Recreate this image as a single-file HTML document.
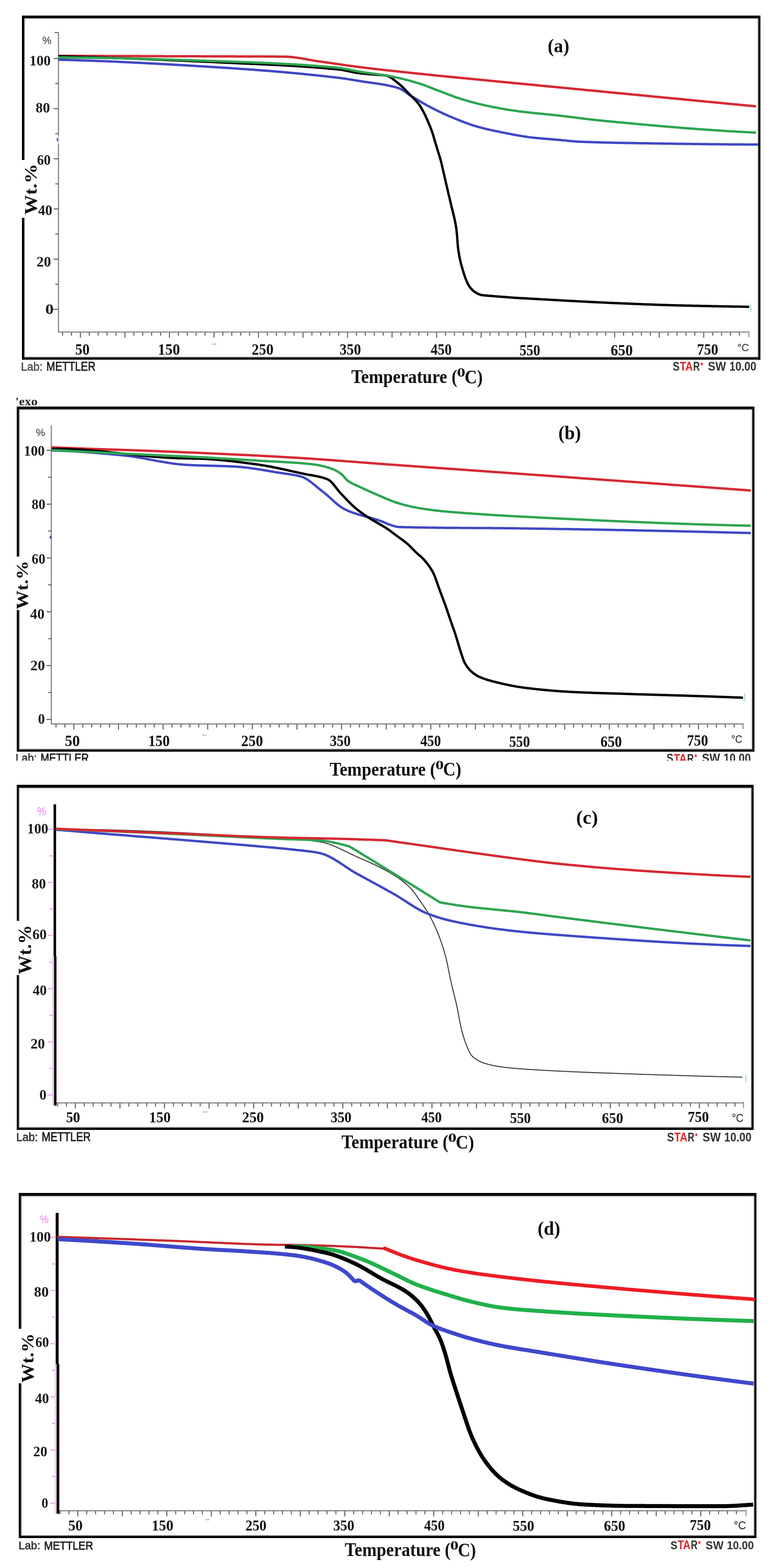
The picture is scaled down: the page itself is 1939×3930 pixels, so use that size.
<!DOCTYPE html><html><head><meta charset="utf-8"><title>TGA curves</title><style>html,body{margin:0;padding:0;background:#fff;}svg{display:block;}</style></head><body><svg width="1939" height="3930" viewBox="0 0 1939 3930"><rect width="1939" height="3930" fill="#fff"/>
<rect x="55" y="45.5" width="1850.00" height="2.00" fill="#9a9a9a"/>
<rect x="55" y="894.0" width="1850.00" height="2.00" fill="#9a9a9a"/>
<rect x="1898" y="39" width="2.00" height="862.50" fill="#9a9a9a"/>
<rect x="55" y="39" width="1850.00" height="6.50" fill="#000"/>
<rect x="55" y="896.0" width="1850.00" height="5.50" fill="#000"/>
<rect x="60.5" y="47.5" width="2.00" height="353.50" fill="#9a9a9a"/>
<rect x="55" y="39" width="5.50" height="362.00" fill="#000"/>
<rect x="60.5" y="546" width="2.00" height="348.00" fill="#9a9a9a"/>
<rect x="55" y="546" width="5.50" height="355.50" fill="#000"/>
<rect x="1900.0" y="39" width="5.00" height="862.50" fill="#000"/>
<line x1="146.5" y1="81.0" x2="146.5" y2="833.5" stroke="#8a8a8a" stroke-width="3"/>
<line x1="134.5" y1="146.4" x2="146.5" y2="146.4" stroke="#5a5a5a" stroke-width="2.5"/>
<line x1="138.5" y1="209.3" x2="146.5" y2="209.3" stroke="#5a5a5a" stroke-width="2.5"/>
<line x1="134.5" y1="272.2" x2="146.5" y2="272.2" stroke="#5a5a5a" stroke-width="2.5"/>
<line x1="138.5" y1="335.1" x2="146.5" y2="335.1" stroke="#5a5a5a" stroke-width="2.5"/>
<line x1="134.5" y1="398.0" x2="146.5" y2="398.0" stroke="#5a5a5a" stroke-width="2.5"/>
<line x1="138.5" y1="460.9" x2="146.5" y2="460.9" stroke="#5a5a5a" stroke-width="2.5"/>
<line x1="134.5" y1="523.7" x2="146.5" y2="523.7" stroke="#5a5a5a" stroke-width="2.5"/>
<line x1="138.5" y1="586.6" x2="146.5" y2="586.6" stroke="#5a5a5a" stroke-width="2.5"/>
<line x1="134.5" y1="649.5" x2="146.5" y2="649.5" stroke="#5a5a5a" stroke-width="2.5"/>
<line x1="138.5" y1="712.4" x2="146.5" y2="712.4" stroke="#5a5a5a" stroke-width="2.5"/>
<line x1="134.5" y1="775.3" x2="146.5" y2="775.3" stroke="#5a5a5a" stroke-width="2.5"/>
<line x1="137.0" y1="81.5" x2="146.0" y2="81.5" stroke="#5a5a5a" stroke-width="2.5"/>
<rect x="144.5" y="340" width="4.00" height="21.00" fill="#fff"/>
<line x1="146.5" y1="340.0" x2="146.5" y2="361.0" stroke="#c8c8c8" stroke-width="3"/>
<rect x="142" y="346" width="3.50" height="8.00" fill="#5a60c8"/>
<line x1="145.0" y1="832.3" x2="1876.0" y2="832.3" stroke="#8a8a8a" stroke-width="3"/>
<line x1="156.8" y1="833.3" x2="156.8" y2="841.3" stroke="#5a5a5a" stroke-width="2.5"/>
<line x1="179.1" y1="833.3" x2="179.1" y2="841.3" stroke="#5a5a5a" stroke-width="2.5"/>
<line x1="201.4" y1="833.3" x2="201.4" y2="846.3" stroke="#5a5a5a" stroke-width="2.5"/>
<line x1="223.7" y1="833.3" x2="223.7" y2="841.3" stroke="#5a5a5a" stroke-width="2.5"/>
<line x1="246.0" y1="833.3" x2="246.0" y2="841.3" stroke="#5a5a5a" stroke-width="2.5"/>
<line x1="268.3" y1="833.3" x2="268.3" y2="841.3" stroke="#5a5a5a" stroke-width="2.5"/>
<line x1="290.6" y1="833.3" x2="290.6" y2="841.3" stroke="#5a5a5a" stroke-width="2.5"/>
<line x1="312.9" y1="833.3" x2="312.9" y2="846.3" stroke="#5a5a5a" stroke-width="2.5"/>
<line x1="335.3" y1="833.3" x2="335.3" y2="841.3" stroke="#5a5a5a" stroke-width="2.5"/>
<line x1="357.6" y1="833.3" x2="357.6" y2="841.3" stroke="#5a5a5a" stroke-width="2.5"/>
<line x1="379.9" y1="833.3" x2="379.9" y2="841.3" stroke="#5a5a5a" stroke-width="2.5"/>
<line x1="402.2" y1="833.3" x2="402.2" y2="841.3" stroke="#5a5a5a" stroke-width="2.5"/>
<line x1="424.5" y1="833.3" x2="424.5" y2="846.3" stroke="#5a5a5a" stroke-width="2.5"/>
<line x1="446.8" y1="833.3" x2="446.8" y2="841.3" stroke="#5a5a5a" stroke-width="2.5"/>
<line x1="469.1" y1="833.3" x2="469.1" y2="841.3" stroke="#5a5a5a" stroke-width="2.5"/>
<line x1="491.4" y1="833.3" x2="491.4" y2="841.3" stroke="#5a5a5a" stroke-width="2.5"/>
<line x1="513.7" y1="833.3" x2="513.7" y2="841.3" stroke="#5a5a5a" stroke-width="2.5"/>
<line x1="536.0" y1="833.3" x2="536.0" y2="846.3" stroke="#5a5a5a" stroke-width="2.5"/>
<line x1="558.3" y1="833.3" x2="558.3" y2="841.3" stroke="#5a5a5a" stroke-width="2.5"/>
<line x1="580.7" y1="833.3" x2="580.7" y2="841.3" stroke="#5a5a5a" stroke-width="2.5"/>
<line x1="603.0" y1="833.3" x2="603.0" y2="841.3" stroke="#5a5a5a" stroke-width="2.5"/>
<line x1="625.3" y1="833.3" x2="625.3" y2="841.3" stroke="#5a5a5a" stroke-width="2.5"/>
<line x1="647.6" y1="833.3" x2="647.6" y2="846.3" stroke="#5a5a5a" stroke-width="2.5"/>
<line x1="669.9" y1="833.3" x2="669.9" y2="841.3" stroke="#5a5a5a" stroke-width="2.5"/>
<line x1="692.2" y1="833.3" x2="692.2" y2="841.3" stroke="#5a5a5a" stroke-width="2.5"/>
<line x1="714.5" y1="833.3" x2="714.5" y2="841.3" stroke="#5a5a5a" stroke-width="2.5"/>
<line x1="736.8" y1="833.3" x2="736.8" y2="841.3" stroke="#5a5a5a" stroke-width="2.5"/>
<line x1="759.1" y1="833.3" x2="759.1" y2="846.3" stroke="#5a5a5a" stroke-width="2.5"/>
<line x1="781.4" y1="833.3" x2="781.4" y2="841.3" stroke="#5a5a5a" stroke-width="2.5"/>
<line x1="803.7" y1="833.3" x2="803.7" y2="841.3" stroke="#5a5a5a" stroke-width="2.5"/>
<line x1="826.1" y1="833.3" x2="826.1" y2="841.3" stroke="#5a5a5a" stroke-width="2.5"/>
<line x1="848.4" y1="833.3" x2="848.4" y2="841.3" stroke="#5a5a5a" stroke-width="2.5"/>
<line x1="870.7" y1="833.3" x2="870.7" y2="846.3" stroke="#5a5a5a" stroke-width="2.5"/>
<line x1="893.0" y1="833.3" x2="893.0" y2="841.3" stroke="#5a5a5a" stroke-width="2.5"/>
<line x1="915.3" y1="833.3" x2="915.3" y2="841.3" stroke="#5a5a5a" stroke-width="2.5"/>
<line x1="937.6" y1="833.3" x2="937.6" y2="841.3" stroke="#5a5a5a" stroke-width="2.5"/>
<line x1="959.9" y1="833.3" x2="959.9" y2="841.3" stroke="#5a5a5a" stroke-width="2.5"/>
<line x1="982.2" y1="833.3" x2="982.2" y2="846.3" stroke="#5a5a5a" stroke-width="2.5"/>
<line x1="1004.5" y1="833.3" x2="1004.5" y2="841.3" stroke="#5a5a5a" stroke-width="2.5"/>
<line x1="1026.8" y1="833.3" x2="1026.8" y2="841.3" stroke="#5a5a5a" stroke-width="2.5"/>
<line x1="1049.1" y1="833.3" x2="1049.1" y2="841.3" stroke="#5a5a5a" stroke-width="2.5"/>
<line x1="1071.5" y1="833.3" x2="1071.5" y2="841.3" stroke="#5a5a5a" stroke-width="2.5"/>
<line x1="1093.8" y1="833.3" x2="1093.8" y2="846.3" stroke="#5a5a5a" stroke-width="2.5"/>
<line x1="1116.1" y1="833.3" x2="1116.1" y2="841.3" stroke="#5a5a5a" stroke-width="2.5"/>
<line x1="1138.4" y1="833.3" x2="1138.4" y2="841.3" stroke="#5a5a5a" stroke-width="2.5"/>
<line x1="1160.7" y1="833.3" x2="1160.7" y2="841.3" stroke="#5a5a5a" stroke-width="2.5"/>
<line x1="1183.0" y1="833.3" x2="1183.0" y2="841.3" stroke="#5a5a5a" stroke-width="2.5"/>
<line x1="1205.3" y1="833.3" x2="1205.3" y2="846.3" stroke="#5a5a5a" stroke-width="2.5"/>
<line x1="1227.6" y1="833.3" x2="1227.6" y2="841.3" stroke="#5a5a5a" stroke-width="2.5"/>
<line x1="1249.9" y1="833.3" x2="1249.9" y2="841.3" stroke="#5a5a5a" stroke-width="2.5"/>
<line x1="1272.2" y1="833.3" x2="1272.2" y2="841.3" stroke="#5a5a5a" stroke-width="2.5"/>
<line x1="1294.5" y1="833.3" x2="1294.5" y2="841.3" stroke="#5a5a5a" stroke-width="2.5"/>
<line x1="1316.9" y1="833.3" x2="1316.9" y2="846.3" stroke="#5a5a5a" stroke-width="2.5"/>
<line x1="1339.2" y1="833.3" x2="1339.2" y2="841.3" stroke="#5a5a5a" stroke-width="2.5"/>
<line x1="1361.5" y1="833.3" x2="1361.5" y2="841.3" stroke="#5a5a5a" stroke-width="2.5"/>
<line x1="1383.8" y1="833.3" x2="1383.8" y2="841.3" stroke="#5a5a5a" stroke-width="2.5"/>
<line x1="1406.1" y1="833.3" x2="1406.1" y2="841.3" stroke="#5a5a5a" stroke-width="2.5"/>
<line x1="1428.4" y1="833.3" x2="1428.4" y2="846.3" stroke="#5a5a5a" stroke-width="2.5"/>
<line x1="1450.7" y1="833.3" x2="1450.7" y2="841.3" stroke="#5a5a5a" stroke-width="2.5"/>
<line x1="1473.0" y1="833.3" x2="1473.0" y2="841.3" stroke="#5a5a5a" stroke-width="2.5"/>
<line x1="1495.3" y1="833.3" x2="1495.3" y2="841.3" stroke="#5a5a5a" stroke-width="2.5"/>
<line x1="1517.6" y1="833.3" x2="1517.6" y2="841.3" stroke="#5a5a5a" stroke-width="2.5"/>
<line x1="1539.9" y1="833.3" x2="1539.9" y2="846.3" stroke="#5a5a5a" stroke-width="2.5"/>
<line x1="1562.2" y1="833.3" x2="1562.2" y2="841.3" stroke="#5a5a5a" stroke-width="2.5"/>
<line x1="1584.6" y1="833.3" x2="1584.6" y2="841.3" stroke="#5a5a5a" stroke-width="2.5"/>
<line x1="1606.9" y1="833.3" x2="1606.9" y2="841.3" stroke="#5a5a5a" stroke-width="2.5"/>
<line x1="1629.2" y1="833.3" x2="1629.2" y2="841.3" stroke="#5a5a5a" stroke-width="2.5"/>
<line x1="1651.5" y1="833.3" x2="1651.5" y2="846.3" stroke="#5a5a5a" stroke-width="2.5"/>
<line x1="1673.8" y1="833.3" x2="1673.8" y2="841.3" stroke="#5a5a5a" stroke-width="2.5"/>
<line x1="1696.1" y1="833.3" x2="1696.1" y2="841.3" stroke="#5a5a5a" stroke-width="2.5"/>
<line x1="1718.4" y1="833.3" x2="1718.4" y2="841.3" stroke="#5a5a5a" stroke-width="2.5"/>
<line x1="1740.7" y1="833.3" x2="1740.7" y2="841.3" stroke="#5a5a5a" stroke-width="2.5"/>
<line x1="1763.0" y1="833.3" x2="1763.0" y2="846.3" stroke="#5a5a5a" stroke-width="2.5"/>
<line x1="1785.3" y1="833.3" x2="1785.3" y2="841.3" stroke="#5a5a5a" stroke-width="2.5"/>
<line x1="1807.6" y1="833.3" x2="1807.6" y2="841.3" stroke="#5a5a5a" stroke-width="2.5"/>
<line x1="1830.0" y1="833.3" x2="1830.0" y2="841.3" stroke="#5a5a5a" stroke-width="2.5"/>
<line x1="1852.3" y1="833.3" x2="1852.3" y2="841.3" stroke="#5a5a5a" stroke-width="2.5"/>
<line x1="1876.0" y1="830.3" x2="1876.0" y2="845.3" stroke="#8a8a8a" stroke-width="2.5"/>
<text transform="translate(73.87,164.15) scale(0.9950,1)" font-family="'Liberation Serif',serif" font-weight="bold" font-size="35.57" fill="#1a1a1a" >100</text>
<text transform="translate(89.30,281.65) scale(1.0142,1)" font-family="'Liberation Serif',serif" font-weight="bold" font-size="35.57" fill="#1a1a1a" >80</text>
<text transform="translate(92.63,412.65) scale(0.9638,1)" font-family="'Liberation Serif',serif" font-weight="bold" font-size="35.57" fill="#1a1a1a" >60</text>
<text transform="translate(95.52,538.65) scale(0.9963,1)" font-family="'Liberation Serif',serif" font-weight="bold" font-size="35.57" fill="#1a1a1a" >40</text>
<text transform="translate(91.48,668.35) scale(1.0209,1)" font-family="'Liberation Serif',serif" font-weight="bold" font-size="35.57" fill="#1a1a1a" >20</text>
<text transform="translate(113.39,787.35) scale(1.1875,1)" font-family="'Liberation Serif',serif" font-weight="bold" font-size="35.57" fill="#1a1a1a" >0</text>
<text transform="translate(188.57,888.62) scale(0.9115,1)" font-family="'Liberation Serif',serif" font-weight="bold" font-size="39.27" fill="#111" >50</text>
<text transform="translate(395.55,888.62) scale(0.9380,1)" font-family="'Liberation Serif',serif" font-weight="bold" font-size="39.27" fill="#111" >150</text>
<text transform="translate(630.47,888.62) scale(0.9290,1)" font-family="'Liberation Serif',serif" font-weight="bold" font-size="39.27" fill="#111" >250</text>
<text transform="translate(850.65,888.62) scale(0.9118,1)" font-family="'Liberation Serif',serif" font-weight="bold" font-size="39.27" fill="#111" >350</text>
<text transform="translate(1079.02,888.62) scale(0.8879,1)" font-family="'Liberation Serif',serif" font-weight="bold" font-size="39.27" fill="#111" >450</text>
<text transform="translate(1301.62,890.62) scale(0.8775,1)" font-family="'Liberation Serif',serif" font-weight="bold" font-size="39.27" fill="#111" >550</text>
<text transform="translate(1529.73,890.62) scale(0.9453,1)" font-family="'Liberation Serif',serif" font-weight="bold" font-size="39.27" fill="#111" >650</text>
<text transform="translate(1745.97,888.62) scale(0.9063,1)" font-family="'Liberation Serif',serif" font-weight="bold" font-size="39.27" fill="#111" >750</text>
<text transform="translate(1847.49,879.75) scale(0.9983,1)" font-family="'Liberation Sans',Arial,sans-serif" font-weight="normal" font-size="25.42" fill="#444" stroke="#444" stroke-width="0.5">°C</text>
<rect x="530" y="861.5" width="12.00" height="2.00" fill="#b0b0b0"/>
<text transform="translate(106.08,109.85) scale(0.9981,1)" font-family="'Liberation Sans',Arial,sans-serif" font-weight="normal" font-size="25.73" fill="#555" stroke="#555" stroke-width="0.5">%</text>
<text transform="translate(1371.95,131.28) scale(0.9443,1)" font-family="'Liberation Serif',serif" font-weight="bold" font-size="49.41" fill="#111" >(a)</text>
<text transform="translate(92.33,538.00) rotate(-90) scale(1.1129,1)" font-family="'Liberation Serif',serif" font-weight="bold" font-size="44.40" fill="#111">Wt.%</text>
<text transform="translate(879.92,960.21) scale(0.8782,1)" font-family="'Liberation Serif',serif" font-weight="bold" font-size="49.30" fill="#111" >Temperature (</text>
<text transform="translate(1144.69,943.99) scale(1.3134,1)" font-family="'Liberation Serif',serif" font-weight="bold" font-size="32.16" fill="#111" >0</text>
<text transform="translate(1163.89,960.51) scale(0.9031,1)" font-family="'Liberation Serif',serif" font-weight="bold" font-size="47.86" fill="#111" >C)</text>
<text transform="translate(52.41,928.52) scale(0.9691,1)" font-family="'Liberation Sans',Arial,sans-serif" font-weight="normal" font-size="28.87" fill="#555" stroke="#555" stroke-width="0.9">Lab:</text>
<text transform="translate(116.34,928.80) scale(0.8545,1)" font-family="'Liberation Sans',Arial,sans-serif" font-weight="normal" font-size="30.81" fill="#222" stroke="#222" stroke-width="1.1">METTLER</text>
<text transform="translate(1685.25,929.10) scale(0.8535,1)" font-family="'Liberation Sans',Arial,sans-serif" font-weight="bold" font-size="30.51" fill="#333" >S</text>
<text transform="translate(1703.21,929.40) scale(0.8237,1)" font-family="'Liberation Sans',Arial,sans-serif" font-weight="bold" font-size="31.40" fill="#e0262c" >TA</text>
<text transform="translate(1736.45,929.40) scale(0.7376,1)" font-family="'Liberation Sans',Arial,sans-serif" font-weight="bold" font-size="31.40" fill="#333" >R</text>
<text transform="translate(1754.35,922.96) scale(0.8244,1)" font-family="'Liberation Sans',Arial,sans-serif" font-weight="bold" font-size="22.04" fill="#e0262c" >*</text>
<text transform="translate(1773.49,929.10) scale(0.9163,1)" font-family="'Liberation Sans',Arial,sans-serif" font-weight="bold" font-size="30.51" fill="#333" >SW</text>
<text transform="translate(1827.20,929.10) scale(0.8870,1)" font-family="'Liberation Sans',Arial,sans-serif" font-weight="bold" font-size="30.51" fill="#333" >10.00</text>
<line x1="1880.6" y1="761.0" x2="1880.6" y2="781.0" stroke="#7fd0d8" stroke-width="2"/>
<path d="M146.0,140.0 L149.0,140.0 L152.0,140.0 L155.0,140.0 L158.0,140.0 L161.0,140.0 L164.0,140.1 L167.0,140.1 L170.0,140.1 L173.0,140.1 L176.0,140.1 L179.0,140.1 L182.0,140.1 L185.0,140.1 L188.0,140.1 L191.0,140.1 L194.0,140.1 L197.0,140.2 L200.0,140.2 L203.0,140.2 L206.0,140.2 L209.0,140.2 L212.0,140.2 L215.0,140.2 L218.0,140.2 L221.0,140.2 L224.0,140.2 L227.0,140.3 L230.0,140.3 L233.0,140.3 L236.0,140.3 L239.0,140.3 L242.0,140.3 L245.0,140.3 L248.0,140.3 L251.0,140.3 L254.0,140.3 L257.0,140.3 L260.0,140.4 L263.0,140.4 L266.0,140.4 L269.0,140.4 L272.0,140.4 L275.0,140.4 L278.0,140.4 L281.0,140.4 L284.0,140.4 L287.0,140.4 L290.0,140.5 L293.0,140.5 L296.0,140.5 L299.0,140.5 L302.0,140.5 L305.0,140.5 L308.0,140.5 L311.0,140.5 L314.0,140.5 L317.0,140.5 L320.0,140.6 L323.0,140.6 L326.0,140.6 L329.0,140.6 L332.0,140.6 L335.0,140.6 L338.0,140.6 L341.0,140.6 L344.0,140.6 L347.0,140.6 L350.0,140.7 L353.0,140.7 L356.0,140.7 L359.0,140.7 L362.0,140.7 L365.0,140.7 L368.0,140.7 L371.0,140.7 L374.0,140.7 L377.0,140.7 L380.0,140.8 L383.0,140.8 L386.0,140.8 L389.0,140.8 L392.0,140.8 L395.0,140.8 L398.0,140.8 L401.0,140.8 L404.0,140.8 L407.0,140.8 L410.0,140.9 L413.0,140.9 L416.0,140.9 L419.0,140.9 L422.0,140.9 L425.0,140.9 L428.0,140.9 L431.0,140.9 L434.0,140.9 L437.0,141.0 L440.0,141.0 L443.0,141.0 L446.0,141.0 L449.0,141.0 L452.0,141.0 L455.0,141.0 L458.0,141.0 L461.0,141.0 L464.0,141.0 L467.0,141.1 L470.0,141.1 L473.0,141.1 L476.0,141.1 L479.0,141.1 L482.0,141.1 L485.0,141.1 L488.0,141.1 L491.0,141.1 L494.0,141.1 L497.0,141.1 L500.0,141.1 L503.0,141.1 L506.0,141.2 L509.0,141.2 L512.0,141.2 L515.0,141.2 L518.0,141.2 L521.0,141.2 L524.0,141.2 L527.0,141.2 L530.0,141.2 L533.0,141.2 L536.0,141.2 L539.0,141.2 L542.0,141.2 L545.0,141.2 L548.0,141.2 L551.0,141.3 L554.0,141.3 L557.0,141.3 L560.0,141.3 L563.0,141.3 L566.0,141.3 L569.0,141.3 L572.0,141.3 L575.0,141.3 L578.0,141.3 L581.0,141.3 L584.0,141.3 L587.0,141.3 L590.0,141.4 L593.0,141.4 L596.0,141.4 L599.0,141.4 L602.0,141.4 L605.0,141.4 L608.0,141.4 L611.0,141.4 L614.0,141.4 L617.0,141.4 L620.0,141.4 L623.0,141.5 L626.0,141.5 L629.0,141.5 L632.0,141.5 L635.0,141.5 L638.0,141.5 L641.0,141.5 L644.0,141.5 L647.0,141.6 L650.0,141.6 L653.0,141.6 L656.0,141.6 L659.0,141.6 L662.0,141.6 L665.0,141.7 L668.0,141.7 L671.0,141.7 L674.0,141.7 L677.0,141.7 L680.0,141.7 L683.0,141.8 L686.0,141.8 L689.0,141.8 L692.0,141.8 L695.0,141.9 L698.0,141.9 L701.0,141.9 L704.0,141.9 L707.0,141.9 L710.0,142.0 L713.0,142.0 L716.0,142.1 L719.0,142.2 L722.0,142.3 L725.0,142.5 L728.0,142.7 L731.0,143.0 L734.0,143.3 L737.0,143.7 L740.0,144.1 L743.0,144.5 L746.0,144.9 L749.0,145.4 L752.0,145.8 L755.0,146.3 L758.0,146.8 L761.0,147.4 L764.0,147.9 L767.0,148.4 L770.0,149.0 L773.0,149.5 L776.0,150.1 L779.0,150.6 L782.0,151.1 L785.0,151.6 L788.0,152.2 L791.0,152.6 L794.0,153.1 L797.0,153.6 L800.0,154.0 L803.0,154.4 L806.0,154.8 L809.0,155.3 L812.0,155.7 L815.0,156.1 L818.0,156.5 L821.0,157.0 L824.0,157.4 L827.0,157.8 L830.0,158.3 L833.0,158.7 L836.0,159.1 L839.0,159.6 L842.0,160.0 L845.0,160.5 L848.0,160.9 L851.0,161.3 L854.0,161.7 L857.0,162.2 L860.0,162.6 L863.0,163.0 L866.0,163.5 L869.0,163.9 L872.0,164.3 L875.0,164.7 L878.0,165.1 L881.0,165.5 L884.0,165.9 L887.0,166.3 L890.0,166.7 L893.0,167.1 L896.0,167.5 L899.0,167.9 L902.0,168.2 L905.0,168.6 L908.0,169.0 L911.0,169.4 L914.0,169.7 L917.0,170.1 L920.0,170.5 L923.0,170.8 L926.0,171.2 L929.0,171.5 L932.0,171.9 L935.0,172.2 L938.0,172.6 L941.0,172.9 L944.0,173.3 L947.0,173.6 L950.0,174.0 L953.0,174.3 L956.0,174.6 L959.0,175.0 L962.0,175.3 L965.0,175.7 L968.0,176.0 L971.0,176.3 L974.0,176.7 L977.0,177.0 L980.0,177.3 L983.0,177.6 L986.0,178.0 L989.0,178.3 L992.0,178.6 L995.0,178.9 L998.0,179.3 L1001.0,179.6 L1004.0,179.9 L1007.0,180.2 L1010.0,180.6 L1013.0,180.9 L1016.0,181.2 L1019.0,181.5 L1022.0,181.8 L1025.0,182.1 L1028.0,182.5 L1031.0,182.8 L1034.0,183.1 L1037.0,183.4 L1040.0,183.7 L1043.0,184.0 L1046.0,184.3 L1049.0,184.7 L1052.0,185.0 L1055.0,185.3 L1058.0,185.6 L1061.0,185.9 L1064.0,186.2 L1067.0,186.5 L1070.0,186.9 L1073.0,187.2 L1076.0,187.5 L1079.0,187.8 L1082.0,188.1 L1085.0,188.4 L1088.0,188.7 L1091.0,189.0 L1094.0,189.3 L1097.0,189.6 L1100.0,189.9 L1103.0,190.2 L1106.0,190.5 L1109.0,190.8 L1112.0,191.1 L1115.0,191.4 L1118.0,191.7 L1121.0,192.0 L1124.0,192.3 L1127.0,192.6 L1130.0,192.9 L1133.0,193.1 L1136.0,193.4 L1139.0,193.7 L1142.0,194.0 L1145.0,194.3 L1148.0,194.6 L1151.0,194.9 L1154.0,195.2 L1157.0,195.5 L1160.0,195.8 L1163.0,196.1 L1166.0,196.3 L1169.0,196.6 L1172.0,196.9 L1175.0,197.2 L1178.0,197.5 L1181.0,197.8 L1184.0,198.1 L1187.0,198.4 L1190.0,198.7 L1193.0,199.0 L1196.0,199.3 L1199.0,199.5 L1202.0,199.8 L1205.0,200.1 L1208.0,200.4 L1211.0,200.7 L1214.0,201.0 L1217.0,201.3 L1220.0,201.6 L1223.0,201.9 L1226.0,202.2 L1229.0,202.5 L1232.0,202.8 L1235.0,203.1 L1238.0,203.3 L1241.0,203.6 L1244.0,203.9 L1247.0,204.2 L1250.0,204.5 L1253.0,204.8 L1256.0,205.1 L1259.0,205.4 L1262.0,205.7 L1265.0,206.0 L1268.0,206.3 L1271.0,206.5 L1274.0,206.8 L1277.0,207.1 L1280.0,207.4 L1283.0,207.7 L1286.0,208.0 L1289.0,208.3 L1292.0,208.6 L1295.0,208.9 L1298.0,209.2 L1301.0,209.4 L1304.0,209.7 L1307.0,210.0 L1310.0,210.3 L1313.0,210.6 L1316.0,210.9 L1319.0,211.2 L1322.0,211.5 L1325.0,211.8 L1328.0,212.1 L1331.0,212.3 L1334.0,212.6 L1337.0,212.9 L1340.0,213.2 L1343.0,213.5 L1346.0,213.8 L1349.0,214.1 L1352.0,214.4 L1355.0,214.7 L1358.0,214.9 L1361.0,215.2 L1364.0,215.5 L1367.0,215.8 L1370.0,216.1 L1373.0,216.4 L1376.0,216.7 L1379.0,217.0 L1382.0,217.3 L1385.0,217.6 L1388.0,217.8 L1391.0,218.1 L1394.0,218.4 L1397.0,218.7 L1400.0,219.0 L1403.0,219.3 L1406.0,219.6 L1409.0,219.9 L1412.0,220.2 L1415.0,220.4 L1418.0,220.7 L1421.0,221.0 L1424.0,221.3 L1427.0,221.6 L1430.0,221.9 L1433.0,222.2 L1436.0,222.5 L1439.0,222.8 L1442.0,223.1 L1445.0,223.3 L1448.0,223.6 L1451.0,223.9 L1454.0,224.2 L1457.0,224.5 L1460.0,224.8 L1463.0,225.1 L1466.0,225.4 L1469.0,225.7 L1472.0,226.0 L1475.0,226.2 L1478.0,226.5 L1481.0,226.8 L1484.0,227.1 L1487.0,227.4 L1490.0,227.7 L1493.0,228.0 L1496.0,228.3 L1499.0,228.6 L1502.0,228.8 L1505.0,229.1 L1508.0,229.4 L1511.0,229.7 L1514.0,230.0 L1517.0,230.3 L1520.0,230.6 L1523.0,230.9 L1526.0,231.2 L1529.0,231.5 L1532.0,231.7 L1535.0,232.0 L1538.0,232.3 L1541.0,232.6 L1544.0,232.9 L1547.0,233.2 L1550.0,233.5 L1553.0,233.8 L1556.0,234.1 L1559.0,234.3 L1562.0,234.6 L1565.0,234.9 L1568.0,235.2 L1571.0,235.5 L1574.0,235.8 L1577.0,236.1 L1580.0,236.4 L1583.0,236.7 L1586.0,237.0 L1589.0,237.2 L1592.0,237.5 L1595.0,237.8 L1598.0,238.1 L1601.0,238.4 L1604.0,238.7 L1607.0,239.0 L1610.0,239.3 L1613.0,239.6 L1616.0,239.8 L1619.0,240.1 L1622.0,240.4 L1625.0,240.7 L1628.0,241.0 L1631.0,241.3 L1634.0,241.6 L1637.0,241.9 L1640.0,242.2 L1643.0,242.4 L1646.0,242.7 L1649.0,243.0 L1652.0,243.3 L1655.0,243.6 L1658.0,243.9 L1661.0,244.2 L1664.0,244.5 L1667.0,244.8 L1670.0,245.0 L1673.0,245.3 L1676.0,245.6 L1679.0,245.9 L1682.0,246.2 L1685.0,246.5 L1688.0,246.8 L1691.0,247.1 L1694.0,247.4 L1697.0,247.6 L1700.0,247.9 L1703.0,248.2 L1706.0,248.5 L1709.0,248.8 L1712.0,249.1 L1715.0,249.4 L1718.0,249.7 L1721.0,250.0 L1724.0,250.2 L1727.0,250.5 L1730.0,250.8 L1733.0,251.1 L1736.0,251.4 L1739.0,251.7 L1742.0,252.0 L1745.0,252.3 L1748.0,252.6 L1751.0,252.8 L1754.0,253.1 L1757.0,253.4 L1760.0,253.7 L1763.0,254.0 L1766.0,254.3 L1769.0,254.6 L1772.0,254.9 L1775.0,255.2 L1778.0,255.4 L1781.0,255.7 L1784.0,256.0 L1787.0,256.3 L1790.0,256.6 L1793.0,256.9 L1796.0,257.2 L1799.0,257.5 L1802.0,257.8 L1805.0,258.0 L1808.0,258.3 L1811.0,258.6 L1814.0,258.9 L1817.0,259.2 L1820.0,259.5 L1823.0,259.8 L1826.0,260.1 L1829.0,260.4 L1832.0,260.6 L1835.0,260.9 L1838.0,261.2 L1841.0,261.5 L1844.0,261.8 L1847.0,262.1 L1850.0,262.4 L1853.0,262.7 L1856.0,262.9 L1859.0,263.2 L1862.0,263.5 L1865.0,263.8 L1868.0,264.1 L1871.0,264.4 L1874.0,264.7 L1877.0,265.0 L1880.0,265.3 L1883.0,265.5 L1886.0,265.8 L1889.0,266.1 L1892.0,266.4 L1894.0,266.6" fill="none" stroke="#d52a33" stroke-width="6" stroke-linejoin="round" stroke-linecap="butt"/>
<path d="M146.0,149.6 L149.0,149.7 L152.0,149.8 L155.0,149.8 L158.0,149.9 L161.0,150.0 L164.0,150.1 L167.0,150.2 L170.0,150.2 L173.0,150.3 L176.0,150.4 L179.0,150.5 L182.0,150.6 L185.0,150.7 L188.0,150.8 L191.0,150.9 L194.0,151.0 L197.0,151.1 L200.0,151.2 L203.0,151.3 L206.0,151.4 L209.0,151.5 L212.0,151.6 L215.0,151.7 L218.0,151.8 L221.0,151.9 L224.0,152.0 L227.0,152.1 L230.0,152.2 L233.0,152.3 L236.0,152.4 L239.0,152.6 L242.0,152.7 L245.0,152.8 L248.0,152.9 L251.0,153.0 L254.0,153.1 L257.0,153.3 L260.0,153.4 L263.0,153.5 L266.0,153.6 L269.0,153.7 L272.0,153.9 L275.0,154.0 L278.0,154.1 L281.0,154.3 L284.0,154.4 L287.0,154.5 L290.0,154.6 L293.0,154.8 L296.0,154.9 L299.0,155.0 L302.0,155.2 L305.0,155.3 L308.0,155.5 L311.0,155.6 L314.0,155.7 L317.0,155.9 L320.0,156.0 L323.0,156.2 L326.0,156.3 L329.0,156.4 L332.0,156.6 L335.0,156.7 L338.0,156.9 L341.0,157.0 L344.0,157.2 L347.0,157.3 L350.0,157.5 L353.0,157.6 L356.0,157.8 L359.0,157.9 L362.0,158.1 L365.0,158.2 L368.0,158.4 L371.0,158.6 L374.0,158.7 L377.0,158.9 L380.0,159.0 L383.0,159.2 L386.0,159.4 L389.0,159.5 L392.0,159.7 L395.0,159.8 L398.0,160.0 L401.0,160.2 L404.0,160.3 L407.0,160.5 L410.0,160.7 L413.0,160.8 L416.0,161.0 L419.0,161.2 L422.0,161.3 L425.0,161.5 L428.0,161.7 L431.0,161.8 L434.0,162.0 L437.0,162.2 L440.0,162.4 L443.0,162.5 L446.0,162.7 L449.0,162.9 L452.0,163.1 L455.0,163.2 L458.0,163.4 L461.0,163.6 L464.0,163.8 L467.0,163.9 L470.0,164.1 L473.0,164.3 L476.0,164.5 L479.0,164.7 L482.0,164.8 L485.0,165.0 L488.0,165.2 L491.0,165.4 L494.0,165.6 L497.0,165.7 L500.0,165.9 L503.0,166.1 L506.0,166.3 L509.0,166.5 L512.0,166.7 L515.0,166.8 L518.0,167.0 L521.0,167.2 L524.0,167.4 L527.0,167.6 L530.0,167.8 L533.0,168.0 L536.0,168.2 L539.0,168.3 L542.0,168.5 L545.0,168.7 L548.0,168.9 L551.0,169.1 L554.0,169.3 L557.0,169.5 L560.0,169.7 L563.0,169.9 L566.0,170.1 L569.0,170.3 L572.0,170.5 L575.0,170.6 L578.0,170.8 L581.0,171.0 L584.0,171.2 L587.0,171.4 L590.0,171.6 L593.0,171.8 L596.0,172.0 L599.0,172.2 L602.0,172.5 L605.0,172.7 L608.0,172.9 L611.0,173.1 L614.0,173.3 L617.0,173.5 L620.0,173.7 L623.0,173.9 L626.0,174.2 L629.0,174.4 L632.0,174.6 L635.0,174.8 L638.0,175.0 L641.0,175.3 L644.0,175.5 L647.0,175.7 L650.0,175.9 L653.0,176.2 L656.0,176.4 L659.0,176.6 L662.0,176.9 L665.0,177.1 L668.0,177.3 L671.0,177.6 L674.0,177.8 L677.0,178.1 L680.0,178.3 L683.0,178.5 L686.0,178.8 L689.0,179.0 L692.0,179.3 L695.0,179.5 L698.0,179.8 L701.0,180.1 L704.0,180.3 L707.0,180.6 L710.0,180.8 L713.0,181.1 L716.0,181.4 L719.0,181.6 L722.0,181.9 L725.0,182.2 L728.0,182.4 L731.0,182.7 L734.0,183.0 L737.0,183.3 L740.0,183.5 L743.0,183.8 L746.0,184.1 L749.0,184.4 L752.0,184.7 L755.0,185.0 L758.0,185.3 L761.0,185.6 L764.0,185.9 L767.0,186.1 L770.0,186.4 L773.0,186.7 L776.0,187.1 L779.0,187.4 L782.0,187.7 L785.0,188.0 L788.0,188.3 L791.0,188.6 L794.0,188.9 L797.0,189.2 L800.0,189.6 L803.0,189.9 L806.0,190.2 L809.0,190.5 L812.0,190.9 L815.0,191.2 L818.0,191.5 L821.0,191.9 L824.0,192.2 L827.0,192.5 L830.0,192.9 L833.0,193.2 L836.0,193.6 L839.0,193.9 L842.0,194.3 L845.0,194.6 L848.0,195.0 L851.0,195.4 L854.0,195.8 L857.0,196.2 L860.0,196.6 L863.0,197.0 L866.0,197.5 L869.0,197.9 L872.0,198.4 L875.0,198.9 L878.0,199.3 L881.0,199.8 L884.0,200.3 L887.0,200.8 L890.0,201.3 L893.0,201.8 L896.0,202.3 L899.0,202.8 L902.0,203.3 L905.0,203.8 L908.0,204.3 L911.0,204.7 L914.0,205.2 L917.0,205.6 L920.0,206.0 L923.0,206.4 L926.0,206.8 L929.0,207.3 L932.0,207.7 L935.0,208.1 L938.0,208.5 L941.0,208.9 L944.0,209.4 L947.0,209.8 L950.0,210.3 L953.0,210.8 L956.0,211.3 L959.0,211.8 L962.0,212.3 L965.0,212.8 L968.0,213.4 L971.0,214.0 L974.0,214.6 L977.0,215.3 L980.0,216.0 L983.0,216.7 L986.0,217.4 L989.0,218.2 L992.0,219.0 L995.0,219.9 L998.0,220.8 L1001.0,221.9 L1003.8,223.2 L1006.5,224.7 L1009.2,226.3 L1012.0,228.1 L1014.5,229.8 L1017.0,231.6 L1019.5,233.4 L1022.0,235.2 L1024.5,236.9 L1027.0,238.6 L1029.8,240.3 L1032.5,242.0 L1035.2,243.7 L1038.0,245.3 L1040.8,247.0 L1043.5,248.7 L1046.2,250.3 L1049.0,252.0 L1051.8,253.7 L1054.5,255.3 L1057.2,256.9 L1060.0,258.6 L1062.8,260.1 L1065.5,261.7 L1068.2,263.3 L1071.0,264.8 L1073.8,266.3 L1076.5,267.7 L1079.2,269.2 L1082.0,270.6 L1084.8,272.0 L1087.5,273.4 L1090.2,274.8 L1093.0,276.1 L1095.8,277.5 L1098.5,278.8 L1101.2,280.1 L1104.0,281.4 L1106.8,282.7 L1109.5,284.0 L1112.2,285.3 L1115.0,286.5 L1117.8,287.8 L1120.5,289.0 L1123.2,290.2 L1126.2,291.5 L1129.2,292.8 L1132.2,294.0 L1135.2,295.3 L1138.2,296.5 L1141.2,297.8 L1144.2,299.0 L1147.2,300.2 L1150.2,301.4 L1153.2,302.6 L1156.2,303.8 L1159.2,304.9 L1162.2,306.1 L1165.2,307.2 L1168.2,308.3 L1171.2,309.4 L1174.2,310.5 L1177.2,311.6 L1180.2,312.6 L1183.2,313.6 L1186.2,314.6 L1189.2,315.5 L1192.2,316.4 L1195.2,317.3 L1198.2,318.1 L1201.2,318.9 L1204.2,319.7 L1207.2,320.5 L1210.2,321.3 L1213.2,322.0 L1216.2,322.8 L1219.2,323.5 L1222.2,324.2 L1225.2,324.9 L1228.2,325.6 L1231.2,326.2 L1234.2,326.9 L1237.2,327.5 L1240.2,328.2 L1243.2,328.8 L1246.2,329.4 L1249.2,330.0 L1252.2,330.6 L1255.2,331.3 L1258.2,331.9 L1261.2,332.5 L1264.2,333.1 L1267.2,333.7 L1270.2,334.2 L1273.2,334.8 L1276.2,335.4 L1279.2,336.0 L1282.2,336.6 L1285.2,337.2 L1288.2,337.7 L1291.2,338.3 L1294.2,338.8 L1297.2,339.4 L1300.2,339.9 L1303.2,340.4 L1306.2,340.9 L1309.2,341.4 L1312.2,341.9 L1315.2,342.3 L1318.2,342.8 L1321.2,343.2 L1324.2,343.6 L1327.2,344.0 L1330.2,344.4 L1333.2,344.7 L1336.2,345.1 L1339.2,345.4 L1342.2,345.7 L1345.2,346.0 L1348.2,346.3 L1351.2,346.6 L1354.2,346.8 L1357.2,347.1 L1360.2,347.4 L1363.2,347.6 L1366.2,347.9 L1369.2,348.1 L1372.2,348.3 L1375.2,348.6 L1378.2,348.8 L1381.2,349.0 L1384.2,349.3 L1387.2,349.5 L1390.2,349.8 L1393.2,350.0 L1396.2,350.3 L1399.2,350.5 L1402.2,350.8 L1405.2,351.1 L1408.2,351.4 L1411.2,351.7 L1414.2,352.0 L1417.2,352.3 L1420.2,352.6 L1423.2,353.0 L1426.2,353.3 L1429.2,353.6 L1432.2,353.8 L1435.2,354.1 L1438.2,354.3 L1441.2,354.6 L1444.2,354.8 L1447.2,354.9 L1450.2,355.1 L1453.2,355.2 L1456.2,355.3 L1459.2,355.4 L1462.2,355.5 L1465.2,355.7 L1468.2,355.8 L1471.2,355.9 L1474.2,356.0 L1477.2,356.1 L1480.2,356.2 L1483.2,356.3 L1486.2,356.4 L1489.2,356.5 L1492.2,356.6 L1495.2,356.7 L1498.2,356.7 L1501.2,356.8 L1504.2,356.9 L1507.2,357.0 L1510.2,357.1 L1513.2,357.2 L1516.2,357.2 L1519.2,357.3 L1522.2,357.4 L1525.2,357.5 L1528.2,357.5 L1531.2,357.6 L1534.2,357.7 L1537.2,357.7 L1540.2,357.8 L1543.2,357.9 L1546.2,357.9 L1549.2,358.0 L1552.2,358.0 L1555.2,358.1 L1558.2,358.2 L1561.2,358.2 L1564.2,358.3 L1567.2,358.3 L1570.2,358.4 L1573.2,358.4 L1576.2,358.5 L1579.2,358.5 L1582.2,358.6 L1585.2,358.6 L1588.2,358.7 L1591.2,358.7 L1594.2,358.8 L1597.2,358.8 L1600.2,358.9 L1603.2,358.9 L1606.2,359.0 L1609.2,359.0 L1612.2,359.1 L1615.2,359.1 L1618.2,359.1 L1621.2,359.2 L1624.2,359.2 L1627.2,359.3 L1630.2,359.3 L1633.2,359.4 L1636.2,359.4 L1639.2,359.5 L1642.2,359.5 L1645.2,359.6 L1648.2,359.6 L1651.2,359.7 L1654.2,359.7 L1657.2,359.7 L1660.2,359.8 L1663.2,359.8 L1666.2,359.9 L1669.2,359.9 L1672.2,360.0 L1675.2,360.0 L1678.2,360.1 L1681.2,360.1 L1684.2,360.2 L1687.2,360.2 L1690.2,360.2 L1693.2,360.3 L1696.2,360.3 L1699.2,360.4 L1702.2,360.4 L1705.2,360.5 L1708.2,360.5 L1711.2,360.5 L1714.2,360.6 L1717.2,360.6 L1720.2,360.7 L1723.2,360.7 L1726.2,360.7 L1729.2,360.8 L1732.2,360.8 L1735.2,360.9 L1738.2,360.9 L1741.2,360.9 L1744.2,361.0 L1747.2,361.0 L1750.2,361.1 L1753.2,361.1 L1756.2,361.1 L1759.2,361.2 L1762.2,361.2 L1765.2,361.2 L1768.2,361.3 L1771.2,361.3 L1774.2,361.3 L1777.2,361.4 L1780.2,361.4 L1783.2,361.4 L1786.2,361.5 L1789.2,361.5 L1792.2,361.5 L1795.2,361.6 L1798.2,361.6 L1801.2,361.6 L1804.2,361.7 L1807.2,361.7 L1810.2,361.7 L1813.2,361.7 L1816.2,361.8 L1819.2,361.8 L1822.2,361.8 L1825.2,361.9 L1828.2,361.9 L1831.2,361.9 L1834.2,361.9 L1837.2,361.9 L1840.2,362.0 L1843.2,362.0 L1846.2,362.0 L1849.2,362.0 L1852.2,362.1 L1855.2,362.1 L1858.2,362.1 L1861.2,362.1 L1864.2,362.1 L1867.2,362.2 L1870.2,362.2 L1873.2,362.2 L1876.2,362.2 L1879.2,362.2 L1882.2,362.2 L1885.2,362.2 L1888.2,362.3 L1891.2,362.3 L1894.2,362.3 L1897.2,362.3 L1900.0,362.3" fill="none" stroke="#4148c5" stroke-width="6" stroke-linejoin="round" stroke-linecap="butt"/>
<path d="M146.0,141.0 L149.0,141.1 L152.0,141.2 L155.0,141.2 L158.0,141.3 L161.0,141.4 L164.0,141.5 L167.0,141.5 L170.0,141.6 L173.0,141.7 L176.0,141.8 L179.0,141.9 L182.0,142.0 L185.0,142.0 L188.0,142.1 L191.0,142.2 L194.0,142.3 L197.0,142.4 L200.0,142.5 L203.0,142.6 L206.0,142.6 L209.0,142.7 L212.0,142.8 L215.0,142.9 L218.0,143.0 L221.0,143.1 L224.0,143.2 L227.0,143.3 L230.0,143.4 L233.0,143.5 L236.0,143.6 L239.0,143.7 L242.0,143.8 L245.0,143.9 L248.0,144.0 L251.0,144.1 L254.0,144.2 L257.0,144.3 L260.0,144.4 L262.9,144.5 L265.9,144.6 L268.9,144.7 L271.9,144.8 L274.9,144.9 L277.9,145.0 L280.9,145.1 L283.9,145.2 L286.9,145.3 L289.9,145.4 L292.9,145.5 L295.9,145.6 L298.9,145.7 L301.9,145.8 L304.9,145.9 L307.9,146.0 L310.9,146.1 L313.9,146.3 L316.9,146.4 L319.9,146.5 L322.9,146.6 L325.9,146.7 L328.9,146.8 L331.9,146.9 L334.9,147.0 L337.9,147.2 L340.9,147.3 L343.9,147.4 L346.9,147.5 L349.9,147.6 L352.9,147.7 L355.9,147.9 L358.9,148.0 L361.9,148.1 L364.9,148.2 L367.9,148.3 L370.9,148.4 L373.9,148.6 L376.9,148.7 L379.9,148.8 L382.9,148.9 L385.9,149.0 L388.9,149.2 L391.9,149.3 L394.9,149.4 L397.9,149.5 L400.8,149.7 L403.8,149.8 L406.8,149.9 L409.8,150.0 L412.8,150.2 L415.8,150.3 L418.8,150.4 L421.8,150.5 L424.8,150.7 L427.8,150.8 L430.8,150.9 L433.8,151.1 L436.8,151.2 L439.8,151.3 L442.8,151.4 L445.8,151.6 L448.8,151.7 L451.8,151.8 L454.8,152.0 L457.8,152.1 L460.8,152.2 L463.8,152.4 L466.8,152.5 L469.8,152.6 L472.8,152.8 L475.8,152.9 L478.8,153.0 L481.8,153.2 L484.8,153.3 L487.8,153.4 L490.8,153.6 L493.8,153.7 L496.8,153.8 L499.8,154.0 L502.8,154.1 L505.7,154.2 L508.7,154.4 L511.7,154.5 L514.7,154.7 L517.7,154.8 L520.7,154.9 L523.7,155.1 L526.7,155.2 L529.7,155.3 L532.7,155.5 L535.7,155.6 L538.7,155.8 L541.7,155.9 L544.7,156.0 L547.7,156.2 L550.7,156.3 L553.7,156.5 L556.7,156.6 L559.7,156.7 L562.7,156.9 L565.7,157.0 L568.7,157.2 L571.7,157.3 L574.7,157.5 L577.7,157.6 L580.7,157.7 L583.7,157.9 L586.7,158.0 L589.7,158.1 L592.7,158.3 L595.7,158.4 L598.7,158.5 L601.6,158.7 L604.6,158.8 L607.6,158.9 L610.6,159.1 L613.6,159.2 L616.6,159.3 L619.6,159.5 L622.6,159.6 L625.6,159.7 L628.6,159.9 L631.6,160.0 L634.6,160.1 L637.6,160.3 L640.6,160.4 L643.6,160.5 L646.6,160.7 L649.6,160.8 L652.6,160.9 L655.6,161.1 L658.6,161.2 L661.6,161.4 L664.6,161.5 L667.6,161.6 L670.6,161.8 L673.6,161.9 L676.6,162.1 L679.6,162.2 L682.6,162.4 L685.6,162.5 L688.6,162.7 L691.6,162.8 L694.5,163.0 L697.5,163.1 L700.5,163.3 L703.5,163.4 L706.5,163.6 L709.5,163.7 L712.5,163.9 L715.5,164.1 L718.5,164.2 L721.5,164.4 L724.5,164.6 L727.5,164.7 L730.5,164.9 L733.5,165.1 L736.5,165.3 L739.5,165.4 L742.5,165.6 L745.5,165.8 L748.5,166.0 L751.5,166.2 L754.5,166.4 L757.4,166.6 L760.4,166.8 L763.4,167.0 L766.4,167.2 L769.4,167.4 L772.4,167.6 L775.4,167.8 L778.4,168.0 L781.4,168.2 L784.4,168.4 L787.4,168.7 L790.4,168.9 L793.4,169.1 L796.3,169.4 L799.3,169.6 L802.3,169.8 L805.3,170.1 L808.3,170.3 L811.3,170.6 L814.3,170.8 L817.3,171.1 L820.3,171.4 L823.2,171.6 L826.2,171.9 L829.2,172.2 L832.2,172.5 L835.2,172.7 L838.2,173.0 L841.2,173.3 L844.2,173.6 L847.1,173.9 L850.1,174.3 L853.1,174.6 L856.1,175.1 L859.0,175.6 L862.0,176.1 L864.9,176.7 L867.9,177.3 L870.8,177.9 L873.7,178.5 L876.7,179.2 L879.6,179.8 L882.5,180.4 L885.5,181.0 L888.4,181.6 L891.4,182.1 L894.3,182.6 L897.3,183.0 L900.3,183.4 L903.2,183.8 L906.2,184.1 L909.2,184.4 L912.2,184.7 L915.2,184.9 L918.2,185.2 L921.2,185.5 L924.2,185.7 L927.1,185.9 L930.1,186.2 L933.1,186.4 L936.1,186.7 L939.1,186.9 L942.1,187.2 L945.1,187.4 L948.1,187.6 L951.1,187.8 L954.1,188.0 L957.1,188.2 L960.0,188.5 L963.0,188.8 L966.0,189.2 L968.9,189.8 L971.8,190.7 L974.5,191.9 L977.2,193.3 L979.7,194.9 L982.2,196.6 L984.6,198.3 L987.0,200.2 L989.3,202.0 L991.7,203.9 L994.0,205.8 L996.3,207.7 L998.7,209.6 L1001.0,211.5 L1003.3,213.4 L1005.5,215.4 L1007.7,217.5 L1009.8,219.6 L1012.0,221.7 L1014.1,223.8 L1016.2,226.0 L1018.2,228.2 L1020.3,230.3 L1022.4,232.5 L1024.4,234.7 L1026.5,236.9 L1028.6,239.0 L1030.7,241.2 L1032.8,243.3 L1034.9,245.4 L1037.1,247.5 L1039.2,249.6 L1041.3,251.8 L1043.3,254.0 L1045.3,256.2 L1047.2,258.5 L1049.0,260.9 L1050.8,263.3 L1052.5,265.8 L1054.1,268.4 L1055.6,270.9 L1057.1,273.5 L1058.6,276.1 L1060.0,278.8 L1061.4,281.4 L1062.8,284.1 L1064.2,286.8 L1065.5,289.5 L1066.7,292.2 L1067.9,294.9 L1069.1,297.7 L1070.3,300.4 L1071.5,303.2 L1072.7,306.0 L1073.8,308.7 L1075.0,311.5 L1076.2,314.2 L1077.3,317.0 L1078.5,319.8 L1079.6,322.6 L1080.6,325.4 L1081.7,328.2 L1082.7,331.0 L1083.6,333.9 L1084.5,336.7 L1085.4,339.6 L1086.2,342.5 L1087.1,345.4 L1087.9,348.3 L1088.7,351.1 L1089.6,354.0 L1090.4,356.9 L1091.3,359.8 L1092.2,362.6 L1093.0,365.5 L1093.9,368.4 L1094.8,371.3 L1095.6,374.1 L1096.5,377.0 L1097.4,379.9 L1098.3,382.7 L1099.2,385.6 L1100.1,388.4 L1101.0,391.3 L1101.9,394.2 L1102.8,397.0 L1103.6,399.9 L1104.3,402.8 L1105.1,405.7 L1105.8,408.6 L1106.5,411.6 L1107.2,414.5 L1107.8,417.4 L1108.5,420.3 L1109.1,423.3 L1109.8,426.2 L1110.5,429.1 L1111.1,432.0 L1111.8,435.0 L1112.5,437.9 L1113.2,440.8 L1113.8,443.7 L1114.5,446.7 L1115.2,449.6 L1115.9,452.5 L1116.5,455.4 L1117.2,458.4 L1117.9,461.3 L1118.6,464.2 L1119.2,467.1 L1119.9,470.0 L1120.6,473.0 L1121.3,475.9 L1122.0,478.8 L1122.6,481.7 L1123.3,484.7 L1124.0,487.6 L1124.7,490.5 L1125.4,493.4 L1126.1,496.3 L1126.8,499.3 L1127.4,502.2 L1128.1,505.1 L1128.8,508.0 L1129.5,510.9 L1130.2,513.8 L1130.9,516.8 L1131.6,519.7 L1132.4,522.6 L1133.1,525.5 L1133.8,528.4 L1134.5,531.3 L1135.2,534.3 L1135.9,537.2 L1136.6,540.1 L1137.3,543.0 L1138.0,545.9 L1138.7,548.8 L1139.3,551.8 L1139.9,554.7 L1140.5,557.7 L1141.1,560.6 L1141.6,563.6 L1142.1,566.5 L1142.6,569.5 L1143.0,572.4 L1143.4,575.4 L1143.8,578.4 L1144.1,581.4 L1144.4,584.4 L1144.7,587.3 L1145.0,590.3 L1145.2,593.3 L1145.4,596.3 L1145.6,599.3 L1145.9,602.3 L1146.1,605.3 L1146.3,608.3 L1146.5,611.3 L1146.8,614.3 L1147.1,617.2 L1147.4,620.2 L1147.7,623.2 L1148.1,626.2 L1148.5,629.2 L1149.0,632.1 L1149.5,635.1 L1150.0,638.0 L1150.5,641.0 L1151.1,643.9 L1151.7,646.9 L1152.3,649.8 L1153.0,652.7 L1153.6,655.7 L1154.3,658.6 L1155.0,661.5 L1155.8,664.4 L1156.6,667.3 L1157.4,670.2 L1158.3,673.1 L1159.1,675.9 L1160.0,678.8 L1160.9,681.7 L1161.8,684.5 L1162.7,687.4 L1163.6,690.2 L1164.5,693.1 L1165.6,695.9 L1166.6,698.7 L1167.8,701.5 L1168.9,704.3 L1170.1,707.0 L1171.4,709.7 L1172.7,712.4 L1174.1,715.1 L1175.7,717.6 L1177.4,720.1 L1179.3,722.4 L1181.3,724.7 L1183.4,726.8 L1185.6,728.8 L1187.9,730.7 L1190.4,732.3 L1193.0,733.9 L1195.6,735.4 L1198.3,736.7 L1201.0,737.9 L1203.9,738.8 L1206.8,739.5 L1209.8,740.0 L1212.7,740.3 L1215.7,740.6 L1218.7,740.9 L1221.7,741.1 L1224.7,741.4 L1227.7,741.6 L1230.7,741.8 L1233.7,742.1 L1236.7,742.3 L1239.6,742.6 L1242.6,742.8 L1245.6,743.0 L1248.6,743.2 L1251.6,743.5 L1254.6,743.7 L1257.6,743.9 L1260.6,744.1 L1263.6,744.4 L1266.6,744.6 L1269.6,744.8 L1272.5,745.1 L1275.5,745.3 L1278.5,745.5 L1281.5,745.8 L1284.5,746.0 L1287.5,746.2 L1290.5,746.4 L1293.5,746.6 L1296.5,746.8 L1299.5,747.0 L1302.5,747.2 L1305.5,747.3 L1308.5,747.5 L1311.5,747.6 L1314.5,747.8 L1317.5,748.0 L1320.4,748.1 L1323.4,748.3 L1326.4,748.5 L1329.4,748.6 L1332.4,748.8 L1335.4,748.9 L1338.4,749.1 L1341.4,749.3 L1344.4,749.4 L1347.4,749.6 L1350.4,749.8 L1353.4,749.9 L1356.4,750.1 L1359.4,750.3 L1362.4,750.4 L1365.4,750.6 L1368.4,750.8 L1371.4,750.9 L1374.4,751.1 L1377.4,751.3 L1380.4,751.4 L1383.4,751.6 L1386.3,751.8 L1389.3,751.9 L1392.3,752.1 L1395.3,752.3 L1398.3,752.4 L1401.3,752.6 L1404.3,752.8 L1407.3,752.9 L1410.3,753.1 L1413.3,753.2 L1416.3,753.4 L1419.3,753.6 L1422.3,753.7 L1425.3,753.9 L1428.3,754.1 L1431.3,754.2 L1434.3,754.4 L1437.3,754.5 L1440.3,754.7 L1443.3,754.9 L1446.3,755.0 L1449.3,755.2 L1452.3,755.3 L1455.2,755.5 L1458.2,755.7 L1461.2,755.8 L1464.2,756.0 L1467.2,756.1 L1470.2,756.3 L1473.2,756.4 L1476.2,756.6 L1479.2,756.7 L1482.2,756.9 L1485.2,757.0 L1488.2,757.2 L1491.2,757.3 L1494.2,757.5 L1497.2,757.6 L1500.2,757.8 L1503.2,757.9 L1506.2,758.1 L1509.2,758.2 L1512.2,758.3 L1515.2,758.5 L1518.2,758.6 L1521.2,758.8 L1524.2,758.9 L1527.2,759.0 L1530.2,759.2 L1533.2,759.3 L1536.2,759.4 L1539.1,759.6 L1542.1,759.7 L1545.1,759.8 L1548.1,760.0 L1551.1,760.1 L1554.1,760.2 L1557.1,760.3 L1560.1,760.5 L1563.1,760.6 L1566.1,760.7 L1569.1,760.8 L1572.1,761.0 L1575.1,761.1 L1578.1,761.2 L1581.1,761.3 L1584.1,761.5 L1587.1,761.6 L1590.1,761.7 L1593.1,761.8 L1596.1,762.0 L1599.1,762.1 L1602.1,762.2 L1605.1,762.3 L1608.1,762.4 L1611.1,762.6 L1614.1,762.7 L1617.1,762.8 L1620.1,762.9 L1623.1,763.0 L1626.1,763.1 L1629.1,763.2 L1632.1,763.3 L1635.1,763.5 L1638.1,763.6 L1641.1,763.7 L1644.1,763.8 L1647.1,763.9 L1650.1,764.0 L1653.1,764.1 L1656.1,764.2 L1659.1,764.3 L1662.1,764.4 L1665.1,764.5 L1668.1,764.6 L1671.0,764.6 L1674.0,764.7 L1677.0,764.8 L1680.0,764.9 L1683.0,765.0 L1686.0,765.1 L1689.0,765.2 L1692.0,765.2 L1695.0,765.3 L1698.0,765.4 L1701.0,765.5 L1704.0,765.6 L1707.0,765.6 L1710.0,765.7 L1713.0,765.8 L1716.0,765.9 L1719.0,765.9 L1722.0,766.0 L1725.0,766.1 L1728.0,766.1 L1731.0,766.2 L1734.0,766.3 L1737.0,766.4 L1740.0,766.4 L1743.0,766.5 L1746.0,766.6 L1749.0,766.6 L1752.0,766.7 L1755.0,766.7 L1758.0,766.8 L1761.0,766.9 L1764.0,766.9 L1767.0,767.0 L1770.0,767.1 L1773.0,767.1 L1776.0,767.2 L1779.0,767.2 L1782.0,767.3 L1785.0,767.4 L1788.0,767.4 L1791.0,767.5 L1794.0,767.5 L1797.0,767.6 L1800.0,767.7 L1803.0,767.7 L1806.0,767.8 L1809.0,767.8 L1812.0,767.9 L1815.0,767.9 L1818.0,768.0 L1821.0,768.1 L1824.0,768.1 L1827.0,768.2 L1830.0,768.2 L1833.0,768.3 L1836.0,768.3 L1839.0,768.4 L1842.0,768.4 L1845.0,768.5 L1848.0,768.5 L1851.0,768.6 L1854.0,768.6 L1857.0,768.7 L1860.0,768.7 L1863.0,768.8 L1866.0,768.8 L1869.0,768.9 L1872.0,768.9 L1875.0,769.0 L1877.0,769.0" fill="none" stroke="#000" stroke-width="6" stroke-linejoin="round" stroke-linecap="butt"/>
<path d="M146.0,144.0 L149.0,144.0 L152.0,144.0 L155.0,144.0 L158.0,144.1 L161.0,144.1 L164.0,144.1 L167.0,144.1 L170.0,144.1 L173.0,144.2 L176.0,144.2 L179.0,144.2 L182.0,144.2 L185.0,144.3 L188.0,144.3 L191.0,144.3 L194.0,144.4 L197.0,144.4 L200.0,144.4 L203.0,144.5 L206.0,144.5 L209.0,144.5 L212.0,144.6 L215.0,144.6 L218.0,144.6 L221.0,144.7 L224.0,144.7 L227.0,144.8 L230.0,144.8 L233.0,144.9 L236.0,144.9 L239.0,145.0 L242.0,145.0 L245.0,145.0 L248.0,145.1 L251.0,145.1 L254.0,145.2 L257.0,145.3 L260.0,145.3 L263.0,145.4 L266.0,145.4 L269.0,145.5 L272.0,145.5 L275.0,145.6 L278.0,145.6 L281.0,145.7 L284.0,145.8 L287.0,145.8 L290.0,145.9 L293.0,145.9 L296.0,146.0 L299.0,146.1 L302.0,146.1 L305.0,146.2 L308.0,146.3 L311.0,146.3 L314.0,146.4 L317.0,146.5 L320.0,146.5 L323.0,146.6 L326.0,146.7 L329.0,146.8 L332.0,146.8 L335.0,146.9 L338.0,147.0 L341.0,147.1 L344.0,147.1 L347.0,147.2 L350.0,147.3 L353.0,147.4 L356.0,147.4 L359.0,147.5 L362.0,147.6 L365.0,147.7 L368.0,147.8 L371.0,147.8 L374.0,147.9 L377.0,148.0 L380.0,148.1 L383.0,148.2 L386.0,148.3 L389.0,148.3 L392.0,148.4 L395.0,148.5 L398.0,148.6 L401.0,148.7 L404.0,148.8 L407.0,148.9 L410.0,148.9 L413.0,149.0 L416.0,149.1 L419.0,149.2 L422.0,149.3 L425.0,149.4 L428.0,149.5 L431.0,149.6 L434.0,149.7 L437.0,149.8 L440.0,149.9 L443.0,149.9 L446.0,150.0 L449.0,150.1 L452.0,150.2 L455.0,150.3 L458.0,150.4 L461.0,150.5 L464.0,150.6 L467.0,150.7 L470.0,150.8 L473.0,150.9 L476.0,151.0 L479.0,151.1 L482.0,151.2 L485.0,151.3 L488.0,151.4 L491.0,151.5 L494.0,151.6 L497.0,151.7 L500.0,151.8 L503.0,151.9 L506.0,152.0 L509.0,152.1 L512.0,152.2 L515.0,152.3 L518.0,152.4 L521.0,152.5 L524.0,152.6 L527.0,152.7 L530.0,152.8 L533.0,152.9 L536.0,153.0 L539.0,153.1 L542.0,153.2 L545.0,153.3 L548.0,153.4 L551.0,153.5 L554.0,153.6 L557.0,153.7 L560.0,153.8 L563.0,153.9 L566.0,154.0 L569.0,154.1 L572.0,154.2 L575.0,154.3 L578.0,154.5 L581.0,154.6 L584.0,154.7 L587.0,154.8 L590.0,154.9 L593.0,155.0 L596.0,155.1 L599.0,155.2 L602.0,155.3 L605.0,155.4 L608.0,155.5 L611.0,155.6 L614.0,155.7 L617.0,155.8 L620.0,156.0 L623.0,156.1 L626.0,156.2 L629.0,156.3 L632.0,156.4 L635.0,156.5 L638.0,156.7 L641.0,156.8 L644.0,156.9 L647.0,157.0 L650.0,157.1 L653.0,157.3 L656.0,157.4 L659.0,157.5 L662.0,157.6 L665.0,157.8 L668.0,157.9 L671.0,158.0 L674.0,158.2 L677.0,158.3 L680.0,158.4 L683.0,158.6 L686.0,158.7 L689.0,158.9 L692.0,159.0 L695.0,159.2 L698.0,159.3 L701.0,159.5 L704.0,159.6 L707.0,159.8 L710.0,159.9 L713.0,160.1 L716.0,160.2 L719.0,160.4 L722.0,160.6 L725.0,160.7 L728.0,160.9 L731.0,161.1 L734.0,161.3 L737.0,161.4 L740.0,161.6 L743.0,161.8 L746.0,162.0 L749.0,162.2 L752.0,162.3 L755.0,162.5 L758.0,162.7 L761.0,162.9 L764.0,163.1 L767.0,163.3 L770.0,163.5 L773.0,163.7 L776.0,164.0 L779.0,164.2 L782.0,164.4 L785.0,164.6 L788.0,164.8 L791.0,165.1 L794.0,165.3 L797.0,165.5 L800.0,165.8 L803.0,166.0 L806.0,166.2 L809.0,166.5 L812.0,166.7 L815.0,167.0 L818.0,167.2 L821.0,167.5 L824.0,167.8 L827.0,168.0 L830.0,168.3 L833.0,168.6 L836.0,168.9 L839.0,169.1 L842.0,169.4 L845.0,169.7 L848.0,170.0 L851.0,170.3 L854.0,170.7 L857.0,171.1 L860.0,171.6 L863.0,172.2 L866.0,172.7 L869.0,173.3 L872.0,173.9 L875.0,174.5 L878.0,175.2 L881.0,175.8 L884.0,176.4 L887.0,177.0 L890.0,177.7 L893.0,178.2 L896.0,178.8 L899.0,179.3 L902.0,179.8 L905.0,180.3 L908.0,180.8 L911.0,181.2 L914.0,181.7 L917.0,182.1 L920.0,182.5 L923.0,182.9 L926.0,183.3 L929.0,183.8 L932.0,184.2 L935.0,184.6 L938.0,185.0 L941.0,185.4 L944.0,185.8 L947.0,186.2 L950.0,186.6 L953.0,187.1 L956.0,187.5 L959.0,187.9 L962.0,188.4 L965.0,188.9 L968.0,189.4 L971.0,189.9 L974.0,190.4 L977.0,190.9 L980.0,191.5 L983.0,192.1 L986.0,192.7 L989.0,193.3 L992.0,193.9 L995.0,194.6 L998.0,195.2 L1001.0,195.9 L1004.0,196.6 L1007.0,197.3 L1010.0,198.1 L1013.0,198.8 L1016.0,199.6 L1019.0,200.4 L1022.0,201.1 L1025.0,201.9 L1028.0,202.8 L1031.0,203.6 L1034.0,204.4 L1037.0,205.3 L1040.0,206.2 L1043.0,207.1 L1046.0,207.9 L1049.0,208.8 L1052.0,209.8 L1055.0,210.8 L1058.0,211.8 L1061.0,212.8 L1064.0,213.9 L1067.0,215.1 L1070.0,216.2 L1073.0,217.4 L1076.0,218.5 L1079.0,219.7 L1082.0,220.9 L1085.0,222.1 L1088.0,223.3 L1091.0,224.4 L1094.0,225.6 L1097.0,226.7 L1100.0,227.8 L1103.0,228.9 L1106.0,230.1 L1109.0,231.2 L1112.0,232.4 L1115.0,233.5 L1118.0,234.7 L1121.0,235.9 L1124.0,237.0 L1127.0,238.1 L1130.0,239.3 L1133.0,240.4 L1136.0,241.5 L1139.0,242.6 L1142.0,243.7 L1145.0,244.7 L1148.0,245.7 L1151.0,246.7 L1154.0,247.7 L1157.0,248.6 L1160.0,249.5 L1163.0,250.4 L1166.0,251.3 L1169.0,252.2 L1172.0,253.1 L1175.0,253.9 L1178.0,254.8 L1181.0,255.6 L1184.0,256.4 L1187.0,257.2 L1190.0,258.0 L1193.0,258.8 L1196.0,259.6 L1199.0,260.3 L1202.0,261.0 L1205.0,261.7 L1208.0,262.4 L1211.0,263.1 L1214.0,263.8 L1217.0,264.4 L1220.0,265.1 L1223.0,265.7 L1226.0,266.3 L1229.0,266.9 L1232.0,267.6 L1235.0,268.2 L1238.0,268.7 L1241.0,269.3 L1244.0,269.9 L1247.0,270.5 L1250.0,271.0 L1253.0,271.6 L1256.0,272.1 L1259.0,272.7 L1262.0,273.2 L1265.0,273.7 L1268.0,274.2 L1271.0,274.7 L1274.0,275.2 L1277.0,275.6 L1280.0,276.1 L1283.0,276.6 L1286.0,277.0 L1289.0,277.4 L1292.0,277.9 L1295.0,278.3 L1298.0,278.7 L1301.0,279.1 L1304.0,279.4 L1307.0,279.8 L1310.0,280.2 L1313.0,280.5 L1316.0,280.9 L1319.0,281.2 L1322.0,281.6 L1325.0,281.9 L1328.0,282.2 L1331.0,282.6 L1334.0,282.9 L1337.0,283.2 L1340.0,283.5 L1343.0,283.8 L1346.0,284.1 L1349.0,284.4 L1352.0,284.7 L1355.0,285.0 L1358.0,285.3 L1361.0,285.6 L1364.0,285.9 L1367.0,286.2 L1370.0,286.5 L1373.0,286.8 L1376.0,287.1 L1379.0,287.4 L1382.0,287.8 L1385.0,288.1 L1388.0,288.4 L1391.0,288.7 L1394.0,289.0 L1397.0,289.4 L1400.0,289.7 L1403.0,290.0 L1406.0,290.4 L1409.0,290.7 L1412.0,291.1 L1415.0,291.5 L1418.0,291.8 L1421.0,292.2 L1424.0,292.5 L1427.0,292.9 L1430.0,293.3 L1433.0,293.6 L1436.0,294.0 L1439.0,294.4 L1442.0,294.8 L1445.0,295.1 L1448.0,295.5 L1451.0,295.9 L1454.0,296.3 L1457.0,296.6 L1460.0,297.0 L1463.0,297.4 L1466.0,297.7 L1469.0,298.1 L1472.0,298.4 L1475.0,298.8 L1478.0,299.2 L1481.0,299.5 L1484.0,299.8 L1487.0,300.2 L1490.0,300.5 L1493.0,300.8 L1496.0,301.2 L1499.0,301.5 L1502.0,301.8 L1505.0,302.1 L1508.0,302.4 L1511.0,302.7 L1514.0,303.0 L1517.0,303.3 L1520.0,303.6 L1523.0,303.9 L1526.0,304.1 L1529.0,304.4 L1532.0,304.7 L1535.0,305.0 L1538.0,305.3 L1541.0,305.6 L1544.0,305.9 L1547.0,306.2 L1550.0,306.4 L1553.0,306.7 L1556.0,307.0 L1559.0,307.3 L1562.0,307.6 L1565.0,307.9 L1568.0,308.1 L1571.0,308.4 L1574.0,308.7 L1577.0,309.0 L1580.0,309.3 L1583.0,309.5 L1586.0,309.8 L1589.0,310.1 L1592.0,310.4 L1595.0,310.7 L1598.0,310.9 L1601.0,311.2 L1604.0,311.5 L1607.0,311.8 L1610.0,312.0 L1613.0,312.3 L1616.0,312.6 L1619.0,312.8 L1622.0,313.1 L1625.0,313.4 L1628.0,313.6 L1631.0,313.9 L1634.0,314.2 L1637.0,314.4 L1640.0,314.7 L1643.0,315.0 L1646.0,315.2 L1649.0,315.5 L1652.0,315.7 L1655.0,316.0 L1658.0,316.3 L1661.0,316.5 L1664.0,316.8 L1667.0,317.0 L1670.0,317.3 L1673.0,317.5 L1676.0,317.8 L1679.0,318.0 L1682.0,318.3 L1685.0,318.5 L1688.0,318.8 L1691.0,319.0 L1694.0,319.3 L1697.0,319.5 L1700.0,319.8 L1703.0,320.0 L1706.0,320.2 L1709.0,320.5 L1712.0,320.7 L1715.0,321.0 L1718.0,321.2 L1721.0,321.4 L1724.0,321.7 L1727.0,321.9 L1730.0,322.1 L1733.0,322.4 L1736.0,322.6 L1739.0,322.8 L1742.0,323.0 L1745.0,323.3 L1748.0,323.5 L1751.0,323.7 L1754.0,323.9 L1757.0,324.1 L1760.0,324.4 L1763.0,324.6 L1766.0,324.8 L1769.0,325.0 L1772.0,325.2 L1775.0,325.4 L1778.0,325.6 L1781.0,325.8 L1784.0,326.0 L1787.0,326.2 L1790.0,326.4 L1793.0,326.6 L1796.0,326.8 L1799.0,327.0 L1802.0,327.2 L1805.0,327.4 L1808.0,327.6 L1811.0,327.8 L1814.0,328.0 L1817.0,328.2 L1820.0,328.4 L1823.0,328.6 L1826.0,328.7 L1829.0,328.9 L1832.0,329.1 L1835.0,329.3 L1838.0,329.5 L1841.0,329.6 L1844.0,329.8 L1847.0,330.0 L1850.0,330.1 L1853.0,330.3 L1856.0,330.5 L1859.0,330.6 L1862.0,330.8 L1865.0,331.0 L1868.0,331.1 L1871.0,331.3 L1874.0,331.4 L1877.0,331.6 L1880.0,331.7 L1883.0,331.9 L1886.0,332.0 L1889.0,332.2 L1892.0,332.3 L1894.0,332.4" fill="none" stroke="#2fa552" stroke-width="6" stroke-linejoin="round" stroke-linecap="butt"/>
<rect x="42" y="1025.5" width="1848.00" height="2.00" fill="#9a9a9a"/>
<rect x="42" y="1876.5" width="1848.00" height="2.00" fill="#9a9a9a"/>
<rect x="1883" y="1019" width="2.00" height="865.00" fill="#9a9a9a"/>
<rect x="42" y="1019" width="1848.00" height="6.50" fill="#000"/>
<rect x="42" y="1878.5" width="1848.00" height="5.50" fill="#000"/>
<rect x="47.5" y="1027.5" width="2.00" height="367.50" fill="#9a9a9a"/>
<rect x="42" y="1019" width="5.50" height="376.00" fill="#000"/>
<rect x="47.5" y="1529" width="2.00" height="347.50" fill="#9a9a9a"/>
<rect x="42" y="1529" width="5.50" height="355.00" fill="#000"/>
<rect x="1885.0" y="1019" width="5.00" height="865.00" fill="#000"/>
<line x1="128.6" y1="1066.0" x2="128.6" y2="1815.0" stroke="#8a8a8a" stroke-width="3"/>
<line x1="116.6" y1="1128.7" x2="128.6" y2="1128.7" stroke="#5a5a5a" stroke-width="2.5"/>
<line x1="120.6" y1="1196.1" x2="128.6" y2="1196.1" stroke="#5a5a5a" stroke-width="2.5"/>
<line x1="116.6" y1="1263.6" x2="128.6" y2="1263.6" stroke="#5a5a5a" stroke-width="2.5"/>
<line x1="120.6" y1="1331.0" x2="128.6" y2="1331.0" stroke="#5a5a5a" stroke-width="2.5"/>
<line x1="116.6" y1="1398.5" x2="128.6" y2="1398.5" stroke="#5a5a5a" stroke-width="2.5"/>
<line x1="120.6" y1="1465.9" x2="128.6" y2="1465.9" stroke="#5a5a5a" stroke-width="2.5"/>
<line x1="116.6" y1="1533.3" x2="128.6" y2="1533.3" stroke="#5a5a5a" stroke-width="2.5"/>
<line x1="120.6" y1="1600.8" x2="128.6" y2="1600.8" stroke="#5a5a5a" stroke-width="2.5"/>
<line x1="116.6" y1="1668.2" x2="128.6" y2="1668.2" stroke="#5a5a5a" stroke-width="2.5"/>
<line x1="120.6" y1="1735.7" x2="128.6" y2="1735.7" stroke="#5a5a5a" stroke-width="2.5"/>
<line x1="116.6" y1="1803.1" x2="128.6" y2="1803.1" stroke="#5a5a5a" stroke-width="2.5"/>
<line x1="127.5" y1="1814.5" x2="1861.7" y2="1814.5" stroke="#8a8a8a" stroke-width="3"/>
<line x1="140.3" y1="1815.5" x2="140.3" y2="1823.5" stroke="#5a5a5a" stroke-width="2.5"/>
<line x1="162.6" y1="1815.5" x2="162.6" y2="1823.5" stroke="#5a5a5a" stroke-width="2.5"/>
<line x1="185.0" y1="1815.5" x2="185.0" y2="1828.5" stroke="#5a5a5a" stroke-width="2.5"/>
<line x1="207.4" y1="1815.5" x2="207.4" y2="1823.5" stroke="#5a5a5a" stroke-width="2.5"/>
<line x1="229.7" y1="1815.5" x2="229.7" y2="1823.5" stroke="#5a5a5a" stroke-width="2.5"/>
<line x1="252.1" y1="1815.5" x2="252.1" y2="1823.5" stroke="#5a5a5a" stroke-width="2.5"/>
<line x1="274.4" y1="1815.5" x2="274.4" y2="1823.5" stroke="#5a5a5a" stroke-width="2.5"/>
<line x1="296.8" y1="1815.5" x2="296.8" y2="1828.5" stroke="#5a5a5a" stroke-width="2.5"/>
<line x1="319.1" y1="1815.5" x2="319.1" y2="1823.5" stroke="#5a5a5a" stroke-width="2.5"/>
<line x1="341.5" y1="1815.5" x2="341.5" y2="1823.5" stroke="#5a5a5a" stroke-width="2.5"/>
<line x1="363.8" y1="1815.5" x2="363.8" y2="1823.5" stroke="#5a5a5a" stroke-width="2.5"/>
<line x1="386.2" y1="1815.5" x2="386.2" y2="1823.5" stroke="#5a5a5a" stroke-width="2.5"/>
<line x1="408.6" y1="1815.5" x2="408.6" y2="1828.5" stroke="#5a5a5a" stroke-width="2.5"/>
<line x1="430.9" y1="1815.5" x2="430.9" y2="1823.5" stroke="#5a5a5a" stroke-width="2.5"/>
<line x1="453.3" y1="1815.5" x2="453.3" y2="1823.5" stroke="#5a5a5a" stroke-width="2.5"/>
<line x1="475.6" y1="1815.5" x2="475.6" y2="1823.5" stroke="#5a5a5a" stroke-width="2.5"/>
<line x1="498.0" y1="1815.5" x2="498.0" y2="1823.5" stroke="#5a5a5a" stroke-width="2.5"/>
<line x1="520.3" y1="1815.5" x2="520.3" y2="1828.5" stroke="#5a5a5a" stroke-width="2.5"/>
<line x1="542.7" y1="1815.5" x2="542.7" y2="1823.5" stroke="#5a5a5a" stroke-width="2.5"/>
<line x1="565.1" y1="1815.5" x2="565.1" y2="1823.5" stroke="#5a5a5a" stroke-width="2.5"/>
<line x1="587.4" y1="1815.5" x2="587.4" y2="1823.5" stroke="#5a5a5a" stroke-width="2.5"/>
<line x1="609.8" y1="1815.5" x2="609.8" y2="1823.5" stroke="#5a5a5a" stroke-width="2.5"/>
<line x1="632.1" y1="1815.5" x2="632.1" y2="1828.5" stroke="#5a5a5a" stroke-width="2.5"/>
<line x1="654.5" y1="1815.5" x2="654.5" y2="1823.5" stroke="#5a5a5a" stroke-width="2.5"/>
<line x1="676.8" y1="1815.5" x2="676.8" y2="1823.5" stroke="#5a5a5a" stroke-width="2.5"/>
<line x1="699.2" y1="1815.5" x2="699.2" y2="1823.5" stroke="#5a5a5a" stroke-width="2.5"/>
<line x1="721.5" y1="1815.5" x2="721.5" y2="1823.5" stroke="#5a5a5a" stroke-width="2.5"/>
<line x1="743.9" y1="1815.5" x2="743.9" y2="1828.5" stroke="#5a5a5a" stroke-width="2.5"/>
<line x1="766.3" y1="1815.5" x2="766.3" y2="1823.5" stroke="#5a5a5a" stroke-width="2.5"/>
<line x1="788.6" y1="1815.5" x2="788.6" y2="1823.5" stroke="#5a5a5a" stroke-width="2.5"/>
<line x1="811.0" y1="1815.5" x2="811.0" y2="1823.5" stroke="#5a5a5a" stroke-width="2.5"/>
<line x1="833.3" y1="1815.5" x2="833.3" y2="1823.5" stroke="#5a5a5a" stroke-width="2.5"/>
<line x1="855.7" y1="1815.5" x2="855.7" y2="1828.5" stroke="#5a5a5a" stroke-width="2.5"/>
<line x1="878.0" y1="1815.5" x2="878.0" y2="1823.5" stroke="#5a5a5a" stroke-width="2.5"/>
<line x1="900.4" y1="1815.5" x2="900.4" y2="1823.5" stroke="#5a5a5a" stroke-width="2.5"/>
<line x1="922.7" y1="1815.5" x2="922.7" y2="1823.5" stroke="#5a5a5a" stroke-width="2.5"/>
<line x1="945.1" y1="1815.5" x2="945.1" y2="1823.5" stroke="#5a5a5a" stroke-width="2.5"/>
<line x1="967.5" y1="1815.5" x2="967.5" y2="1828.5" stroke="#5a5a5a" stroke-width="2.5"/>
<line x1="989.8" y1="1815.5" x2="989.8" y2="1823.5" stroke="#5a5a5a" stroke-width="2.5"/>
<line x1="1012.2" y1="1815.5" x2="1012.2" y2="1823.5" stroke="#5a5a5a" stroke-width="2.5"/>
<line x1="1034.5" y1="1815.5" x2="1034.5" y2="1823.5" stroke="#5a5a5a" stroke-width="2.5"/>
<line x1="1056.9" y1="1815.5" x2="1056.9" y2="1823.5" stroke="#5a5a5a" stroke-width="2.5"/>
<line x1="1079.2" y1="1815.5" x2="1079.2" y2="1828.5" stroke="#5a5a5a" stroke-width="2.5"/>
<line x1="1101.6" y1="1815.5" x2="1101.6" y2="1823.5" stroke="#5a5a5a" stroke-width="2.5"/>
<line x1="1124.0" y1="1815.5" x2="1124.0" y2="1823.5" stroke="#5a5a5a" stroke-width="2.5"/>
<line x1="1146.3" y1="1815.5" x2="1146.3" y2="1823.5" stroke="#5a5a5a" stroke-width="2.5"/>
<line x1="1168.7" y1="1815.5" x2="1168.7" y2="1823.5" stroke="#5a5a5a" stroke-width="2.5"/>
<line x1="1191.0" y1="1815.5" x2="1191.0" y2="1828.5" stroke="#5a5a5a" stroke-width="2.5"/>
<line x1="1213.4" y1="1815.5" x2="1213.4" y2="1823.5" stroke="#5a5a5a" stroke-width="2.5"/>
<line x1="1235.7" y1="1815.5" x2="1235.7" y2="1823.5" stroke="#5a5a5a" stroke-width="2.5"/>
<line x1="1258.1" y1="1815.5" x2="1258.1" y2="1823.5" stroke="#5a5a5a" stroke-width="2.5"/>
<line x1="1280.4" y1="1815.5" x2="1280.4" y2="1823.5" stroke="#5a5a5a" stroke-width="2.5"/>
<line x1="1302.8" y1="1815.5" x2="1302.8" y2="1828.5" stroke="#5a5a5a" stroke-width="2.5"/>
<line x1="1325.2" y1="1815.5" x2="1325.2" y2="1823.5" stroke="#5a5a5a" stroke-width="2.5"/>
<line x1="1347.5" y1="1815.5" x2="1347.5" y2="1823.5" stroke="#5a5a5a" stroke-width="2.5"/>
<line x1="1369.9" y1="1815.5" x2="1369.9" y2="1823.5" stroke="#5a5a5a" stroke-width="2.5"/>
<line x1="1392.2" y1="1815.5" x2="1392.2" y2="1823.5" stroke="#5a5a5a" stroke-width="2.5"/>
<line x1="1414.6" y1="1815.5" x2="1414.6" y2="1828.5" stroke="#5a5a5a" stroke-width="2.5"/>
<line x1="1436.9" y1="1815.5" x2="1436.9" y2="1823.5" stroke="#5a5a5a" stroke-width="2.5"/>
<line x1="1459.3" y1="1815.5" x2="1459.3" y2="1823.5" stroke="#5a5a5a" stroke-width="2.5"/>
<line x1="1481.6" y1="1815.5" x2="1481.6" y2="1823.5" stroke="#5a5a5a" stroke-width="2.5"/>
<line x1="1504.0" y1="1815.5" x2="1504.0" y2="1823.5" stroke="#5a5a5a" stroke-width="2.5"/>
<line x1="1526.4" y1="1815.5" x2="1526.4" y2="1828.5" stroke="#5a5a5a" stroke-width="2.5"/>
<line x1="1548.7" y1="1815.5" x2="1548.7" y2="1823.5" stroke="#5a5a5a" stroke-width="2.5"/>
<line x1="1571.1" y1="1815.5" x2="1571.1" y2="1823.5" stroke="#5a5a5a" stroke-width="2.5"/>
<line x1="1593.4" y1="1815.5" x2="1593.4" y2="1823.5" stroke="#5a5a5a" stroke-width="2.5"/>
<line x1="1615.8" y1="1815.5" x2="1615.8" y2="1823.5" stroke="#5a5a5a" stroke-width="2.5"/>
<line x1="1638.1" y1="1815.5" x2="1638.1" y2="1828.5" stroke="#5a5a5a" stroke-width="2.5"/>
<line x1="1660.5" y1="1815.5" x2="1660.5" y2="1823.5" stroke="#5a5a5a" stroke-width="2.5"/>
<line x1="1682.9" y1="1815.5" x2="1682.9" y2="1823.5" stroke="#5a5a5a" stroke-width="2.5"/>
<line x1="1705.2" y1="1815.5" x2="1705.2" y2="1823.5" stroke="#5a5a5a" stroke-width="2.5"/>
<line x1="1727.6" y1="1815.5" x2="1727.6" y2="1823.5" stroke="#5a5a5a" stroke-width="2.5"/>
<line x1="1749.9" y1="1815.5" x2="1749.9" y2="1828.5" stroke="#5a5a5a" stroke-width="2.5"/>
<line x1="1772.3" y1="1815.5" x2="1772.3" y2="1823.5" stroke="#5a5a5a" stroke-width="2.5"/>
<line x1="1794.6" y1="1815.5" x2="1794.6" y2="1823.5" stroke="#5a5a5a" stroke-width="2.5"/>
<line x1="1817.0" y1="1815.5" x2="1817.0" y2="1823.5" stroke="#5a5a5a" stroke-width="2.5"/>
<line x1="1839.3" y1="1815.5" x2="1839.3" y2="1823.5" stroke="#5a5a5a" stroke-width="2.5"/>
<line x1="1861.7" y1="1812.5" x2="1861.7" y2="1827.5" stroke="#8a8a8a" stroke-width="2.5"/>
<text transform="translate(59.81,1141.65) scale(0.9787,1)" font-family="'Liberation Serif',serif" font-weight="bold" font-size="35.57" fill="#1a1a1a" >100</text>
<text transform="translate(79.36,1275.65) scale(0.9627,1)" font-family="'Liberation Serif',serif" font-weight="bold" font-size="35.57" fill="#1a1a1a" >80</text>
<text transform="translate(79.33,1412.65) scale(0.9638,1)" font-family="'Liberation Serif',serif" font-weight="bold" font-size="35.57" fill="#1a1a1a" >60</text>
<text transform="translate(75.61,1550.65) scale(1.0111,1)" font-family="'Liberation Serif',serif" font-weight="bold" font-size="35.57" fill="#1a1a1a" >40</text>
<text transform="translate(76.28,1679.65) scale(1.0178,1)" font-family="'Liberation Serif',serif" font-weight="bold" font-size="35.57" fill="#1a1a1a" >20</text>
<text transform="translate(95.30,1814.25) scale(0.9619,1)" font-family="'Liberation Serif',serif" font-weight="bold" font-size="35.57" fill="#1a1a1a" >0</text>
<text transform="translate(162.49,1870.12) scale(0.9549,1)" font-family="'Liberation Serif',serif" font-weight="bold" font-size="39.42" fill="#111" >50</text>
<text transform="translate(371.43,1870.12) scale(0.9106,1)" font-family="'Liberation Serif',serif" font-weight="bold" font-size="39.42" fill="#111" >150</text>
<text transform="translate(604.37,1870.12) scale(0.9219,1)" font-family="'Liberation Serif',serif" font-weight="bold" font-size="39.42" fill="#111" >250</text>
<text transform="translate(826.19,1870.12) scale(0.8816,1)" font-family="'Liberation Serif',serif" font-weight="bold" font-size="39.42" fill="#111" >350</text>
<text transform="translate(1053.23,1870.12) scale(0.8688,1)" font-family="'Liberation Serif',serif" font-weight="bold" font-size="39.42" fill="#111" >450</text>
<text transform="translate(1275.40,1872.12) scale(0.8849,1)" font-family="'Liberation Serif',serif" font-weight="bold" font-size="39.42" fill="#111" >550</text>
<text transform="translate(1504.28,1872.12) scale(0.9062,1)" font-family="'Liberation Serif',serif" font-weight="bold" font-size="39.42" fill="#111" >650</text>
<text transform="translate(1720.88,1868.62) scale(0.8957,1)" font-family="'Liberation Serif',serif" font-weight="bold" font-size="39.42" fill="#111" >750</text>
<text transform="translate(1832.04,1861.74) scale(0.9130,1)" font-family="'Liberation Sans',Arial,sans-serif" font-weight="normal" font-size="26.84" fill="#444" stroke="#444" stroke-width="0.5">°C</text>
<rect x="506" y="1841.5" width="12.00" height="2.00" fill="#b0b0b0"/>
<text transform="translate(90.08,1092.85) scale(0.9981,1)" font-family="'Liberation Sans',Arial,sans-serif" font-weight="normal" font-size="25.73" fill="#555" stroke="#555" stroke-width="0.5">%</text>
<text transform="translate(38.55,1015.72) scale(1.1271,1)" font-family="'Liberation Serif',serif" font-weight="bold" font-size="28.59" fill="#222" >'exo</text>
<text transform="translate(1398.76,1101.47) scale(0.9575,1)" font-family="'Liberation Serif',serif" font-weight="bold" font-size="48.53" fill="#111" >(b)</text>
<text transform="translate(70.35,1527.27) rotate(-90) scale(1.0936,1)" font-family="'Liberation Serif',serif" font-weight="bold" font-size="43.22" fill="#111">Wt.%</text>
<text transform="translate(826.02,1943.81) scale(0.8782,1)" font-family="'Liberation Serif',serif" font-weight="bold" font-size="49.30" fill="#111" >Temperature (</text>
<text transform="translate(1090.79,1927.59) scale(1.3134,1)" font-family="'Liberation Serif',serif" font-weight="bold" font-size="32.16" fill="#111" >0</text>
<text transform="translate(1109.99,1944.11) scale(0.9031,1)" font-family="'Liberation Serif',serif" font-weight="bold" font-size="47.86" fill="#111" >C)</text>
<clipPath id="cb"><rect x="0" y="1884" width="1939" height="22.5"/></clipPath>
<g clip-path="url(#cb)">
<text transform="translate(39.05,1910.21) scale(0.9384,1)" font-family="'Liberation Sans',Arial,sans-serif" font-weight="normal" font-size="29.28" fill="#333" stroke="#333" stroke-width="0.9">Lab:</text>
<text transform="translate(101.83,1910.50) scale(0.8274,1)" font-family="'Liberation Sans',Arial,sans-serif" font-weight="normal" font-size="31.25" fill="#222" stroke="#222" stroke-width="1.1">METTLER</text>
<text transform="translate(1669.54,1911.20) scale(0.8601,1)" font-family="'Liberation Sans',Arial,sans-serif" font-weight="bold" font-size="30.51" fill="#333" >S</text>
<text transform="translate(1687.64,1911.50) scale(0.8300,1)" font-family="'Liberation Sans',Arial,sans-serif" font-weight="bold" font-size="31.40" fill="#e0262c" >TA</text>
<text transform="translate(1721.14,1911.50) scale(0.7433,1)" font-family="'Liberation Sans',Arial,sans-serif" font-weight="bold" font-size="31.40" fill="#333" >R</text>
<text transform="translate(1739.17,1905.06) scale(0.8308,1)" font-family="'Liberation Sans',Arial,sans-serif" font-weight="bold" font-size="22.04" fill="#e0262c" >*</text>
<text transform="translate(1758.47,1911.20) scale(0.9234,1)" font-family="'Liberation Sans',Arial,sans-serif" font-weight="bold" font-size="30.51" fill="#333" >SW</text>
<text transform="translate(1812.58,1911.20) scale(0.8938,1)" font-family="'Liberation Sans',Arial,sans-serif" font-weight="bold" font-size="30.51" fill="#333" >10.00</text>
</g>
<line x1="1865.6" y1="1738.0" x2="1865.6" y2="1758.0" stroke="#7fd0d8" stroke-width="2"/>
<rect x="124.5" y="1343" width="4.50" height="7.00" fill="#4a52c8"/>
<path d="M129.0,1121.0 L132.0,1121.1 L135.0,1121.3 L138.0,1121.4 L141.0,1121.6 L144.0,1121.7 L147.0,1121.9 L150.0,1122.0 L153.0,1122.1 L156.0,1122.3 L159.0,1122.4 L162.0,1122.5 L165.0,1122.6 L168.0,1122.7 L171.0,1122.9 L174.0,1123.0 L177.0,1123.1 L180.0,1123.2 L183.0,1123.3 L186.0,1123.5 L189.0,1123.6 L192.0,1123.7 L195.0,1123.8 L198.0,1123.9 L201.0,1124.0 L204.0,1124.1 L207.0,1124.2 L210.0,1124.3 L213.0,1124.4 L216.0,1124.6 L219.0,1124.7 L222.0,1124.8 L225.0,1124.9 L228.0,1125.0 L231.0,1125.1 L234.0,1125.2 L237.0,1125.3 L240.0,1125.4 L243.0,1125.5 L246.0,1125.6 L249.0,1125.7 L252.0,1125.8 L255.0,1125.9 L258.0,1126.0 L261.0,1126.1 L264.0,1126.2 L267.0,1126.3 L270.0,1126.4 L273.0,1126.5 L276.0,1126.6 L279.0,1126.7 L282.0,1126.8 L285.0,1126.9 L288.0,1127.0 L291.0,1127.1 L294.0,1127.2 L297.0,1127.3 L300.0,1127.4 L303.0,1127.5 L306.0,1127.6 L309.0,1127.7 L312.0,1127.8 L315.0,1127.9 L318.0,1128.0 L321.0,1128.1 L324.0,1128.2 L327.0,1128.3 L330.0,1128.4 L333.0,1128.5 L336.0,1128.6 L339.0,1128.7 L342.0,1128.8 L345.0,1128.9 L348.0,1129.0 L351.0,1129.1 L354.0,1129.3 L357.0,1129.4 L360.0,1129.5 L363.0,1129.6 L366.0,1129.7 L369.0,1129.8 L372.0,1129.9 L375.0,1130.0 L378.0,1130.1 L381.0,1130.3 L384.0,1130.4 L387.0,1130.5 L390.0,1130.6 L393.0,1130.7 L396.0,1130.8 L399.0,1131.0 L402.0,1131.1 L405.0,1131.2 L408.0,1131.3 L411.0,1131.4 L414.0,1131.6 L417.0,1131.7 L420.0,1131.8 L423.0,1131.9 L426.0,1132.1 L429.0,1132.2 L432.0,1132.3 L435.0,1132.4 L438.0,1132.6 L441.0,1132.7 L444.0,1132.8 L447.0,1132.9 L450.0,1133.1 L453.0,1133.2 L456.0,1133.3 L459.0,1133.4 L462.0,1133.6 L465.0,1133.7 L468.0,1133.8 L471.0,1133.9 L474.0,1134.1 L477.0,1134.2 L480.0,1134.3 L483.0,1134.4 L486.0,1134.6 L489.0,1134.7 L492.0,1134.8 L495.0,1135.0 L498.0,1135.1 L501.0,1135.2 L504.0,1135.3 L507.0,1135.5 L510.0,1135.6 L513.0,1135.7 L516.0,1135.9 L519.0,1136.0 L522.0,1136.1 L525.0,1136.3 L528.0,1136.4 L531.0,1136.5 L534.0,1136.7 L537.0,1136.8 L540.0,1136.9 L543.0,1137.1 L546.0,1137.2 L549.0,1137.3 L552.0,1137.5 L555.0,1137.6 L558.0,1137.8 L561.0,1137.9 L564.0,1138.0 L567.0,1138.2 L570.0,1138.3 L573.0,1138.4 L576.0,1138.6 L579.0,1138.7 L582.0,1138.9 L585.0,1139.0 L588.0,1139.2 L591.0,1139.3 L594.0,1139.4 L597.0,1139.6 L600.0,1139.7 L603.0,1139.9 L606.0,1140.0 L609.0,1140.2 L612.0,1140.3 L615.0,1140.5 L618.0,1140.6 L621.0,1140.8 L624.0,1140.9 L627.0,1141.1 L630.0,1141.2 L633.0,1141.4 L636.0,1141.5 L639.0,1141.7 L642.0,1141.8 L645.0,1142.0 L648.0,1142.1 L651.0,1142.3 L654.0,1142.4 L657.0,1142.6 L660.0,1142.7 L663.0,1142.9 L666.0,1143.0 L669.0,1143.2 L672.0,1143.4 L675.0,1143.5 L678.0,1143.7 L681.0,1143.8 L684.0,1144.0 L687.0,1144.2 L690.0,1144.3 L693.0,1144.5 L696.0,1144.7 L699.0,1144.8 L702.0,1145.0 L705.0,1145.2 L708.0,1145.3 L711.0,1145.5 L714.0,1145.7 L717.0,1145.8 L720.0,1146.0 L723.0,1146.2 L726.0,1146.3 L729.0,1146.5 L732.0,1146.7 L735.0,1146.9 L738.0,1147.1 L741.0,1147.2 L744.0,1147.4 L747.0,1147.6 L750.0,1147.8 L753.0,1148.0 L756.0,1148.2 L759.0,1148.4 L762.0,1148.6 L765.0,1148.8 L768.0,1149.0 L771.0,1149.1 L774.0,1149.3 L777.0,1149.5 L780.0,1149.7 L783.0,1150.0 L786.0,1150.2 L789.0,1150.4 L792.0,1150.6 L795.0,1150.8 L798.0,1151.0 L801.0,1151.2 L804.0,1151.4 L807.0,1151.6 L810.0,1151.8 L813.0,1152.0 L816.0,1152.3 L819.0,1152.5 L822.0,1152.7 L825.0,1152.9 L828.0,1153.1 L831.0,1153.3 L834.0,1153.6 L837.0,1153.8 L840.0,1154.0 L843.0,1154.2 L846.0,1154.5 L849.0,1154.7 L852.0,1154.9 L855.0,1155.1 L858.0,1155.3 L861.0,1155.6 L864.0,1155.8 L867.0,1156.0 L870.0,1156.3 L873.0,1156.5 L876.0,1156.7 L879.0,1156.9 L882.0,1157.2 L885.0,1157.4 L888.0,1157.6 L891.0,1157.8 L894.0,1158.1 L897.0,1158.3 L900.0,1158.5 L903.0,1158.8 L906.0,1159.0 L909.0,1159.2 L912.0,1159.4 L915.0,1159.7 L918.0,1159.9 L921.0,1160.1 L924.0,1160.4 L927.0,1160.6 L930.0,1160.8 L933.0,1161.0 L936.0,1161.3 L939.0,1161.5 L942.0,1161.7 L945.0,1162.0 L948.0,1162.2 L951.0,1162.4 L954.0,1162.6 L957.0,1162.9 L960.0,1163.1 L963.0,1163.3 L966.0,1163.5 L969.0,1163.7 L972.0,1164.0 L975.0,1164.2 L978.0,1164.4 L981.0,1164.6 L984.0,1164.8 L987.0,1165.1 L990.0,1165.3 L993.0,1165.5 L996.0,1165.7 L999.0,1165.9 L1002.0,1166.1 L1005.0,1166.4 L1008.0,1166.6 L1011.0,1166.8 L1014.0,1167.0 L1017.0,1167.2 L1020.0,1167.4 L1023.0,1167.6 L1026.0,1167.8 L1029.0,1168.1 L1032.0,1168.3 L1035.0,1168.5 L1038.0,1168.7 L1041.0,1168.9 L1044.0,1169.1 L1047.0,1169.3 L1050.0,1169.6 L1053.0,1169.8 L1056.0,1170.0 L1059.0,1170.2 L1062.0,1170.4 L1065.0,1170.6 L1068.0,1170.8 L1071.0,1171.0 L1074.0,1171.3 L1077.0,1171.5 L1080.0,1171.7 L1083.0,1171.9 L1086.0,1172.1 L1089.0,1172.3 L1092.0,1172.5 L1095.0,1172.7 L1098.0,1173.0 L1101.0,1173.2 L1104.0,1173.4 L1107.0,1173.6 L1110.0,1173.8 L1113.0,1174.0 L1116.0,1174.2 L1119.0,1174.4 L1122.0,1174.7 L1125.0,1174.9 L1128.0,1175.1 L1131.0,1175.3 L1134.0,1175.5 L1137.0,1175.7 L1140.0,1175.9 L1143.0,1176.1 L1146.0,1176.4 L1149.0,1176.6 L1152.0,1176.8 L1155.0,1177.0 L1158.0,1177.2 L1161.0,1177.4 L1164.0,1177.6 L1167.0,1177.8 L1170.0,1178.0 L1173.0,1178.3 L1176.0,1178.5 L1179.0,1178.7 L1182.0,1178.9 L1185.0,1179.1 L1188.0,1179.3 L1191.0,1179.5 L1194.0,1179.8 L1197.0,1180.0 L1200.0,1180.2 L1203.0,1180.4 L1206.0,1180.6 L1209.0,1180.8 L1212.0,1181.0 L1215.0,1181.2 L1218.0,1181.5 L1221.0,1181.7 L1224.0,1181.9 L1227.0,1182.1 L1230.0,1182.3 L1233.0,1182.5 L1236.0,1182.7 L1239.0,1182.9 L1242.0,1183.2 L1245.0,1183.4 L1248.0,1183.6 L1251.0,1183.8 L1254.0,1184.0 L1257.0,1184.2 L1260.0,1184.4 L1263.0,1184.7 L1266.0,1184.9 L1269.0,1185.1 L1272.0,1185.3 L1275.0,1185.5 L1278.0,1185.7 L1281.0,1185.9 L1284.0,1186.2 L1287.0,1186.4 L1290.0,1186.6 L1293.0,1186.8 L1296.0,1187.0 L1299.0,1187.2 L1302.0,1187.4 L1305.0,1187.7 L1308.0,1187.9 L1311.0,1188.1 L1314.0,1188.3 L1317.0,1188.5 L1320.0,1188.7 L1323.0,1188.9 L1326.0,1189.2 L1329.0,1189.4 L1332.0,1189.6 L1335.0,1189.8 L1338.0,1190.0 L1341.0,1190.2 L1344.0,1190.5 L1347.0,1190.7 L1350.0,1190.9 L1353.0,1191.1 L1356.0,1191.3 L1359.0,1191.5 L1362.0,1191.7 L1365.0,1192.0 L1368.0,1192.2 L1371.0,1192.4 L1374.0,1192.6 L1377.0,1192.8 L1380.0,1193.0 L1383.0,1193.3 L1386.0,1193.5 L1389.0,1193.7 L1392.0,1193.9 L1395.0,1194.1 L1398.0,1194.3 L1401.0,1194.5 L1404.0,1194.8 L1407.0,1195.0 L1410.0,1195.2 L1413.0,1195.4 L1416.0,1195.6 L1419.0,1195.8 L1422.0,1196.1 L1425.0,1196.3 L1428.0,1196.5 L1431.0,1196.7 L1434.0,1196.9 L1437.0,1197.1 L1440.0,1197.4 L1443.0,1197.6 L1446.0,1197.8 L1449.0,1198.0 L1452.0,1198.2 L1455.0,1198.4 L1458.0,1198.7 L1461.0,1198.9 L1464.0,1199.1 L1467.0,1199.3 L1470.0,1199.5 L1473.0,1199.7 L1476.0,1199.9 L1479.0,1200.2 L1482.0,1200.4 L1485.0,1200.6 L1488.0,1200.8 L1491.0,1201.0 L1494.0,1201.2 L1497.0,1201.5 L1500.0,1201.7 L1503.0,1201.9 L1506.0,1202.1 L1509.0,1202.3 L1512.0,1202.5 L1515.0,1202.8 L1518.0,1203.0 L1521.0,1203.2 L1524.0,1203.4 L1527.0,1203.6 L1530.0,1203.8 L1533.0,1204.1 L1536.0,1204.3 L1539.0,1204.5 L1542.0,1204.7 L1545.0,1204.9 L1548.0,1205.1 L1551.0,1205.4 L1554.0,1205.6 L1557.0,1205.8 L1560.0,1206.0 L1563.0,1206.2 L1566.0,1206.4 L1569.0,1206.7 L1572.0,1206.9 L1575.0,1207.1 L1578.0,1207.3 L1581.0,1207.5 L1584.0,1207.8 L1587.0,1208.0 L1590.0,1208.2 L1593.0,1208.4 L1596.0,1208.6 L1599.0,1208.8 L1602.0,1209.1 L1605.0,1209.3 L1608.0,1209.5 L1611.0,1209.7 L1614.0,1209.9 L1617.0,1210.1 L1620.0,1210.4 L1623.0,1210.6 L1626.0,1210.8 L1629.0,1211.0 L1632.0,1211.2 L1635.0,1211.4 L1638.0,1211.7 L1641.0,1211.9 L1644.0,1212.1 L1647.0,1212.3 L1650.0,1212.5 L1653.0,1212.8 L1656.0,1213.0 L1659.0,1213.2 L1662.0,1213.4 L1665.0,1213.6 L1668.0,1213.8 L1671.0,1214.1 L1674.0,1214.3 L1677.0,1214.5 L1680.0,1214.7 L1683.0,1214.9 L1686.0,1215.2 L1689.0,1215.4 L1692.0,1215.6 L1695.0,1215.8 L1698.0,1216.0 L1701.0,1216.2 L1704.0,1216.5 L1707.0,1216.7 L1710.0,1216.9 L1713.0,1217.1 L1716.0,1217.3 L1719.0,1217.6 L1722.0,1217.8 L1725.0,1218.0 L1728.0,1218.2 L1731.0,1218.4 L1734.0,1218.6 L1737.0,1218.9 L1740.0,1219.1 L1743.0,1219.3 L1746.0,1219.5 L1749.0,1219.7 L1752.0,1220.0 L1755.0,1220.2 L1758.0,1220.4 L1761.0,1220.6 L1764.0,1220.8 L1767.0,1221.1 L1770.0,1221.3 L1773.0,1221.5 L1776.0,1221.7 L1779.0,1221.9 L1782.0,1222.1 L1785.0,1222.4 L1788.0,1222.6 L1791.0,1222.8 L1794.0,1223.0 L1797.0,1223.2 L1800.0,1223.5 L1803.0,1223.7 L1806.0,1223.9 L1809.0,1224.1 L1812.0,1224.3 L1815.0,1224.6 L1818.0,1224.8 L1821.0,1225.0 L1824.0,1225.2 L1827.0,1225.4 L1830.0,1225.7 L1833.0,1225.9 L1836.0,1226.1 L1839.0,1226.3 L1842.0,1226.5 L1845.0,1226.8 L1848.0,1227.0 L1851.0,1227.2 L1854.0,1227.4 L1857.0,1227.6 L1860.0,1227.9 L1863.0,1228.1 L1866.0,1228.3 L1869.0,1228.5 L1872.0,1228.7 L1875.0,1229.0 L1878.0,1229.2 L1881.0,1229.4" fill="none" stroke="#d52a33" stroke-width="6" stroke-linejoin="round" stroke-linecap="butt"/>
<path d="M129.0,1129.0 L132.0,1129.1 L135.0,1129.2 L138.0,1129.3 L141.0,1129.3 L144.0,1129.4 L147.0,1129.6 L150.0,1129.7 L153.0,1129.8 L156.0,1129.9 L159.0,1130.0 L162.0,1130.2 L165.0,1130.3 L168.0,1130.5 L171.0,1130.6 L174.0,1130.8 L177.0,1130.9 L180.0,1131.1 L183.0,1131.3 L186.0,1131.4 L189.0,1131.6 L192.0,1131.8 L195.0,1132.0 L198.0,1132.2 L201.0,1132.4 L204.0,1132.6 L207.0,1132.8 L210.0,1133.0 L213.0,1133.2 L216.0,1133.4 L219.0,1133.6 L222.0,1133.8 L225.0,1134.1 L228.0,1134.3 L231.0,1134.5 L234.0,1134.7 L237.0,1135.0 L240.0,1135.2 L243.0,1135.5 L246.0,1135.7 L249.0,1136.0 L252.0,1136.2 L255.0,1136.5 L258.0,1136.7 L261.0,1137.0 L264.0,1137.3 L267.0,1137.5 L270.0,1137.8 L273.0,1138.1 L276.0,1138.3 L279.0,1138.6 L282.0,1138.9 L285.0,1139.1 L288.0,1139.4 L291.0,1139.7 L294.0,1140.0 L297.0,1140.3 L300.0,1140.5 L303.0,1140.8 L306.0,1141.1 L309.0,1141.4 L312.0,1141.7 L315.0,1142.0 L318.0,1142.4 L321.0,1142.7 L324.0,1143.1 L327.0,1143.5 L330.0,1143.9 L333.0,1144.4 L336.0,1144.8 L339.0,1145.3 L342.0,1145.8 L345.0,1146.3 L348.0,1146.8 L351.0,1147.3 L354.0,1147.8 L357.0,1148.3 L360.0,1148.9 L363.0,1149.4 L366.0,1150.0 L369.0,1150.5 L372.0,1151.1 L375.0,1151.7 L378.0,1152.2 L381.0,1152.8 L384.0,1153.4 L387.0,1153.9 L390.0,1154.5 L393.0,1155.1 L396.0,1155.6 L399.0,1156.2 L402.0,1156.7 L405.0,1157.2 L408.0,1157.8 L411.0,1158.3 L414.0,1158.8 L417.0,1159.3 L420.0,1159.8 L423.0,1160.3 L426.0,1160.7 L429.0,1161.2 L432.0,1161.6 L435.0,1162.0 L438.0,1162.4 L441.0,1162.8 L444.0,1163.1 L447.0,1163.5 L450.0,1163.8 L453.0,1164.1 L456.0,1164.4 L459.0,1164.6 L462.0,1164.8 L465.0,1165.0 L468.0,1165.2 L471.0,1165.3 L474.0,1165.5 L477.0,1165.6 L480.0,1165.8 L483.0,1165.9 L486.0,1166.0 L489.0,1166.1 L492.0,1166.3 L495.0,1166.4 L498.0,1166.5 L501.0,1166.6 L504.0,1166.7 L507.0,1166.7 L510.0,1166.8 L513.0,1166.9 L516.0,1167.0 L519.0,1167.1 L522.0,1167.2 L525.0,1167.2 L528.0,1167.3 L531.0,1167.4 L534.0,1167.5 L537.0,1167.6 L540.0,1167.6 L543.0,1167.7 L546.0,1167.8 L549.0,1167.9 L552.0,1168.0 L555.0,1168.1 L558.0,1168.2 L561.0,1168.3 L564.0,1168.4 L567.0,1168.5 L570.0,1168.6 L573.0,1168.7 L576.0,1168.9 L579.0,1169.0 L582.0,1169.2 L585.0,1169.3 L588.0,1169.5 L591.0,1169.6 L594.0,1169.8 L597.0,1170.0 L600.0,1170.3 L603.0,1170.5 L606.0,1170.8 L609.0,1171.1 L612.0,1171.4 L615.0,1171.7 L618.0,1172.1 L621.0,1172.4 L624.0,1172.8 L627.0,1173.2 L630.0,1173.6 L633.0,1174.1 L636.0,1174.5 L639.0,1174.9 L642.0,1175.4 L645.0,1175.9 L648.0,1176.3 L651.0,1176.8 L654.0,1177.3 L657.0,1177.8 L660.0,1178.3 L663.0,1178.8 L666.0,1179.3 L669.0,1179.8 L672.0,1180.3 L675.0,1180.9 L678.0,1181.4 L681.0,1181.9 L684.0,1182.4 L687.0,1182.9 L690.0,1183.4 L693.0,1183.9 L696.0,1184.4 L699.0,1184.8 L702.0,1185.3 L705.0,1185.8 L708.0,1186.2 L711.0,1186.6 L714.0,1187.0 L717.0,1187.5 L720.0,1187.9 L723.0,1188.3 L726.0,1188.7 L729.0,1189.2 L732.0,1189.7 L735.0,1190.2 L738.0,1190.7 L741.0,1191.3 L744.0,1191.9 L747.0,1192.6 L750.0,1193.3 L753.0,1194.1 L756.0,1195.0 L759.0,1196.1 L761.8,1197.3 L764.5,1198.7 L767.2,1200.3 L770.0,1202.0 L772.8,1203.8 L775.2,1205.5 L777.8,1207.4 L780.2,1209.3 L782.8,1211.2 L785.2,1213.2 L787.8,1215.3 L790.2,1217.3 L792.8,1219.4 L795.2,1221.5 L797.8,1223.6 L800.2,1225.6 L802.8,1227.6 L805.2,1229.6 L807.8,1231.6 L810.2,1233.5 L812.8,1235.4 L815.2,1237.5 L817.8,1239.6 L820.2,1241.8 L822.5,1243.8 L824.8,1245.8 L827.0,1247.9 L829.2,1249.9 L831.5,1252.0 L833.8,1254.0 L836.0,1256.0 L838.2,1258.0 L840.8,1260.2 L843.2,1262.3 L845.8,1264.4 L848.2,1266.4 L850.8,1268.3 L853.2,1270.1 L855.8,1271.8 L858.5,1273.5 L861.2,1275.1 L864.0,1276.6 L866.8,1277.9 L869.5,1279.2 L872.5,1280.5 L875.5,1281.7 L878.5,1282.9 L881.5,1284.0 L884.5,1285.0 L887.5,1286.1 L890.5,1287.1 L893.5,1288.0 L896.5,1289.0 L899.5,1289.9 L902.5,1290.8 L905.5,1291.7 L908.5,1292.5 L911.5,1293.4 L914.5,1294.2 L917.5,1295.0 L920.5,1295.9 L923.5,1296.7 L926.5,1297.5 L929.5,1298.3 L932.5,1299.2 L935.5,1300.0 L938.5,1300.9 L941.5,1301.8 L944.5,1302.7 L947.5,1303.6 L950.5,1304.7 L953.5,1305.8 L956.5,1306.9 L959.5,1308.1 L962.5,1309.4 L965.5,1310.6 L968.5,1311.9 L971.5,1313.1 L974.5,1314.3 L977.5,1315.4 L980.5,1316.5 L983.5,1317.5 L986.5,1318.4 L989.5,1319.2 L992.5,1319.9 L995.5,1320.4 L998.5,1320.8 L1001.5,1321.0 L1004.5,1321.1 L1007.5,1321.1 L1010.5,1321.2 L1013.5,1321.3 L1016.5,1321.4 L1019.5,1321.4 L1022.5,1321.5 L1025.5,1321.6 L1028.5,1321.6 L1031.5,1321.7 L1034.5,1321.8 L1037.5,1321.8 L1040.5,1321.9 L1043.5,1321.9 L1046.5,1322.0 L1049.5,1322.0 L1052.5,1322.1 L1055.5,1322.1 L1058.5,1322.2 L1061.5,1322.2 L1064.5,1322.3 L1067.5,1322.3 L1070.5,1322.4 L1073.5,1322.4 L1076.5,1322.5 L1079.5,1322.5 L1082.5,1322.5 L1085.5,1322.6 L1088.5,1322.6 L1091.5,1322.6 L1094.5,1322.7 L1097.5,1322.7 L1100.5,1322.7 L1103.5,1322.8 L1106.5,1322.8 L1109.5,1322.8 L1112.5,1322.9 L1115.5,1322.9 L1118.5,1322.9 L1121.5,1322.9 L1124.5,1323.0 L1127.5,1323.0 L1130.5,1323.0 L1133.5,1323.0 L1136.5,1323.0 L1139.5,1323.1 L1142.5,1323.1 L1145.5,1323.1 L1148.5,1323.1 L1151.5,1323.1 L1154.5,1323.2 L1157.5,1323.2 L1160.5,1323.2 L1163.5,1323.2 L1166.5,1323.2 L1169.5,1323.3 L1172.5,1323.3 L1175.5,1323.3 L1178.5,1323.3 L1181.5,1323.3 L1184.5,1323.3 L1187.5,1323.4 L1190.5,1323.4 L1193.5,1323.4 L1196.5,1323.4 L1199.5,1323.4 L1202.5,1323.4 L1205.5,1323.5 L1208.5,1323.5 L1211.5,1323.5 L1214.5,1323.5 L1217.5,1323.5 L1220.5,1323.6 L1223.5,1323.6 L1226.5,1323.6 L1229.5,1323.6 L1232.5,1323.6 L1235.5,1323.7 L1238.5,1323.7 L1241.5,1323.7 L1244.5,1323.7 L1247.5,1323.7 L1250.5,1323.8 L1253.5,1323.8 L1256.5,1323.8 L1259.5,1323.8 L1262.5,1323.9 L1265.5,1323.9 L1268.5,1323.9 L1271.5,1324.0 L1274.5,1324.0 L1277.5,1324.0 L1280.5,1324.1 L1283.5,1324.1 L1286.5,1324.1 L1289.5,1324.2 L1292.5,1324.2 L1295.5,1324.2 L1298.5,1324.3 L1301.5,1324.3 L1304.5,1324.4 L1307.5,1324.4 L1310.5,1324.4 L1313.5,1324.5 L1316.5,1324.5 L1319.5,1324.6 L1322.5,1324.6 L1325.5,1324.7 L1328.5,1324.7 L1331.5,1324.7 L1334.5,1324.8 L1337.5,1324.8 L1340.5,1324.9 L1343.5,1324.9 L1346.5,1325.0 L1349.5,1325.0 L1352.5,1325.1 L1355.5,1325.1 L1358.5,1325.1 L1361.5,1325.2 L1364.5,1325.2 L1367.5,1325.3 L1370.5,1325.3 L1373.5,1325.4 L1376.5,1325.4 L1379.5,1325.5 L1382.5,1325.5 L1385.5,1325.6 L1388.5,1325.6 L1391.5,1325.7 L1394.5,1325.7 L1397.5,1325.8 L1400.5,1325.8 L1403.5,1325.9 L1406.5,1325.9 L1409.5,1326.0 L1412.5,1326.0 L1415.5,1326.1 L1418.5,1326.1 L1421.5,1326.1 L1424.5,1326.2 L1427.5,1326.2 L1430.5,1326.3 L1433.5,1326.3 L1436.5,1326.4 L1439.5,1326.5 L1442.5,1326.5 L1445.5,1326.6 L1448.5,1326.6 L1451.5,1326.7 L1454.5,1326.7 L1457.5,1326.8 L1460.5,1326.8 L1463.5,1326.9 L1466.5,1326.9 L1469.5,1327.0 L1472.5,1327.0 L1475.5,1327.1 L1478.5,1327.1 L1481.5,1327.2 L1484.5,1327.2 L1487.5,1327.3 L1490.5,1327.3 L1493.5,1327.4 L1496.5,1327.5 L1499.5,1327.5 L1502.5,1327.6 L1505.5,1327.6 L1508.5,1327.7 L1511.5,1327.7 L1514.5,1327.8 L1517.5,1327.8 L1520.5,1327.9 L1523.5,1328.0 L1526.5,1328.0 L1529.5,1328.1 L1532.5,1328.1 L1535.5,1328.2 L1538.5,1328.2 L1541.5,1328.3 L1544.5,1328.4 L1547.5,1328.4 L1550.5,1328.5 L1553.5,1328.5 L1556.5,1328.6 L1559.5,1328.6 L1562.5,1328.7 L1565.5,1328.8 L1568.5,1328.8 L1571.5,1328.9 L1574.5,1328.9 L1577.5,1329.0 L1580.5,1329.1 L1583.5,1329.1 L1586.5,1329.2 L1589.5,1329.2 L1592.5,1329.3 L1595.5,1329.4 L1598.5,1329.4 L1601.5,1329.5 L1604.5,1329.5 L1607.5,1329.6 L1610.5,1329.7 L1613.5,1329.7 L1616.5,1329.8 L1619.5,1329.9 L1622.5,1329.9 L1625.5,1330.0 L1628.5,1330.0 L1631.5,1330.1 L1634.5,1330.2 L1637.5,1330.2 L1640.5,1330.3 L1643.5,1330.4 L1646.5,1330.4 L1649.5,1330.5 L1652.5,1330.6 L1655.5,1330.6 L1658.5,1330.7 L1661.5,1330.7 L1664.5,1330.8 L1667.5,1330.9 L1670.5,1330.9 L1673.5,1331.0 L1676.5,1331.1 L1679.5,1331.1 L1682.5,1331.2 L1685.5,1331.3 L1688.5,1331.3 L1691.5,1331.4 L1694.5,1331.5 L1697.5,1331.5 L1700.5,1331.6 L1703.5,1331.7 L1706.5,1331.7 L1709.5,1331.8 L1712.5,1331.9 L1715.5,1331.9 L1718.5,1332.0 L1721.5,1332.1 L1724.5,1332.2 L1727.5,1332.2 L1730.5,1332.3 L1733.5,1332.4 L1736.5,1332.4 L1739.5,1332.5 L1742.5,1332.6 L1745.5,1332.6 L1748.5,1332.7 L1751.5,1332.8 L1754.5,1332.9 L1757.5,1332.9 L1760.5,1333.0 L1763.5,1333.1 L1766.5,1333.1 L1769.5,1333.2 L1772.5,1333.3 L1775.5,1333.4 L1778.5,1333.4 L1781.5,1333.5 L1784.5,1333.6 L1787.5,1333.6 L1790.5,1333.7 L1793.5,1333.8 L1796.5,1333.9 L1799.5,1333.9 L1802.5,1334.0 L1805.5,1334.1 L1808.5,1334.2 L1811.5,1334.2 L1814.5,1334.3 L1817.5,1334.4 L1820.5,1334.5 L1823.5,1334.5 L1826.5,1334.6 L1829.5,1334.7 L1832.5,1334.8 L1835.5,1334.8 L1838.5,1334.9 L1841.5,1335.0 L1844.5,1335.1 L1847.5,1335.1 L1850.5,1335.2 L1853.5,1335.3 L1856.5,1335.4 L1859.5,1335.4 L1862.5,1335.5 L1865.5,1335.6 L1868.5,1335.7 L1871.5,1335.8 L1874.5,1335.8 L1877.5,1335.9 L1880.5,1336.0 L1881.0,1336.0" fill="none" stroke="#4148c5" stroke-width="6" stroke-linejoin="round" stroke-linecap="butt"/>
<path d="M129.0,1126.0 L132.0,1125.7 L135.0,1125.3 L138.0,1125.1 L140.9,1125.0 L143.9,1125.0 L146.9,1125.0 L149.9,1125.1 L152.9,1125.1 L155.9,1125.2 L158.9,1125.2 L161.9,1125.3 L164.9,1125.4 L167.9,1125.5 L170.9,1125.6 L173.9,1125.7 L176.9,1125.8 L179.9,1125.9 L182.9,1126.1 L185.9,1126.2 L188.9,1126.4 L191.9,1126.5 L194.9,1126.7 L197.9,1126.9 L200.9,1127.1 L203.9,1127.3 L206.9,1127.5 L209.9,1127.7 L212.9,1127.9 L215.9,1128.1 L218.9,1128.3 L221.9,1128.6 L224.8,1128.8 L227.8,1129.1 L230.8,1129.3 L233.8,1129.6 L236.8,1129.8 L239.8,1130.1 L242.8,1130.4 L245.8,1130.6 L248.7,1130.9 L251.7,1131.2 L254.7,1131.5 L257.7,1131.8 L260.7,1132.0 L263.7,1132.3 L266.7,1132.6 L269.6,1132.9 L272.6,1133.2 L275.6,1133.6 L278.6,1133.9 L281.6,1134.2 L284.6,1134.5 L287.6,1134.8 L290.5,1135.1 L293.5,1135.4 L296.5,1135.7 L299.5,1136.1 L302.5,1136.4 L305.5,1136.7 L308.4,1137.0 L311.4,1137.3 L314.4,1137.7 L317.4,1138.0 L320.4,1138.3 L323.4,1138.6 L326.3,1138.9 L329.3,1139.2 L332.3,1139.5 L335.3,1139.9 L338.3,1140.2 L341.3,1140.5 L344.2,1140.8 L347.2,1141.1 L350.2,1141.4 L353.2,1141.7 L356.2,1142.0 L359.2,1142.3 L362.2,1142.5 L365.1,1142.8 L368.1,1143.1 L371.1,1143.4 L374.1,1143.7 L377.1,1143.9 L380.1,1144.2 L383.1,1144.4 L386.1,1144.7 L389.0,1144.9 L392.0,1145.2 L395.0,1145.4 L398.0,1145.7 L401.0,1145.9 L404.0,1146.1 L407.0,1146.3 L410.0,1146.5 L413.0,1146.7 L416.0,1146.9 L419.0,1147.1 L422.0,1147.3 L425.0,1147.4 L428.0,1147.6 L431.0,1147.7 L433.9,1147.9 L436.9,1148.0 L439.9,1148.1 L442.9,1148.3 L445.9,1148.4 L448.9,1148.5 L451.9,1148.6 L454.9,1148.6 L457.9,1148.7 L460.9,1148.8 L463.9,1148.8 L466.9,1148.9 L469.9,1148.9 L472.9,1149.0 L475.9,1149.1 L478.9,1149.1 L481.9,1149.2 L484.9,1149.2 L487.9,1149.3 L490.9,1149.3 L493.9,1149.4 L496.9,1149.5 L499.9,1149.6 L502.9,1149.7 L505.9,1149.8 L508.9,1149.9 L511.9,1150.1 L514.9,1150.2 L517.9,1150.4 L520.9,1150.6 L523.9,1150.8 L526.9,1151.0 L529.9,1151.2 L532.9,1151.4 L535.9,1151.6 L538.9,1151.8 L541.8,1152.1 L544.8,1152.3 L547.8,1152.6 L550.8,1152.9 L553.8,1153.1 L556.8,1153.4 L559.8,1153.7 L562.8,1154.0 L565.7,1154.3 L568.7,1154.6 L571.7,1155.0 L574.7,1155.3 L577.7,1155.6 L580.7,1155.9 L583.6,1156.3 L586.6,1156.6 L589.6,1157.0 L592.6,1157.3 L595.5,1157.7 L598.5,1158.1 L601.5,1158.4 L604.5,1158.8 L607.5,1159.2 L610.4,1159.6 L613.4,1160.0 L616.4,1160.4 L619.4,1160.7 L622.3,1161.1 L625.3,1161.5 L628.3,1161.9 L631.3,1162.3 L634.2,1162.7 L637.2,1163.1 L640.2,1163.5 L643.1,1163.9 L646.1,1164.3 L649.1,1164.8 L652.0,1165.2 L655.0,1165.7 L658.0,1166.1 L660.9,1166.6 L663.9,1167.1 L666.8,1167.7 L669.8,1168.2 L672.8,1168.7 L675.7,1169.3 L678.6,1169.8 L681.6,1170.4 L684.5,1171.0 L687.5,1171.6 L690.4,1172.2 L693.4,1172.8 L696.3,1173.4 L699.2,1174.0 L702.2,1174.6 L705.1,1175.2 L708.0,1175.9 L711.0,1176.5 L713.9,1177.2 L716.8,1177.8 L719.8,1178.4 L722.7,1179.1 L725.6,1179.7 L728.5,1180.4 L731.5,1181.1 L734.4,1181.7 L737.3,1182.4 L740.3,1183.0 L743.2,1183.7 L746.1,1184.3 L749.0,1185.0 L752.0,1185.6 L754.9,1186.3 L757.8,1186.9 L760.8,1187.5 L763.7,1188.1 L766.6,1188.7 L769.6,1189.2 L772.5,1189.8 L775.5,1190.3 L778.5,1190.8 L781.4,1191.3 L784.4,1191.8 L787.3,1192.4 L790.3,1192.9 L793.2,1193.5 L796.2,1194.1 L799.1,1194.8 L802.0,1195.5 L804.9,1196.2 L807.8,1197.0 L810.7,1197.9 L813.5,1198.8 L816.4,1199.7 L819.2,1200.8 L821.9,1202.0 L824.5,1203.5 L826.9,1205.3 L829.1,1207.3 L831.2,1209.4 L833.3,1211.6 L835.2,1213.9 L837.1,1216.2 L839.0,1218.6 L840.8,1220.9 L842.7,1223.3 L844.5,1225.7 L846.4,1228.0 L848.2,1230.4 L850.2,1232.7 L852.1,1234.9 L854.2,1237.2 L856.2,1239.3 L858.3,1241.5 L860.4,1243.7 L862.4,1245.8 L864.5,1248.0 L866.6,1250.2 L868.6,1252.4 L870.7,1254.5 L872.8,1256.7 L874.9,1258.8 L877.0,1261.0 L879.2,1263.1 L881.3,1265.2 L883.5,1267.2 L885.7,1269.3 L887.9,1271.3 L890.2,1273.2 L892.5,1275.2 L894.8,1277.0 L897.2,1278.9 L899.5,1280.7 L901.9,1282.5 L904.4,1284.3 L906.8,1286.0 L909.3,1287.8 L911.7,1289.5 L914.2,1291.2 L916.7,1292.8 L919.2,1294.5 L921.7,1296.1 L924.2,1297.8 L926.7,1299.4 L929.3,1301.0 L931.8,1302.6 L934.4,1304.1 L937.0,1305.7 L939.6,1307.2 L942.2,1308.7 L944.8,1310.2 L947.4,1311.6 L950.0,1313.1 L952.6,1314.6 L955.2,1316.1 L957.8,1317.6 L960.4,1319.2 L962.9,1320.7 L965.5,1322.3 L968.0,1323.9 L970.5,1325.6 L973.0,1327.2 L975.4,1329.0 L977.9,1330.7 L980.3,1332.6 L982.6,1334.4 L985.0,1336.2 L987.4,1338.0 L989.8,1339.9 L992.2,1341.7 L994.6,1343.4 L997.0,1345.2 L999.5,1346.9 L1001.9,1348.7 L1004.3,1350.4 L1006.8,1352.2 L1009.2,1354.0 L1011.6,1355.8 L1014.0,1357.6 L1016.3,1359.5 L1018.6,1361.4 L1020.9,1363.3 L1023.1,1365.3 L1025.3,1367.4 L1027.5,1369.5 L1029.6,1371.6 L1031.7,1373.7 L1033.8,1375.9 L1035.9,1378.0 L1038.0,1380.1 L1040.1,1382.3 L1042.3,1384.4 L1044.4,1386.4 L1046.7,1388.5 L1048.9,1390.4 L1051.2,1392.4 L1053.5,1394.3 L1055.7,1396.3 L1057.9,1398.4 L1060.0,1400.6 L1062.0,1402.8 L1064.0,1405.0 L1066.0,1407.3 L1067.9,1409.5 L1069.8,1411.9 L1071.6,1414.2 L1073.4,1416.7 L1075.2,1419.1 L1076.9,1421.6 L1078.5,1424.1 L1080.1,1426.6 L1081.7,1429.2 L1083.2,1431.8 L1084.6,1434.4 L1086.0,1437.1 L1087.2,1439.8 L1088.4,1442.6 L1089.5,1445.3 L1090.6,1448.1 L1091.6,1451.0 L1092.6,1453.8 L1093.6,1456.6 L1094.6,1459.5 L1095.6,1462.3 L1096.6,1465.1 L1097.6,1468.0 L1098.5,1470.8 L1099.5,1473.6 L1100.6,1476.4 L1101.6,1479.3 L1102.7,1482.1 L1103.7,1484.9 L1104.8,1487.7 L1105.8,1490.5 L1106.9,1493.3 L1107.9,1496.1 L1109.0,1498.9 L1110.0,1501.7 L1111.1,1504.5 L1112.1,1507.3 L1113.2,1510.2 L1114.2,1513.0 L1115.2,1515.8 L1116.2,1518.6 L1117.2,1521.5 L1118.2,1524.3 L1119.2,1527.1 L1120.2,1530.0 L1121.1,1532.8 L1122.1,1535.6 L1123.1,1538.5 L1124.0,1541.3 L1125.0,1544.2 L1126.0,1547.0 L1126.9,1549.8 L1127.9,1552.7 L1128.9,1555.5 L1129.9,1558.4 L1130.9,1561.2 L1131.9,1564.0 L1132.8,1566.8 L1133.8,1569.7 L1134.8,1572.5 L1135.8,1575.3 L1136.8,1578.2 L1137.8,1581.0 L1138.8,1583.8 L1139.7,1586.7 L1140.7,1589.5 L1141.6,1592.4 L1142.5,1595.2 L1143.4,1598.1 L1144.3,1601.0 L1145.1,1603.9 L1146.0,1606.7 L1146.8,1609.6 L1147.6,1612.5 L1148.5,1615.4 L1149.3,1618.3 L1150.2,1621.1 L1151.1,1624.0 L1152.0,1626.9 L1152.9,1629.7 L1153.8,1632.6 L1154.8,1635.4 L1155.7,1638.3 L1156.6,1641.1 L1157.6,1644.0 L1158.5,1646.8 L1159.5,1649.6 L1160.5,1652.5 L1161.6,1655.3 L1162.7,1658.0 L1164.0,1660.8 L1165.4,1663.4 L1166.9,1666.0 L1168.5,1668.5 L1170.2,1671.0 L1172.0,1673.4 L1173.9,1675.7 L1175.9,1678.0 L1177.9,1680.2 L1180.0,1682.3 L1182.3,1684.3 L1184.6,1686.2 L1186.9,1688.1 L1189.4,1689.8 L1191.9,1691.5 L1194.4,1693.1 L1197.0,1694.5 L1199.7,1695.9 L1202.4,1697.1 L1205.2,1698.3 L1208.0,1699.4 L1210.8,1700.5 L1213.6,1701.5 L1216.5,1702.4 L1219.3,1703.4 L1222.2,1704.3 L1225.1,1705.1 L1227.9,1705.9 L1230.8,1706.7 L1233.7,1707.5 L1236.6,1708.3 L1239.5,1709.0 L1242.4,1709.7 L1245.4,1710.5 L1248.3,1711.2 L1251.2,1711.9 L1254.1,1712.6 L1257.0,1713.3 L1259.9,1713.9 L1262.9,1714.6 L1265.8,1715.2 L1268.7,1715.9 L1271.7,1716.5 L1274.6,1717.1 L1277.5,1717.7 L1280.5,1718.3 L1283.4,1718.9 L1286.4,1719.4 L1289.3,1719.9 L1292.3,1720.5 L1295.3,1721.0 L1298.2,1721.5 L1301.2,1721.9 L1304.1,1722.4 L1307.1,1722.8 L1310.1,1723.2 L1313.1,1723.6 L1316.0,1724.0 L1319.0,1724.4 L1322.0,1724.7 L1325.0,1725.1 L1327.9,1725.4 L1330.9,1725.8 L1333.9,1726.1 L1336.9,1726.5 L1339.9,1726.8 L1342.8,1727.1 L1345.8,1727.5 L1348.8,1727.8 L1351.8,1728.1 L1354.8,1728.4 L1357.8,1728.7 L1360.8,1729.0 L1363.7,1729.3 L1366.7,1729.6 L1369.7,1729.8 L1372.7,1730.1 L1375.7,1730.4 L1378.7,1730.6 L1381.7,1730.9 L1384.7,1731.1 L1387.6,1731.4 L1390.6,1731.6 L1393.6,1731.8 L1396.6,1732.1 L1399.6,1732.3 L1402.6,1732.5 L1405.6,1732.7 L1408.6,1732.9 L1411.6,1733.1 L1414.6,1733.3 L1417.6,1733.4 L1420.6,1733.6 L1423.6,1733.8 L1426.6,1734.0 L1429.6,1734.1 L1432.5,1734.3 L1435.5,1734.4 L1438.5,1734.6 L1441.5,1734.7 L1444.5,1734.8 L1447.5,1735.0 L1450.5,1735.1 L1453.5,1735.3 L1456.5,1735.4 L1459.5,1735.5 L1462.5,1735.6 L1465.5,1735.8 L1468.5,1735.9 L1471.5,1736.0 L1474.5,1736.1 L1477.5,1736.2 L1480.5,1736.3 L1483.5,1736.4 L1486.5,1736.5 L1489.5,1736.7 L1492.5,1736.8 L1495.5,1736.9 L1498.5,1737.0 L1501.5,1737.1 L1504.5,1737.2 L1507.5,1737.3 L1510.5,1737.3 L1513.5,1737.4 L1516.5,1737.5 L1519.5,1737.6 L1522.5,1737.7 L1525.5,1737.8 L1528.5,1737.9 L1531.5,1738.0 L1534.5,1738.1 L1537.5,1738.2 L1540.5,1738.3 L1543.5,1738.4 L1546.5,1738.5 L1549.5,1738.5 L1552.5,1738.6 L1555.5,1738.7 L1558.5,1738.8 L1561.5,1738.9 L1564.5,1739.0 L1567.5,1739.1 L1570.5,1739.2 L1573.5,1739.3 L1576.5,1739.4 L1579.5,1739.5 L1582.5,1739.6 L1585.5,1739.7 L1588.4,1739.8 L1591.4,1739.9 L1594.4,1740.0 L1597.4,1740.1 L1600.4,1740.2 L1603.4,1740.2 L1606.4,1740.3 L1609.4,1740.4 L1612.4,1740.5 L1615.4,1740.6 L1618.4,1740.7 L1621.4,1740.8 L1624.4,1740.9 L1627.4,1741.0 L1630.4,1741.1 L1633.4,1741.1 L1636.4,1741.2 L1639.4,1741.3 L1642.4,1741.4 L1645.4,1741.5 L1648.4,1741.6 L1651.4,1741.7 L1654.4,1741.8 L1657.4,1741.8 L1660.4,1741.9 L1663.4,1742.0 L1666.4,1742.1 L1669.4,1742.2 L1672.4,1742.3 L1675.4,1742.4 L1678.4,1742.4 L1681.4,1742.5 L1684.4,1742.6 L1687.4,1742.7 L1690.4,1742.8 L1693.4,1742.9 L1696.4,1743.0 L1699.4,1743.1 L1702.4,1743.2 L1705.4,1743.3 L1708.4,1743.3 L1711.4,1743.4 L1714.4,1743.5 L1717.4,1743.6 L1720.4,1743.7 L1723.4,1743.8 L1726.4,1743.9 L1729.4,1744.0 L1732.4,1744.1 L1735.4,1744.2 L1738.4,1744.3 L1741.4,1744.4 L1744.4,1744.5 L1747.4,1744.6 L1750.4,1744.7 L1753.4,1744.8 L1756.4,1744.9 L1759.4,1745.0 L1762.4,1745.1 L1765.4,1745.2 L1768.4,1745.3 L1771.4,1745.4 L1774.4,1745.5 L1777.4,1745.6 L1780.4,1745.7 L1783.4,1745.8 L1786.4,1745.9 L1789.4,1746.0 L1792.4,1746.1 L1795.3,1746.2 L1798.3,1746.4 L1801.3,1746.5 L1804.3,1746.6 L1807.3,1746.7 L1810.3,1746.8 L1813.3,1746.9 L1816.3,1747.0 L1819.3,1747.1 L1822.3,1747.2 L1825.3,1747.3 L1828.3,1747.4 L1831.3,1747.6 L1834.3,1747.7 L1837.3,1747.8 L1840.3,1747.9 L1843.3,1748.0 L1846.3,1748.1 L1849.3,1748.2 L1852.3,1748.3 L1855.3,1748.4 L1858.3,1748.6 L1861.3,1748.7 L1861.3,1748.7" fill="none" stroke="#000" stroke-width="6" stroke-linejoin="round" stroke-linecap="butt"/>
<path d="M129.0,1128.0 L132.0,1128.2 L135.0,1128.3 L138.0,1128.5 L141.0,1128.6 L144.0,1128.8 L147.0,1128.9 L150.0,1129.1 L153.0,1129.2 L156.0,1129.4 L159.0,1129.5 L162.0,1129.7 L165.0,1129.8 L168.0,1130.0 L171.0,1130.1 L174.0,1130.3 L177.0,1130.4 L180.0,1130.6 L183.0,1130.8 L186.0,1130.9 L189.0,1131.1 L192.0,1131.2 L195.0,1131.4 L198.0,1131.5 L201.0,1131.7 L204.0,1131.8 L207.0,1132.0 L210.0,1132.1 L213.0,1132.3 L216.0,1132.4 L219.0,1132.5 L222.0,1132.7 L225.0,1132.8 L228.0,1133.0 L231.0,1133.1 L234.0,1133.3 L237.0,1133.4 L240.0,1133.6 L243.0,1133.7 L246.0,1133.9 L249.0,1134.0 L252.0,1134.2 L255.0,1134.3 L258.0,1134.5 L261.0,1134.6 L264.0,1134.8 L267.0,1134.9 L270.0,1135.1 L273.0,1135.2 L276.0,1135.3 L279.0,1135.5 L282.0,1135.6 L285.0,1135.8 L288.0,1135.9 L291.0,1136.1 L294.0,1136.2 L297.0,1136.4 L300.0,1136.5 L303.0,1136.7 L306.0,1136.8 L309.0,1136.9 L312.0,1137.1 L315.0,1137.2 L318.0,1137.4 L321.0,1137.5 L324.0,1137.7 L327.0,1137.8 L330.0,1138.0 L333.0,1138.1 L336.0,1138.2 L339.0,1138.4 L342.0,1138.5 L345.0,1138.7 L348.0,1138.8 L351.0,1139.0 L354.0,1139.1 L357.0,1139.2 L360.0,1139.4 L363.0,1139.5 L366.0,1139.7 L369.0,1139.8 L372.0,1139.9 L375.0,1140.1 L378.0,1140.2 L381.0,1140.4 L384.0,1140.5 L387.0,1140.6 L390.0,1140.8 L393.0,1140.9 L396.0,1141.1 L399.0,1141.2 L402.0,1141.4 L405.0,1141.5 L408.0,1141.6 L411.0,1141.8 L414.0,1141.9 L417.0,1142.0 L420.0,1142.2 L423.0,1142.3 L426.0,1142.4 L429.0,1142.6 L432.0,1142.7 L435.0,1142.8 L438.0,1143.0 L441.0,1143.1 L444.0,1143.2 L447.0,1143.4 L450.0,1143.5 L453.0,1143.6 L456.0,1143.7 L459.0,1143.9 L462.0,1144.0 L465.0,1144.1 L468.0,1144.3 L471.0,1144.4 L474.0,1144.5 L477.0,1144.7 L480.0,1144.8 L483.0,1145.0 L486.0,1145.1 L489.0,1145.3 L492.0,1145.4 L495.0,1145.5 L498.0,1145.7 L501.0,1145.9 L504.0,1146.0 L507.0,1146.2 L510.0,1146.3 L513.0,1146.5 L516.0,1146.6 L519.0,1146.8 L522.0,1147.0 L525.0,1147.1 L528.0,1147.3 L531.0,1147.5 L534.0,1147.6 L537.0,1147.8 L540.0,1148.0 L543.0,1148.2 L546.0,1148.3 L549.0,1148.5 L552.0,1148.7 L555.0,1148.9 L558.0,1149.1 L561.0,1149.2 L564.0,1149.4 L567.0,1149.6 L570.0,1149.8 L573.0,1150.0 L576.0,1150.2 L579.0,1150.3 L582.0,1150.5 L585.0,1150.7 L588.0,1150.9 L591.0,1151.1 L594.0,1151.3 L597.0,1151.5 L600.0,1151.7 L603.0,1151.9 L606.0,1152.0 L609.0,1152.2 L612.0,1152.4 L615.0,1152.6 L618.0,1152.8 L621.0,1153.0 L624.0,1153.2 L627.0,1153.4 L630.0,1153.6 L633.0,1153.8 L636.0,1153.9 L639.0,1154.1 L642.0,1154.3 L645.0,1154.5 L648.0,1154.7 L651.0,1154.9 L654.0,1155.0 L657.0,1155.2 L660.0,1155.4 L663.0,1155.5 L666.0,1155.7 L669.0,1155.9 L672.0,1156.0 L675.0,1156.2 L678.0,1156.3 L681.0,1156.5 L684.0,1156.6 L687.0,1156.8 L690.0,1156.9 L693.0,1157.1 L696.0,1157.2 L699.0,1157.4 L702.0,1157.5 L705.0,1157.7 L708.0,1157.9 L711.0,1158.0 L714.0,1158.2 L717.0,1158.4 L720.0,1158.5 L723.0,1158.7 L726.0,1158.9 L729.0,1159.1 L732.0,1159.3 L735.0,1159.5 L738.0,1159.7 L741.0,1159.9 L744.0,1160.1 L747.0,1160.3 L750.0,1160.6 L753.0,1160.8 L756.0,1161.0 L759.0,1161.3 L762.0,1161.6 L765.0,1161.8 L768.0,1162.1 L771.0,1162.4 L774.0,1162.7 L777.0,1163.0 L780.0,1163.3 L783.0,1163.7 L786.0,1164.0 L789.0,1164.4 L792.0,1164.9 L795.0,1165.4 L798.0,1165.9 L801.0,1166.5 L804.0,1167.2 L807.0,1167.8 L810.0,1168.6 L813.0,1169.3 L816.0,1170.1 L819.0,1171.0 L822.0,1171.9 L825.0,1172.8 L828.0,1173.8 L831.0,1174.8 L834.0,1175.9 L837.0,1177.2 L839.8,1178.5 L842.5,1180.0 L845.2,1181.6 L848.0,1183.3 L850.8,1185.1 L853.2,1186.8 L855.8,1188.7 L858.0,1190.8 L860.2,1193.1 L862.2,1195.4 L864.2,1197.7 L866.2,1199.9 L868.5,1202.3 L870.8,1204.4 L873.2,1206.4 L876.0,1208.1 L878.8,1209.8 L881.5,1211.3 L884.2,1212.6 L887.0,1214.0 L889.8,1215.2 L892.5,1216.4 L895.2,1217.6 L898.0,1218.9 L900.8,1220.1 L903.5,1221.4 L906.2,1222.7 L909.0,1224.0 L911.8,1225.3 L914.5,1226.6 L917.2,1227.8 L920.0,1229.1 L922.8,1230.3 L925.5,1231.6 L928.2,1232.8 L931.0,1234.0 L933.8,1235.2 L936.5,1236.4 L939.5,1237.7 L942.5,1239.0 L945.5,1240.3 L948.5,1241.6 L951.5,1242.9 L954.5,1244.2 L957.5,1245.5 L960.5,1246.8 L963.5,1248.1 L966.5,1249.4 L969.5,1250.6 L972.5,1251.9 L975.5,1253.1 L978.5,1254.4 L981.5,1255.5 L984.5,1256.7 L987.5,1257.8 L990.5,1258.8 L993.5,1259.8 L996.5,1260.7 L999.5,1261.7 L1002.5,1262.5 L1005.5,1263.4 L1008.5,1264.3 L1011.5,1265.1 L1014.5,1265.9 L1017.5,1266.7 L1020.5,1267.4 L1023.5,1268.2 L1026.5,1268.9 L1029.5,1269.6 L1032.5,1270.2 L1035.5,1270.8 L1038.5,1271.4 L1041.5,1272.0 L1044.5,1272.6 L1047.5,1273.1 L1050.5,1273.6 L1053.5,1274.1 L1056.5,1274.6 L1059.5,1275.1 L1062.5,1275.6 L1065.5,1276.0 L1068.5,1276.5 L1071.5,1276.9 L1074.5,1277.3 L1077.5,1277.7 L1080.5,1278.1 L1083.5,1278.5 L1086.5,1278.9 L1089.5,1279.2 L1092.5,1279.6 L1095.5,1279.9 L1098.5,1280.2 L1101.5,1280.6 L1104.5,1280.9 L1107.5,1281.2 L1110.5,1281.5 L1113.5,1281.8 L1116.5,1282.1 L1119.5,1282.3 L1122.5,1282.6 L1125.5,1282.9 L1128.5,1283.1 L1131.5,1283.4 L1134.5,1283.6 L1137.5,1283.9 L1140.5,1284.1 L1143.5,1284.4 L1146.5,1284.6 L1149.5,1284.8 L1152.5,1285.1 L1155.5,1285.3 L1158.5,1285.5 L1161.5,1285.7 L1164.5,1286.0 L1167.5,1286.2 L1170.5,1286.4 L1173.5,1286.6 L1176.5,1286.8 L1179.5,1287.0 L1182.5,1287.3 L1185.5,1287.5 L1188.5,1287.7 L1191.5,1287.9 L1194.5,1288.1 L1197.5,1288.3 L1200.5,1288.5 L1203.5,1288.7 L1206.5,1288.9 L1209.5,1289.1 L1212.5,1289.3 L1215.5,1289.5 L1218.5,1289.7 L1221.5,1289.9 L1224.5,1290.1 L1227.5,1290.3 L1230.5,1290.5 L1233.5,1290.7 L1236.5,1290.9 L1239.5,1291.1 L1242.5,1291.3 L1245.5,1291.4 L1248.5,1291.6 L1251.5,1291.8 L1254.5,1292.0 L1257.5,1292.2 L1260.5,1292.3 L1263.5,1292.5 L1266.5,1292.7 L1269.5,1292.9 L1272.5,1293.0 L1275.5,1293.2 L1278.5,1293.4 L1281.5,1293.5 L1284.5,1293.7 L1287.5,1293.8 L1290.5,1294.0 L1293.5,1294.2 L1296.5,1294.3 L1299.5,1294.5 L1302.5,1294.6 L1305.5,1294.8 L1308.5,1294.9 L1311.5,1295.1 L1314.5,1295.2 L1317.5,1295.4 L1320.5,1295.5 L1323.5,1295.7 L1326.5,1295.8 L1329.5,1296.0 L1332.5,1296.2 L1335.5,1296.3 L1338.5,1296.5 L1341.5,1296.6 L1344.5,1296.8 L1347.5,1296.9 L1350.5,1297.1 L1353.5,1297.2 L1356.5,1297.4 L1359.5,1297.5 L1362.5,1297.7 L1365.5,1297.8 L1368.5,1298.0 L1371.5,1298.1 L1374.5,1298.3 L1377.5,1298.4 L1380.5,1298.6 L1383.5,1298.7 L1386.5,1298.9 L1389.5,1299.0 L1392.5,1299.2 L1395.5,1299.3 L1398.5,1299.5 L1401.5,1299.6 L1404.5,1299.7 L1407.5,1299.9 L1410.5,1300.0 L1413.5,1300.2 L1416.5,1300.3 L1419.5,1300.5 L1422.5,1300.6 L1425.5,1300.8 L1428.5,1300.9 L1431.5,1301.1 L1434.5,1301.2 L1437.5,1301.3 L1440.5,1301.5 L1443.5,1301.6 L1446.5,1301.8 L1449.5,1301.9 L1452.5,1302.1 L1455.5,1302.2 L1458.5,1302.3 L1461.5,1302.5 L1464.5,1302.6 L1467.5,1302.8 L1470.5,1302.9 L1473.5,1303.1 L1476.5,1303.2 L1479.5,1303.3 L1482.5,1303.5 L1485.5,1303.6 L1488.5,1303.8 L1491.5,1303.9 L1494.5,1304.0 L1497.5,1304.2 L1500.5,1304.3 L1503.5,1304.4 L1506.5,1304.6 L1509.5,1304.7 L1512.5,1304.9 L1515.5,1305.0 L1518.5,1305.1 L1521.5,1305.3 L1524.5,1305.4 L1527.5,1305.5 L1530.5,1305.7 L1533.5,1305.8 L1536.5,1305.9 L1539.5,1306.1 L1542.5,1306.2 L1545.5,1306.3 L1548.5,1306.5 L1551.5,1306.6 L1554.5,1306.7 L1557.5,1306.9 L1560.5,1307.0 L1563.5,1307.1 L1566.5,1307.2 L1569.5,1307.4 L1572.5,1307.5 L1575.5,1307.6 L1578.5,1307.8 L1581.5,1307.9 L1584.5,1308.0 L1587.5,1308.1 L1590.5,1308.3 L1593.5,1308.4 L1596.5,1308.5 L1599.5,1308.6 L1602.5,1308.8 L1605.5,1308.9 L1608.5,1309.0 L1611.5,1309.1 L1614.5,1309.2 L1617.5,1309.4 L1620.5,1309.5 L1623.5,1309.6 L1626.5,1309.7 L1629.5,1309.8 L1632.5,1310.0 L1635.5,1310.1 L1638.5,1310.2 L1641.5,1310.3 L1644.5,1310.4 L1647.5,1310.5 L1650.5,1310.7 L1653.5,1310.8 L1656.5,1310.9 L1659.5,1311.0 L1662.5,1311.1 L1665.5,1311.2 L1668.5,1311.3 L1671.5,1311.5 L1674.5,1311.6 L1677.5,1311.7 L1680.5,1311.8 L1683.5,1311.9 L1686.5,1312.0 L1689.5,1312.1 L1692.5,1312.2 L1695.5,1312.3 L1698.5,1312.4 L1701.5,1312.5 L1704.5,1312.7 L1707.5,1312.8 L1710.5,1312.9 L1713.5,1313.0 L1716.5,1313.1 L1719.5,1313.2 L1722.5,1313.3 L1725.5,1313.4 L1728.5,1313.5 L1731.5,1313.6 L1734.5,1313.7 L1737.5,1313.8 L1740.5,1313.9 L1743.5,1314.0 L1746.5,1314.1 L1749.5,1314.2 L1752.5,1314.3 L1755.5,1314.4 L1758.5,1314.4 L1761.5,1314.5 L1764.5,1314.6 L1767.5,1314.7 L1770.5,1314.8 L1773.5,1314.9 L1776.5,1315.0 L1779.5,1315.1 L1782.5,1315.2 L1785.5,1315.3 L1788.5,1315.4 L1791.5,1315.4 L1794.5,1315.5 L1797.5,1315.6 L1800.5,1315.7 L1803.5,1315.8 L1806.5,1315.9 L1809.5,1315.9 L1812.5,1316.0 L1815.5,1316.1 L1818.5,1316.2 L1821.5,1316.3 L1824.5,1316.4 L1827.5,1316.4 L1830.5,1316.5 L1833.5,1316.6 L1836.5,1316.7 L1839.5,1316.7 L1842.5,1316.8 L1845.5,1316.9 L1848.5,1317.0 L1851.5,1317.0 L1854.5,1317.1 L1857.5,1317.2 L1860.5,1317.2 L1863.5,1317.3 L1866.5,1317.4 L1869.5,1317.4 L1872.5,1317.5 L1875.5,1317.6 L1878.5,1317.6 L1881.0,1317.7" fill="none" stroke="#2fa552" stroke-width="6" stroke-linejoin="round" stroke-linecap="butt"/>
<rect x="42" y="1974.0" width="1846.00" height="2.00" fill="#9a9a9a"/>
<rect x="42" y="2824.5" width="1846.00" height="2.00" fill="#9a9a9a"/>
<rect x="1881" y="1967" width="2.00" height="865.00" fill="#9a9a9a"/>
<rect x="42" y="1967" width="1846.00" height="7.00" fill="#000"/>
<rect x="42" y="2826.5" width="1846.00" height="5.50" fill="#000"/>
<rect x="47.0" y="1976.0" width="2.00" height="332.00" fill="#9a9a9a"/>
<rect x="42" y="1967" width="5.00" height="341.00" fill="#000"/>
<rect x="47.0" y="2444" width="2.00" height="380.50" fill="#9a9a9a"/>
<rect x="42" y="2444" width="5.00" height="388.00" fill="#000"/>
<rect x="1883.0" y="1967" width="5.00" height="865.00" fill="#000"/>
<line x1="133.5" y1="2016.0" x2="133.5" y2="2397.0" stroke="#e79ae6" stroke-width="1.5"/>
<line x1="132.5" y1="2397.0" x2="132.5" y2="2771.0" stroke="#e79ae6" stroke-width="1.8"/>
<line x1="119.8" y1="2078.5" x2="131.8" y2="2078.5" stroke="#e79ae6" stroke-width="2.5"/>
<line x1="123.8" y1="2145.1" x2="131.8" y2="2145.1" stroke="#e79ae6" stroke-width="2.5"/>
<line x1="119.8" y1="2211.7" x2="131.8" y2="2211.7" stroke="#e79ae6" stroke-width="2.5"/>
<line x1="123.8" y1="2278.3" x2="131.8" y2="2278.3" stroke="#e79ae6" stroke-width="2.5"/>
<line x1="119.8" y1="2344.9" x2="131.8" y2="2344.9" stroke="#e79ae6" stroke-width="2.5"/>
<line x1="123.8" y1="2411.5" x2="131.8" y2="2411.5" stroke="#e79ae6" stroke-width="2.5"/>
<line x1="119.8" y1="2478.1" x2="131.8" y2="2478.1" stroke="#e79ae6" stroke-width="2.5"/>
<line x1="123.8" y1="2544.7" x2="131.8" y2="2544.7" stroke="#e79ae6" stroke-width="2.5"/>
<line x1="119.8" y1="2611.3" x2="131.8" y2="2611.3" stroke="#e79ae6" stroke-width="2.5"/>
<line x1="123.8" y1="2677.9" x2="131.8" y2="2677.9" stroke="#e79ae6" stroke-width="2.5"/>
<line x1="119.8" y1="2744.5" x2="131.8" y2="2744.5" stroke="#e79ae6" stroke-width="2.5"/>
<line x1="135.0" y1="2764.2" x2="1862.7" y2="2764.2" stroke="#8a8a8a" stroke-width="3"/>
<line x1="144.1" y1="2765.2" x2="144.1" y2="2773.2" stroke="#5a5a5a" stroke-width="2.5"/>
<line x1="166.5" y1="2765.2" x2="166.5" y2="2773.2" stroke="#5a5a5a" stroke-width="2.5"/>
<line x1="188.8" y1="2765.2" x2="188.8" y2="2778.2" stroke="#5a5a5a" stroke-width="2.5"/>
<line x1="211.1" y1="2765.2" x2="211.1" y2="2773.2" stroke="#5a5a5a" stroke-width="2.5"/>
<line x1="233.5" y1="2765.2" x2="233.5" y2="2773.2" stroke="#5a5a5a" stroke-width="2.5"/>
<line x1="255.8" y1="2765.2" x2="255.8" y2="2773.2" stroke="#5a5a5a" stroke-width="2.5"/>
<line x1="278.1" y1="2765.2" x2="278.1" y2="2773.2" stroke="#5a5a5a" stroke-width="2.5"/>
<line x1="300.5" y1="2765.2" x2="300.5" y2="2778.2" stroke="#5a5a5a" stroke-width="2.5"/>
<line x1="322.8" y1="2765.2" x2="322.8" y2="2773.2" stroke="#5a5a5a" stroke-width="2.5"/>
<line x1="345.1" y1="2765.2" x2="345.1" y2="2773.2" stroke="#5a5a5a" stroke-width="2.5"/>
<line x1="367.5" y1="2765.2" x2="367.5" y2="2773.2" stroke="#5a5a5a" stroke-width="2.5"/>
<line x1="389.8" y1="2765.2" x2="389.8" y2="2773.2" stroke="#5a5a5a" stroke-width="2.5"/>
<line x1="412.1" y1="2765.2" x2="412.1" y2="2778.2" stroke="#5a5a5a" stroke-width="2.5"/>
<line x1="434.5" y1="2765.2" x2="434.5" y2="2773.2" stroke="#5a5a5a" stroke-width="2.5"/>
<line x1="456.8" y1="2765.2" x2="456.8" y2="2773.2" stroke="#5a5a5a" stroke-width="2.5"/>
<line x1="479.1" y1="2765.2" x2="479.1" y2="2773.2" stroke="#5a5a5a" stroke-width="2.5"/>
<line x1="501.5" y1="2765.2" x2="501.5" y2="2773.2" stroke="#5a5a5a" stroke-width="2.5"/>
<line x1="523.8" y1="2765.2" x2="523.8" y2="2778.2" stroke="#5a5a5a" stroke-width="2.5"/>
<line x1="546.1" y1="2765.2" x2="546.1" y2="2773.2" stroke="#5a5a5a" stroke-width="2.5"/>
<line x1="568.5" y1="2765.2" x2="568.5" y2="2773.2" stroke="#5a5a5a" stroke-width="2.5"/>
<line x1="590.8" y1="2765.2" x2="590.8" y2="2773.2" stroke="#5a5a5a" stroke-width="2.5"/>
<line x1="613.1" y1="2765.2" x2="613.1" y2="2773.2" stroke="#5a5a5a" stroke-width="2.5"/>
<line x1="635.5" y1="2765.2" x2="635.5" y2="2778.2" stroke="#5a5a5a" stroke-width="2.5"/>
<line x1="657.8" y1="2765.2" x2="657.8" y2="2773.2" stroke="#5a5a5a" stroke-width="2.5"/>
<line x1="680.1" y1="2765.2" x2="680.1" y2="2773.2" stroke="#5a5a5a" stroke-width="2.5"/>
<line x1="702.5" y1="2765.2" x2="702.5" y2="2773.2" stroke="#5a5a5a" stroke-width="2.5"/>
<line x1="724.8" y1="2765.2" x2="724.8" y2="2773.2" stroke="#5a5a5a" stroke-width="2.5"/>
<line x1="747.1" y1="2765.2" x2="747.1" y2="2778.2" stroke="#5a5a5a" stroke-width="2.5"/>
<line x1="769.5" y1="2765.2" x2="769.5" y2="2773.2" stroke="#5a5a5a" stroke-width="2.5"/>
<line x1="791.8" y1="2765.2" x2="791.8" y2="2773.2" stroke="#5a5a5a" stroke-width="2.5"/>
<line x1="814.1" y1="2765.2" x2="814.1" y2="2773.2" stroke="#5a5a5a" stroke-width="2.5"/>
<line x1="836.5" y1="2765.2" x2="836.5" y2="2773.2" stroke="#5a5a5a" stroke-width="2.5"/>
<line x1="858.8" y1="2765.2" x2="858.8" y2="2778.2" stroke="#5a5a5a" stroke-width="2.5"/>
<line x1="881.1" y1="2765.2" x2="881.1" y2="2773.2" stroke="#5a5a5a" stroke-width="2.5"/>
<line x1="903.5" y1="2765.2" x2="903.5" y2="2773.2" stroke="#5a5a5a" stroke-width="2.5"/>
<line x1="925.8" y1="2765.2" x2="925.8" y2="2773.2" stroke="#5a5a5a" stroke-width="2.5"/>
<line x1="948.1" y1="2765.2" x2="948.1" y2="2773.2" stroke="#5a5a5a" stroke-width="2.5"/>
<line x1="970.5" y1="2765.2" x2="970.5" y2="2778.2" stroke="#5a5a5a" stroke-width="2.5"/>
<line x1="992.8" y1="2765.2" x2="992.8" y2="2773.2" stroke="#5a5a5a" stroke-width="2.5"/>
<line x1="1015.1" y1="2765.2" x2="1015.1" y2="2773.2" stroke="#5a5a5a" stroke-width="2.5"/>
<line x1="1037.5" y1="2765.2" x2="1037.5" y2="2773.2" stroke="#5a5a5a" stroke-width="2.5"/>
<line x1="1059.8" y1="2765.2" x2="1059.8" y2="2773.2" stroke="#5a5a5a" stroke-width="2.5"/>
<line x1="1082.1" y1="2765.2" x2="1082.1" y2="2778.2" stroke="#5a5a5a" stroke-width="2.5"/>
<line x1="1104.5" y1="2765.2" x2="1104.5" y2="2773.2" stroke="#5a5a5a" stroke-width="2.5"/>
<line x1="1126.8" y1="2765.2" x2="1126.8" y2="2773.2" stroke="#5a5a5a" stroke-width="2.5"/>
<line x1="1149.1" y1="2765.2" x2="1149.1" y2="2773.2" stroke="#5a5a5a" stroke-width="2.5"/>
<line x1="1171.5" y1="2765.2" x2="1171.5" y2="2773.2" stroke="#5a5a5a" stroke-width="2.5"/>
<line x1="1193.8" y1="2765.2" x2="1193.8" y2="2778.2" stroke="#5a5a5a" stroke-width="2.5"/>
<line x1="1216.1" y1="2765.2" x2="1216.1" y2="2773.2" stroke="#5a5a5a" stroke-width="2.5"/>
<line x1="1238.5" y1="2765.2" x2="1238.5" y2="2773.2" stroke="#5a5a5a" stroke-width="2.5"/>
<line x1="1260.8" y1="2765.2" x2="1260.8" y2="2773.2" stroke="#5a5a5a" stroke-width="2.5"/>
<line x1="1283.1" y1="2765.2" x2="1283.1" y2="2773.2" stroke="#5a5a5a" stroke-width="2.5"/>
<line x1="1305.4" y1="2765.2" x2="1305.4" y2="2778.2" stroke="#5a5a5a" stroke-width="2.5"/>
<line x1="1327.8" y1="2765.2" x2="1327.8" y2="2773.2" stroke="#5a5a5a" stroke-width="2.5"/>
<line x1="1350.1" y1="2765.2" x2="1350.1" y2="2773.2" stroke="#5a5a5a" stroke-width="2.5"/>
<line x1="1372.4" y1="2765.2" x2="1372.4" y2="2773.2" stroke="#5a5a5a" stroke-width="2.5"/>
<line x1="1394.8" y1="2765.2" x2="1394.8" y2="2773.2" stroke="#5a5a5a" stroke-width="2.5"/>
<line x1="1417.1" y1="2765.2" x2="1417.1" y2="2778.2" stroke="#5a5a5a" stroke-width="2.5"/>
<line x1="1439.4" y1="2765.2" x2="1439.4" y2="2773.2" stroke="#5a5a5a" stroke-width="2.5"/>
<line x1="1461.8" y1="2765.2" x2="1461.8" y2="2773.2" stroke="#5a5a5a" stroke-width="2.5"/>
<line x1="1484.1" y1="2765.2" x2="1484.1" y2="2773.2" stroke="#5a5a5a" stroke-width="2.5"/>
<line x1="1506.4" y1="2765.2" x2="1506.4" y2="2773.2" stroke="#5a5a5a" stroke-width="2.5"/>
<line x1="1528.8" y1="2765.2" x2="1528.8" y2="2778.2" stroke="#5a5a5a" stroke-width="2.5"/>
<line x1="1551.1" y1="2765.2" x2="1551.1" y2="2773.2" stroke="#5a5a5a" stroke-width="2.5"/>
<line x1="1573.4" y1="2765.2" x2="1573.4" y2="2773.2" stroke="#5a5a5a" stroke-width="2.5"/>
<line x1="1595.8" y1="2765.2" x2="1595.8" y2="2773.2" stroke="#5a5a5a" stroke-width="2.5"/>
<line x1="1618.1" y1="2765.2" x2="1618.1" y2="2773.2" stroke="#5a5a5a" stroke-width="2.5"/>
<line x1="1640.4" y1="2765.2" x2="1640.4" y2="2778.2" stroke="#5a5a5a" stroke-width="2.5"/>
<line x1="1662.8" y1="2765.2" x2="1662.8" y2="2773.2" stroke="#5a5a5a" stroke-width="2.5"/>
<line x1="1685.1" y1="2765.2" x2="1685.1" y2="2773.2" stroke="#5a5a5a" stroke-width="2.5"/>
<line x1="1707.4" y1="2765.2" x2="1707.4" y2="2773.2" stroke="#5a5a5a" stroke-width="2.5"/>
<line x1="1729.8" y1="2765.2" x2="1729.8" y2="2773.2" stroke="#5a5a5a" stroke-width="2.5"/>
<line x1="1752.1" y1="2765.2" x2="1752.1" y2="2778.2" stroke="#5a5a5a" stroke-width="2.5"/>
<line x1="1774.4" y1="2765.2" x2="1774.4" y2="2773.2" stroke="#5a5a5a" stroke-width="2.5"/>
<line x1="1796.8" y1="2765.2" x2="1796.8" y2="2773.2" stroke="#5a5a5a" stroke-width="2.5"/>
<line x1="1819.1" y1="2765.2" x2="1819.1" y2="2773.2" stroke="#5a5a5a" stroke-width="2.5"/>
<line x1="1841.4" y1="2765.2" x2="1841.4" y2="2773.2" stroke="#5a5a5a" stroke-width="2.5"/>
<line x1="1862.7" y1="2762.2" x2="1862.7" y2="2777.2" stroke="#8a8a8a" stroke-width="2.5"/>
<rect x="134.5" y="2016" width="6.00" height="381.00" fill="#000"/>
<rect x="135.3" y="2397" width="6.20" height="374.00" fill="#000"/>
<text transform="translate(67.97,2088.65) scale(0.9930,1)" font-family="'Liberation Serif',serif" font-weight="bold" font-size="35.57" fill="#1a1a1a" >100</text>
<text transform="translate(79.52,2226.65) scale(1.0021,1)" font-family="'Liberation Serif',serif" font-weight="bold" font-size="35.57" fill="#1a1a1a" >80</text>
<text transform="translate(81.18,2353.65) scale(1.0062,1)" font-family="'Liberation Serif',serif" font-weight="bold" font-size="35.57" fill="#1a1a1a" >60</text>
<text transform="translate(81.92,2494.15) scale(0.9844,1)" font-family="'Liberation Serif',serif" font-weight="bold" font-size="35.57" fill="#1a1a1a" >40</text>
<text transform="translate(76.48,2627.65) scale(1.0147,1)" font-family="'Liberation Serif',serif" font-weight="bold" font-size="35.57" fill="#1a1a1a" >20</text>
<text transform="translate(98.66,2756.15) scale(0.9885,1)" font-family="'Liberation Serif',serif" font-weight="bold" font-size="35.57" fill="#1a1a1a" >0</text>
<text transform="translate(165.38,2813.32) scale(0.9073,1)" font-family="'Liberation Serif',serif" font-weight="bold" font-size="38.97" fill="#111" >50</text>
<text transform="translate(373.53,2813.32) scale(0.9210,1)" font-family="'Liberation Serif',serif" font-weight="bold" font-size="38.97" fill="#111" >150</text>
<text transform="translate(606.47,2813.32) scale(0.9342,1)" font-family="'Liberation Serif',serif" font-weight="bold" font-size="38.97" fill="#111" >250</text>
<text transform="translate(828.29,2813.32) scale(0.8935,1)" font-family="'Liberation Serif',serif" font-weight="bold" font-size="38.97" fill="#111" >350</text>
<text transform="translate(1055.43,2813.32) scale(0.8770,1)" font-family="'Liberation Serif',serif" font-weight="bold" font-size="38.97" fill="#111" >450</text>
<text transform="translate(1277.50,2814.82) scale(0.8950,1)" font-family="'Liberation Serif',serif" font-weight="bold" font-size="38.97" fill="#111" >550</text>
<text transform="translate(1507.78,2814.82) scale(0.9165,1)" font-family="'Liberation Serif',serif" font-weight="bold" font-size="38.97" fill="#111" >650</text>
<text transform="translate(1722.98,2811.82) scale(0.9059,1)" font-family="'Liberation Serif',serif" font-weight="bold" font-size="38.97" fill="#111" >750</text>
<text transform="translate(1833.46,2811.71) scale(0.8721,1)" font-family="'Liberation Sans',Arial,sans-serif" font-weight="normal" font-size="29.66" fill="#444" stroke="#444" stroke-width="0.5">°C</text>
<rect x="508" y="2786" width="12.00" height="2.00" fill="#b0b0b0"/>
<text transform="translate(93.08,2042.82) scale(0.8555,1)" font-family="'Liberation Sans',Arial,sans-serif" font-weight="normal" font-size="30.01" fill="#ee77ee" >%</text>
<text transform="translate(1443.33,2065.45) scale(1.0140,1)" font-family="'Liberation Serif',serif" font-weight="bold" font-size="48.64" fill="#111" >(c)</text>
<text transform="translate(78.20,2442.18) rotate(-90) scale(1.0388,1)" font-family="'Liberation Serif',serif" font-weight="bold" font-size="46.16" fill="#111">Wt.%</text>
<text transform="translate(855.52,2878.21) scale(0.8854,1)" font-family="'Liberation Serif',serif" font-weight="bold" font-size="49.30" fill="#111" >Temperature (</text>
<text transform="translate(1122.47,2861.99) scale(1.3242,1)" font-family="'Liberation Serif',serif" font-weight="bold" font-size="32.16" fill="#111" >0</text>
<text transform="translate(1141.83,2878.51) scale(0.9105,1)" font-family="'Liberation Serif',serif" font-weight="bold" font-size="47.86" fill="#111" >C)</text>
<text transform="translate(40.71,2859.72) scale(0.9675,1)" font-family="'Liberation Sans',Arial,sans-serif" font-weight="normal" font-size="28.87" fill="#333" stroke="#333" stroke-width="0.9">Lab:</text>
<text transform="translate(104.54,2860.00) scale(0.8531,1)" font-family="'Liberation Sans',Arial,sans-serif" font-weight="normal" font-size="30.81" fill="#222" stroke="#222" stroke-width="1.1">METTLER</text>
<text transform="translate(1671.04,2861.00) scale(0.8456,1)" font-family="'Liberation Sans',Arial,sans-serif" font-weight="bold" font-size="31.07" fill="#333" >S</text>
<text transform="translate(1689.17,2861.30) scale(0.8161,1)" font-family="'Liberation Sans',Arial,sans-serif" font-weight="bold" font-size="31.98" fill="#e0262c" >TA</text>
<text transform="translate(1722.71,2861.30) scale(0.7308,1)" font-family="'Liberation Sans',Arial,sans-serif" font-weight="bold" font-size="31.98" fill="#333" >R</text>
<text transform="translate(1740.77,2854.74) scale(0.8169,1)" font-family="'Liberation Sans',Arial,sans-serif" font-weight="bold" font-size="22.45" fill="#e0262c" >*</text>
<text transform="translate(1760.09,2861.00) scale(0.9079,1)" font-family="'Liberation Sans',Arial,sans-serif" font-weight="bold" font-size="31.07" fill="#333" >SW</text>
<text transform="translate(1814.29,2861.00) scale(0.8788,1)" font-family="'Liberation Sans',Arial,sans-serif" font-weight="bold" font-size="31.07" fill="#333" >10.00</text>
<line x1="1868.3" y1="2694.0" x2="1868.3" y2="2712.0" stroke="#7fd0d8" stroke-width="2"/>
<path d="M140.0,2078.0 L143.0,2078.0 L146.0,2078.0 L149.0,2078.0 L152.0,2078.0 L155.0,2078.1 L158.0,2078.1 L161.0,2078.1 L164.0,2078.1 L167.0,2078.1 L170.0,2078.2 L173.0,2078.2 L176.0,2078.2 L179.0,2078.2 L182.0,2078.3 L185.0,2078.3 L188.0,2078.3 L191.0,2078.4 L194.0,2078.4 L197.0,2078.4 L200.0,2078.5 L203.0,2078.5 L206.0,2078.6 L209.0,2078.6 L212.0,2078.7 L215.0,2078.7 L218.0,2078.8 L221.0,2078.8 L224.0,2078.9 L227.0,2078.9 L230.0,2079.0 L233.0,2079.0 L236.0,2079.1 L239.0,2079.2 L242.0,2079.2 L245.0,2079.3 L248.0,2079.4 L251.0,2079.4 L254.0,2079.5 L257.0,2079.6 L260.0,2079.6 L263.0,2079.7 L266.0,2079.8 L269.0,2079.9 L272.0,2079.9 L275.0,2080.0 L278.0,2080.1 L281.0,2080.2 L284.0,2080.3 L287.0,2080.4 L290.0,2080.4 L293.0,2080.5 L296.0,2080.6 L299.0,2080.7 L302.0,2080.8 L305.0,2080.9 L308.0,2081.0 L311.0,2081.1 L314.0,2081.2 L317.0,2081.3 L320.0,2081.4 L323.0,2081.5 L326.0,2081.6 L329.0,2081.7 L332.0,2081.8 L335.0,2081.9 L337.9,2082.0 L340.9,2082.1 L343.9,2082.2 L346.9,2082.3 L349.9,2082.5 L352.9,2082.6 L355.9,2082.7 L358.9,2082.8 L361.9,2082.9 L364.9,2083.0 L367.9,2083.1 L370.9,2083.3 L373.9,2083.4 L376.9,2083.5 L379.9,2083.6 L382.9,2083.8 L385.9,2083.9 L388.9,2084.0 L391.9,2084.1 L394.9,2084.3 L397.9,2084.4 L400.9,2084.5 L403.9,2084.7 L406.9,2084.8 L409.9,2084.9 L412.9,2085.1 L415.9,2085.2 L418.9,2085.3 L421.9,2085.5 L424.9,2085.6 L427.9,2085.8 L430.9,2085.9 L433.9,2086.0 L436.9,2086.2 L439.9,2086.3 L442.9,2086.5 L445.9,2086.6 L448.8,2086.8 L451.8,2086.9 L454.8,2087.0 L457.8,2087.2 L460.8,2087.3 L463.8,2087.5 L466.8,2087.6 L469.8,2087.8 L472.8,2087.9 L475.8,2088.1 L478.8,2088.3 L481.8,2088.4 L484.8,2088.6 L487.8,2088.7 L490.8,2088.9 L493.8,2089.0 L496.8,2089.2 L499.8,2089.3 L502.8,2089.5 L505.8,2089.7 L508.8,2089.8 L511.8,2090.0 L514.8,2090.2 L517.8,2090.3 L520.8,2090.5 L523.7,2090.6 L526.7,2090.8 L529.7,2091.0 L532.7,2091.1 L535.7,2091.3 L538.7,2091.5 L541.7,2091.6 L544.7,2091.8 L547.7,2092.0 L550.7,2092.1 L553.7,2092.3 L556.7,2092.5 L559.7,2092.7 L562.7,2092.8 L565.7,2093.0 L568.7,2093.2 L571.7,2093.3 L574.7,2093.5 L577.7,2093.7 L580.7,2093.9 L583.7,2094.0 L586.6,2094.2 L589.6,2094.4 L592.6,2094.6 L595.6,2094.7 L598.6,2094.9 L601.6,2095.1 L604.6,2095.3 L607.6,2095.4 L610.6,2095.6 L613.6,2095.8 L616.6,2096.0 L619.6,2096.1 L622.6,2096.3 L625.6,2096.5 L628.6,2096.7 L631.6,2096.9 L634.6,2097.0 L637.6,2097.2 L640.6,2097.4 L643.5,2097.6 L646.5,2097.8 L649.5,2097.9 L652.5,2098.1 L655.5,2098.3 L658.5,2098.5 L661.5,2098.7 L664.5,2098.8 L667.5,2099.0 L670.5,2099.2 L673.5,2099.4 L676.5,2099.6 L679.5,2099.8 L682.5,2099.9 L685.5,2100.1 L688.5,2100.3 L691.5,2100.5 L694.5,2100.7 L697.4,2100.8 L700.4,2101.0 L703.4,2101.2 L706.4,2101.4 L709.4,2101.6 L712.4,2101.8 L715.4,2101.9 L718.4,2102.1 L721.4,2102.3 L724.4,2102.5 L727.4,2102.7 L730.4,2102.9 L733.4,2103.1 L736.4,2103.3 L739.4,2103.5 L742.4,2103.7 L745.3,2104.0 L748.3,2104.2 L751.3,2104.4 L754.3,2104.7 L757.3,2104.9 L760.3,2105.2 L763.3,2105.5 L766.3,2105.7 L769.3,2106.0 L772.2,2106.3 L775.2,2106.6 L778.2,2107.0 L781.2,2107.3 L784.2,2107.6 L787.1,2108.0 L790.1,2108.4 L793.1,2108.8 L796.1,2109.2 L799.0,2109.6 L802.0,2110.0 L805.0,2110.6 L807.9,2111.2 L810.8,2111.8 L813.7,2112.6 L816.6,2113.4 L819.5,2114.2 L822.3,2115.1 L825.2,2116.1 L828.0,2117.1 L830.8,2118.2 L833.6,2119.3 L836.4,2120.4 L839.2,2121.5 L841.9,2122.7 L844.7,2123.9 L847.4,2125.2 L850.1,2126.4 L852.9,2127.7 L855.6,2129.0 L858.3,2130.2 L861.0,2131.5 L863.7,2132.9 L866.4,2134.2 L869.1,2135.5 L871.8,2136.8 L874.5,2138.1 L877.2,2139.4 L879.9,2140.7 L882.6,2142.0 L885.3,2143.3 L888.0,2144.6 L890.7,2145.8 L893.5,2147.1 L896.2,2148.3 L898.9,2149.5 L901.7,2150.7 L904.4,2151.9 L907.2,2153.2 L909.9,2154.4 L912.7,2155.6 L915.4,2156.8 L918.1,2158.0 L920.9,2159.3 L923.6,2160.5 L926.3,2161.7 L929.1,2163.0 L931.8,2164.2 L934.5,2165.5 L937.2,2166.8 L939.9,2168.0 L942.6,2169.3 L945.3,2170.7 L948.0,2172.0 L950.7,2173.3 L953.4,2174.7 L956.1,2176.0 L958.7,2177.4 L961.4,2178.8 L964.0,2180.2 L966.7,2181.6 L969.3,2183.1 L971.9,2184.6 L974.5,2186.0 L977.1,2187.5 L979.7,2189.1 L982.3,2190.6 L984.8,2192.2 L987.4,2193.8 L989.9,2195.4 L992.4,2197.0 L995.0,2198.6 L997.4,2200.3 L999.9,2202.0 L1002.4,2203.8 L1004.8,2205.5 L1007.2,2207.3 L1009.6,2209.1 L1011.9,2211.0 L1014.2,2212.9 L1016.5,2214.8 L1018.8,2216.8 L1021.0,2218.8 L1023.2,2220.8 L1025.4,2222.9 L1027.6,2225.0 L1029.7,2227.2 L1031.7,2229.3 L1033.6,2231.6 L1035.5,2234.0 L1037.3,2236.4 L1039.1,2238.8 L1040.8,2241.2 L1042.5,2243.7 L1044.2,2246.2 L1045.9,2248.7 L1047.6,2251.2 L1049.3,2253.6 L1051.0,2256.1 L1052.7,2258.5 L1054.4,2261.0 L1056.2,2263.4 L1057.9,2265.9 L1059.6,2268.3 L1061.3,2270.8 L1063.0,2273.3 L1064.7,2275.8 L1066.4,2278.3 L1068.0,2280.8 L1069.6,2283.3 L1071.1,2285.9 L1072.7,2288.5 L1074.2,2291.1 L1075.6,2293.7 L1077.1,2296.3 L1078.5,2299.0 L1079.9,2301.6 L1081.2,2304.3 L1082.6,2307.0 L1083.9,2309.7 L1085.2,2312.4 L1086.5,2315.1 L1087.8,2317.8 L1089.0,2320.5 L1090.3,2323.3 L1091.5,2326.0 L1092.7,2328.8 L1093.8,2331.5 L1095.0,2334.3 L1096.1,2337.1 L1097.3,2339.9 L1098.4,2342.6 L1099.5,2345.4 L1100.5,2348.2 L1101.6,2351.0 L1102.7,2353.9 L1103.7,2356.7 L1104.7,2359.5 L1105.7,2362.3 L1106.7,2365.2 L1107.6,2368.0 L1108.5,2370.9 L1109.5,2373.7 L1110.4,2376.6 L1111.2,2379.4 L1112.1,2382.3 L1113.0,2385.2 L1113.8,2388.1 L1114.6,2391.0 L1115.4,2393.9 L1116.2,2396.7 L1117.0,2399.7 L1117.7,2402.6 L1118.4,2405.5 L1119.0,2408.4 L1119.7,2411.3 L1120.3,2414.3 L1120.9,2417.2 L1121.5,2420.1 L1122.1,2423.1 L1122.7,2426.0 L1123.3,2429.0 L1123.9,2431.9 L1124.5,2434.8 L1125.1,2437.8 L1125.7,2440.7 L1126.3,2443.7 L1126.8,2446.6 L1127.4,2449.6 L1128.1,2452.5 L1128.7,2455.4 L1129.3,2458.4 L1130.0,2461.3 L1130.6,2464.2 L1131.3,2467.1 L1132.0,2470.1 L1132.7,2473.0 L1133.4,2475.9 L1134.1,2478.8 L1134.8,2481.7 L1135.5,2484.6 L1136.3,2487.5 L1137.0,2490.5 L1137.7,2493.4 L1138.5,2496.3 L1139.2,2499.2 L1139.9,2502.1 L1140.6,2505.0 L1141.3,2507.9 L1142.0,2510.8 L1142.7,2513.8 L1143.3,2516.7 L1144.0,2519.6 L1144.6,2522.6 L1145.3,2525.5 L1145.9,2528.4 L1146.4,2531.4 L1147.0,2534.3 L1147.6,2537.3 L1148.1,2540.2 L1148.7,2543.2 L1149.2,2546.1 L1149.8,2549.1 L1150.3,2552.0 L1150.9,2555.0 L1151.4,2557.9 L1152.0,2560.9 L1152.6,2563.8 L1153.2,2566.7 L1153.8,2569.7 L1154.4,2572.6 L1155.0,2575.5 L1155.7,2578.5 L1156.5,2581.4 L1157.2,2584.3 L1158.0,2587.2 L1158.8,2590.1 L1159.6,2593.0 L1160.4,2595.8 L1161.3,2598.7 L1162.2,2601.6 L1163.1,2604.4 L1164.0,2607.3 L1165.0,2610.1 L1166.0,2612.9 L1167.1,2615.8 L1168.1,2618.5 L1169.3,2621.3 L1170.4,2624.1 L1171.5,2626.9 L1172.7,2629.6 L1173.9,2632.4 L1175.2,2635.1 L1176.5,2637.8 L1177.9,2640.4 L1179.5,2643.0 L1181.3,2645.4 L1183.4,2647.5 L1185.6,2649.5 L1187.9,2651.5 L1190.3,2653.3 L1192.7,2655.0 L1195.3,2656.6 L1197.8,2658.1 L1200.5,2659.6 L1203.2,2660.9 L1205.9,2662.1 L1208.7,2663.2 L1211.5,2664.2 L1214.4,2665.1 L1217.3,2666.0 L1220.1,2666.8 L1223.0,2667.6 L1225.9,2668.4 L1228.9,2669.1 L1231.8,2669.7 L1234.7,2670.4 L1237.7,2671.0 L1240.6,2671.5 L1243.6,2672.0 L1246.5,2672.6 L1249.5,2673.0 L1252.4,2673.5 L1255.4,2673.9 L1258.4,2674.3 L1261.4,2674.7 L1264.3,2675.0 L1267.3,2675.4 L1270.3,2675.7 L1273.3,2676.0 L1276.3,2676.3 L1279.3,2676.7 L1282.2,2677.0 L1285.2,2677.2 L1288.2,2677.5 L1291.2,2677.8 L1294.2,2678.1 L1297.2,2678.3 L1300.2,2678.6 L1303.2,2678.8 L1306.1,2679.0 L1309.1,2679.3 L1312.1,2679.5 L1315.1,2679.7 L1318.1,2679.9 L1321.1,2680.1 L1324.1,2680.3 L1327.1,2680.5 L1330.1,2680.7 L1333.1,2680.9 L1336.1,2681.1 L1339.1,2681.3 L1342.1,2681.4 L1345.1,2681.6 L1348.1,2681.8 L1351.1,2682.0 L1354.0,2682.1 L1357.0,2682.3 L1360.0,2682.5 L1363.0,2682.6 L1366.0,2682.8 L1369.0,2683.0 L1372.0,2683.1 L1375.0,2683.3 L1378.0,2683.4 L1381.0,2683.6 L1384.0,2683.8 L1387.0,2683.9 L1390.0,2684.1 L1393.0,2684.2 L1396.0,2684.4 L1399.0,2684.5 L1402.0,2684.7 L1405.0,2684.8 L1408.0,2684.9 L1411.0,2685.1 L1414.0,2685.2 L1417.0,2685.4 L1420.0,2685.5 L1423.0,2685.6 L1426.0,2685.8 L1429.0,2685.9 L1431.9,2686.1 L1434.9,2686.2 L1437.9,2686.3 L1440.9,2686.4 L1443.9,2686.6 L1446.9,2686.7 L1449.9,2686.8 L1452.9,2687.0 L1455.9,2687.1 L1458.9,2687.2 L1461.9,2687.3 L1464.9,2687.4 L1467.9,2687.6 L1470.9,2687.7 L1473.9,2687.8 L1476.9,2687.9 L1479.9,2688.0 L1482.9,2688.2 L1485.9,2688.3 L1488.9,2688.4 L1491.9,2688.5 L1494.9,2688.6 L1497.9,2688.7 L1500.9,2688.8 L1503.9,2689.0 L1506.9,2689.1 L1509.9,2689.2 L1512.9,2689.3 L1515.9,2689.4 L1518.9,2689.5 L1521.9,2689.6 L1524.9,2689.7 L1527.9,2689.8 L1530.9,2689.9 L1533.9,2690.0 L1536.9,2690.1 L1539.9,2690.2 L1542.9,2690.3 L1545.9,2690.5 L1548.9,2690.6 L1551.9,2690.7 L1554.9,2690.8 L1557.9,2690.9 L1560.9,2691.0 L1563.9,2691.1 L1566.9,2691.2 L1569.8,2691.3 L1572.8,2691.4 L1575.8,2691.5 L1578.8,2691.6 L1581.8,2691.7 L1584.8,2691.8 L1587.8,2691.9 L1590.8,2692.0 L1593.8,2692.1 L1596.8,2692.2 L1599.8,2692.3 L1602.8,2692.4 L1605.8,2692.5 L1608.8,2692.6 L1611.8,2692.7 L1614.8,2692.8 L1617.8,2692.9 L1620.8,2693.0 L1623.8,2693.1 L1626.8,2693.2 L1629.8,2693.3 L1632.8,2693.4 L1635.8,2693.5 L1638.8,2693.6 L1641.8,2693.7 L1644.8,2693.8 L1647.8,2693.9 L1650.8,2694.0 L1653.8,2694.1 L1656.8,2694.2 L1659.8,2694.3 L1662.8,2694.4 L1665.8,2694.5 L1668.8,2694.6 L1671.8,2694.7 L1674.8,2694.8 L1677.8,2694.8 L1680.8,2694.9 L1683.8,2695.0 L1686.8,2695.1 L1689.8,2695.2 L1692.8,2695.3 L1695.8,2695.4 L1698.8,2695.5 L1701.8,2695.6 L1704.8,2695.7 L1707.8,2695.8 L1710.8,2695.9 L1713.8,2695.9 L1716.8,2696.0 L1719.8,2696.1 L1722.8,2696.2 L1725.8,2696.3 L1728.8,2696.4 L1731.8,2696.5 L1734.8,2696.6 L1737.8,2696.7 L1740.8,2696.7 L1743.8,2696.8 L1746.8,2696.9 L1749.8,2697.0 L1752.8,2697.1 L1755.8,2697.2 L1758.8,2697.2 L1761.8,2697.3 L1764.8,2697.4 L1767.8,2697.5 L1770.8,2697.6 L1773.7,2697.7 L1776.7,2697.7 L1779.7,2697.8 L1782.7,2697.9 L1785.7,2698.0 L1788.7,2698.1 L1791.7,2698.1 L1794.7,2698.2 L1797.7,2698.3 L1800.7,2698.4 L1803.7,2698.4 L1806.7,2698.5 L1809.7,2698.6 L1812.7,2698.7 L1815.7,2698.7 L1818.7,2698.8 L1821.7,2698.9 L1824.7,2699.0 L1827.7,2699.0 L1830.7,2699.1 L1833.7,2699.2 L1836.7,2699.3 L1839.7,2699.3 L1842.7,2699.4 L1845.7,2699.5 L1848.7,2699.5 L1851.7,2699.6 L1854.7,2699.7 L1857.7,2699.7 L1859.7,2699.8" fill="none" stroke="#3a3a3a" stroke-width="2.5" stroke-linejoin="round" stroke-linecap="butt"/>
<path d="M140.0,2079.6 L143.0,2079.8 L146.0,2080.1 L149.0,2080.3 L152.0,2080.6 L155.0,2080.8 L158.0,2081.1 L161.0,2081.3 L164.0,2081.6 L167.0,2081.8 L170.0,2082.1 L173.0,2082.3 L176.0,2082.6 L179.0,2082.8 L182.0,2083.1 L185.0,2083.3 L188.0,2083.6 L191.0,2083.8 L194.0,2084.1 L197.0,2084.3 L200.0,2084.6 L203.0,2084.8 L206.0,2085.0 L209.0,2085.3 L212.0,2085.5 L215.0,2085.8 L218.0,2086.0 L221.0,2086.3 L224.0,2086.5 L227.0,2086.8 L230.0,2087.0 L233.0,2087.3 L236.0,2087.5 L239.0,2087.7 L242.0,2088.0 L245.0,2088.2 L248.0,2088.5 L251.0,2088.7 L254.0,2089.0 L257.0,2089.2 L260.0,2089.5 L263.0,2089.7 L266.0,2089.9 L269.0,2090.2 L272.0,2090.4 L275.0,2090.7 L278.0,2090.9 L281.0,2091.2 L284.0,2091.4 L287.0,2091.6 L290.0,2091.9 L293.0,2092.1 L296.0,2092.4 L299.0,2092.6 L302.0,2092.8 L305.0,2093.1 L308.0,2093.3 L311.0,2093.6 L314.0,2093.8 L317.0,2094.0 L320.0,2094.3 L323.0,2094.5 L326.0,2094.8 L329.0,2095.0 L332.0,2095.2 L335.0,2095.5 L338.0,2095.7 L341.0,2095.9 L344.0,2096.2 L347.0,2096.4 L350.0,2096.7 L353.0,2096.9 L356.0,2097.1 L359.0,2097.4 L362.0,2097.6 L365.0,2097.9 L368.0,2098.1 L371.0,2098.3 L374.0,2098.6 L377.0,2098.8 L380.0,2099.0 L383.0,2099.3 L386.0,2099.5 L389.0,2099.8 L392.0,2100.0 L395.0,2100.2 L398.0,2100.5 L401.0,2100.7 L404.0,2100.9 L407.0,2101.2 L410.0,2101.4 L413.0,2101.7 L416.0,2101.9 L419.0,2102.1 L422.0,2102.4 L425.0,2102.6 L428.0,2102.9 L431.0,2103.1 L434.0,2103.4 L437.0,2103.6 L440.0,2103.8 L443.0,2104.1 L446.0,2104.3 L449.0,2104.6 L452.0,2104.8 L455.0,2105.1 L458.0,2105.3 L461.0,2105.5 L464.0,2105.8 L467.0,2106.0 L470.0,2106.3 L473.0,2106.5 L476.0,2106.8 L479.0,2107.0 L482.0,2107.3 L485.0,2107.5 L488.0,2107.7 L491.0,2108.0 L494.0,2108.2 L497.0,2108.5 L500.0,2108.7 L503.0,2109.0 L506.0,2109.2 L509.0,2109.5 L512.0,2109.7 L515.0,2110.0 L518.0,2110.2 L521.0,2110.5 L524.0,2110.7 L527.0,2110.9 L530.0,2111.2 L533.0,2111.4 L536.0,2111.7 L539.0,2111.9 L542.0,2112.2 L545.0,2112.4 L548.0,2112.7 L551.0,2112.9 L554.0,2113.2 L557.0,2113.4 L560.0,2113.7 L563.0,2114.0 L566.0,2114.2 L569.0,2114.5 L572.0,2114.7 L575.0,2115.0 L578.0,2115.2 L581.0,2115.5 L584.0,2115.7 L587.0,2116.0 L590.0,2116.3 L593.0,2116.5 L596.0,2116.8 L599.0,2117.0 L602.0,2117.3 L605.0,2117.6 L608.0,2117.8 L611.0,2118.1 L614.0,2118.3 L617.0,2118.6 L620.0,2118.9 L623.0,2119.1 L626.0,2119.4 L629.0,2119.6 L632.0,2119.9 L635.0,2120.1 L638.0,2120.4 L641.0,2120.6 L644.0,2120.9 L647.0,2121.2 L650.0,2121.4 L653.0,2121.7 L656.0,2121.9 L659.0,2122.2 L662.0,2122.5 L665.0,2122.7 L668.0,2123.0 L671.0,2123.3 L674.0,2123.5 L677.0,2123.8 L680.0,2124.1 L683.0,2124.3 L686.0,2124.6 L689.0,2124.9 L692.0,2125.2 L695.0,2125.5 L698.0,2125.7 L701.0,2126.0 L704.0,2126.3 L707.0,2126.6 L710.0,2126.9 L713.0,2127.2 L716.0,2127.5 L719.0,2127.8 L722.0,2128.1 L725.0,2128.5 L728.0,2128.8 L731.0,2129.1 L734.0,2129.4 L737.0,2129.7 L740.0,2130.0 L743.0,2130.4 L746.0,2130.7 L749.0,2131.0 L752.0,2131.3 L755.0,2131.6 L758.0,2131.9 L761.0,2132.2 L764.0,2132.6 L767.0,2132.9 L770.0,2133.3 L773.0,2133.7 L776.0,2134.0 L779.0,2134.5 L782.0,2134.9 L785.0,2135.3 L788.0,2135.8 L791.0,2136.3 L794.0,2136.8 L797.0,2137.4 L800.0,2138.0 L803.0,2138.7 L806.0,2139.5 L809.0,2140.4 L812.0,2141.4 L815.0,2142.6 L818.0,2143.8 L820.8,2145.0 L823.5,2146.3 L826.2,2147.7 L829.0,2149.1 L831.8,2150.6 L834.5,2152.2 L837.2,2153.8 L840.0,2155.4 L842.8,2157.1 L845.5,2158.8 L848.2,2160.6 L851.0,2162.3 L853.8,2164.1 L856.5,2166.0 L859.0,2167.6 L861.5,2169.3 L864.0,2170.9 L866.5,2172.6 L869.0,2174.3 L871.8,2176.1 L874.5,2177.9 L877.2,2179.7 L880.0,2181.4 L882.8,2183.1 L885.5,2184.8 L888.2,2186.5 L891.0,2188.1 L893.8,2189.6 L896.5,2191.2 L899.2,2192.7 L902.0,2194.2 L904.8,2195.7 L907.5,2197.2 L910.2,2198.7 L913.0,2200.2 L915.8,2201.7 L918.5,2203.2 L921.2,2204.7 L924.0,2206.2 L926.8,2207.7 L929.5,2209.2 L932.2,2210.7 L935.0,2212.2 L937.8,2213.7 L940.5,2215.2 L943.2,2216.7 L946.0,2218.2 L948.8,2219.7 L951.5,2221.2 L954.2,2222.7 L957.0,2224.2 L959.8,2225.7 L962.5,2227.2 L965.2,2228.7 L968.0,2230.3 L970.8,2231.8 L973.5,2233.3 L976.2,2234.9 L979.0,2236.4 L981.8,2238.0 L984.5,2239.5 L987.2,2241.1 L990.0,2242.6 L992.8,2244.2 L995.5,2245.9 L998.2,2247.5 L1001.0,2249.2 L1003.8,2251.0 L1006.5,2252.7 L1009.2,2254.5 L1012.0,2256.2 L1014.8,2258.0 L1017.5,2259.8 L1020.2,2261.6 L1023.0,2263.4 L1025.8,2265.1 L1028.5,2266.9 L1031.2,2268.7 L1034.0,2270.4 L1036.8,2272.1 L1039.5,2273.8 L1042.2,2275.4 L1045.0,2277.0 L1047.8,2278.6 L1050.5,2280.1 L1053.2,2281.6 L1056.0,2283.0 L1058.8,2284.4 L1061.5,2285.7 L1064.2,2287.0 L1067.2,2288.3 L1070.2,2289.5 L1073.2,2290.7 L1076.2,2291.8 L1079.2,2292.9 L1082.2,2294.0 L1085.2,2295.1 L1088.2,2296.1 L1091.2,2297.1 L1094.2,2298.1 L1097.2,2299.1 L1100.2,2300.0 L1103.2,2300.9 L1106.2,2301.8 L1109.2,2302.6 L1112.2,2303.5 L1115.2,2304.3 L1118.2,2305.0 L1121.2,2305.8 L1124.2,2306.5 L1127.2,2307.3 L1130.2,2307.9 L1133.2,2308.6 L1136.2,2309.3 L1139.2,2309.9 L1142.2,2310.6 L1145.2,2311.2 L1148.2,2311.9 L1151.2,2312.5 L1154.2,2313.1 L1157.2,2313.7 L1160.2,2314.3 L1163.2,2314.9 L1166.2,2315.5 L1169.2,2316.0 L1172.2,2316.6 L1175.2,2317.2 L1178.2,2317.7 L1181.2,2318.3 L1184.2,2318.8 L1187.2,2319.3 L1190.2,2319.8 L1193.2,2320.4 L1196.2,2320.9 L1199.2,2321.4 L1202.2,2321.9 L1205.2,2322.3 L1208.2,2322.8 L1211.2,2323.3 L1214.2,2323.8 L1217.2,2324.2 L1220.2,2324.7 L1223.2,2325.1 L1226.2,2325.6 L1229.2,2326.0 L1232.2,2326.4 L1235.2,2326.9 L1238.2,2327.3 L1241.2,2327.7 L1244.2,2328.1 L1247.2,2328.5 L1250.2,2328.9 L1253.2,2329.3 L1256.2,2329.7 L1259.2,2330.0 L1262.2,2330.4 L1265.2,2330.8 L1268.2,2331.2 L1271.2,2331.5 L1274.2,2331.9 L1277.2,2332.2 L1280.2,2332.6 L1283.2,2332.9 L1286.2,2333.2 L1289.2,2333.6 L1292.2,2333.9 L1295.2,2334.2 L1298.2,2334.5 L1301.2,2334.8 L1304.2,2335.2 L1307.2,2335.5 L1310.2,2335.8 L1313.2,2336.1 L1316.2,2336.4 L1319.2,2336.6 L1322.2,2336.9 L1325.2,2337.2 L1328.2,2337.5 L1331.2,2337.8 L1334.2,2338.0 L1337.2,2338.3 L1340.2,2338.6 L1343.2,2338.8 L1346.2,2339.1 L1349.2,2339.4 L1352.2,2339.6 L1355.2,2339.9 L1358.2,2340.1 L1361.2,2340.4 L1364.2,2340.6 L1367.2,2340.9 L1370.2,2341.1 L1373.2,2341.4 L1376.2,2341.6 L1379.2,2341.8 L1382.2,2342.1 L1385.2,2342.3 L1388.2,2342.5 L1391.2,2342.7 L1394.2,2343.0 L1397.2,2343.2 L1400.2,2343.4 L1403.2,2343.6 L1406.2,2343.9 L1409.2,2344.1 L1412.2,2344.3 L1415.2,2344.5 L1418.2,2344.7 L1421.2,2345.0 L1424.2,2345.2 L1427.2,2345.4 L1430.2,2345.6 L1433.2,2345.8 L1436.2,2346.1 L1439.2,2346.3 L1442.2,2346.5 L1445.2,2346.7 L1448.2,2346.9 L1451.2,2347.2 L1454.2,2347.4 L1457.2,2347.6 L1460.2,2347.8 L1463.2,2348.0 L1466.2,2348.2 L1469.2,2348.5 L1472.2,2348.7 L1475.2,2348.9 L1478.2,2349.1 L1481.2,2349.3 L1484.2,2349.5 L1487.2,2349.7 L1490.2,2350.0 L1493.2,2350.2 L1496.2,2350.4 L1499.2,2350.6 L1502.2,2350.8 L1505.2,2351.0 L1508.2,2351.2 L1511.2,2351.4 L1514.2,2351.6 L1517.2,2351.8 L1520.2,2352.1 L1523.2,2352.3 L1526.2,2352.5 L1529.2,2352.7 L1532.2,2352.9 L1535.2,2353.1 L1538.2,2353.3 L1541.2,2353.5 L1544.2,2353.7 L1547.2,2353.9 L1550.2,2354.1 L1553.2,2354.3 L1556.2,2354.5 L1559.2,2354.7 L1562.2,2354.9 L1565.2,2355.1 L1568.2,2355.3 L1571.2,2355.5 L1574.2,2355.7 L1577.2,2355.9 L1580.2,2356.1 L1583.2,2356.3 L1586.2,2356.5 L1589.2,2356.7 L1592.2,2356.9 L1595.2,2357.1 L1598.2,2357.3 L1601.2,2357.4 L1604.2,2357.6 L1607.2,2357.8 L1610.2,2358.0 L1613.2,2358.2 L1616.2,2358.4 L1619.2,2358.6 L1622.2,2358.8 L1625.2,2358.9 L1628.2,2359.1 L1631.2,2359.3 L1634.2,2359.5 L1637.2,2359.7 L1640.2,2359.9 L1643.2,2360.0 L1646.2,2360.2 L1649.2,2360.4 L1652.2,2360.6 L1655.2,2360.7 L1658.2,2360.9 L1661.2,2361.1 L1664.2,2361.3 L1667.2,2361.4 L1670.2,2361.6 L1673.2,2361.8 L1676.2,2362.0 L1679.2,2362.1 L1682.2,2362.3 L1685.2,2362.5 L1688.2,2362.6 L1691.2,2362.8 L1694.2,2363.0 L1697.2,2363.1 L1700.2,2363.3 L1703.2,2363.5 L1706.2,2363.6 L1709.2,2363.8 L1712.2,2363.9 L1715.2,2364.1 L1718.2,2364.2 L1721.2,2364.4 L1724.2,2364.6 L1727.2,2364.7 L1730.2,2364.9 L1733.2,2365.0 L1736.2,2365.2 L1739.2,2365.3 L1742.2,2365.5 L1745.2,2365.6 L1748.2,2365.8 L1751.2,2365.9 L1754.2,2366.0 L1757.2,2366.2 L1760.2,2366.3 L1763.2,2366.5 L1766.2,2366.6 L1769.2,2366.8 L1772.2,2366.9 L1775.2,2367.0 L1778.2,2367.2 L1781.2,2367.3 L1784.2,2367.4 L1787.2,2367.6 L1790.2,2367.7 L1793.2,2367.8 L1796.2,2367.9 L1799.2,2368.1 L1802.2,2368.2 L1805.2,2368.3 L1808.2,2368.4 L1811.2,2368.6 L1814.2,2368.7 L1817.2,2368.8 L1820.2,2368.9 L1823.2,2369.0 L1826.2,2369.2 L1829.2,2369.3 L1832.2,2369.4 L1835.2,2369.5 L1838.2,2369.6 L1841.2,2369.7 L1844.2,2369.8 L1847.2,2369.9 L1850.2,2370.0 L1853.2,2370.1 L1856.2,2370.2 L1859.2,2370.3 L1862.2,2370.4 L1865.2,2370.5 L1868.2,2370.6 L1871.2,2370.7 L1874.2,2370.8 L1877.2,2370.9 L1880.0,2371.0" fill="none" stroke="#4148c5" stroke-width="6" stroke-linejoin="round" stroke-linecap="butt"/>
<path d="M140.0,2078.0 L143.0,2078.1 L146.0,2078.2 L149.0,2078.3 L152.0,2078.4 L155.0,2078.6 L158.0,2078.7 L161.0,2078.8 L164.0,2078.9 L167.0,2079.0 L170.0,2079.1 L173.0,2079.2 L176.0,2079.3 L179.0,2079.5 L182.0,2079.6 L185.0,2079.7 L188.0,2079.8 L191.0,2079.9 L194.0,2080.0 L197.0,2080.2 L200.0,2080.3 L203.0,2080.4 L206.0,2080.5 L209.0,2080.6 L212.0,2080.7 L215.0,2080.8 L218.0,2081.0 L221.0,2081.1 L224.0,2081.2 L227.0,2081.3 L230.0,2081.4 L233.0,2081.5 L236.0,2081.7 L239.0,2081.8 L242.0,2081.9 L245.0,2082.0 L248.0,2082.1 L251.0,2082.3 L254.0,2082.4 L257.0,2082.5 L260.0,2082.6 L263.0,2082.7 L266.0,2082.9 L269.0,2083.0 L272.0,2083.1 L275.0,2083.2 L278.0,2083.3 L281.0,2083.5 L284.0,2083.6 L287.0,2083.7 L290.0,2083.8 L293.0,2084.0 L296.0,2084.1 L299.0,2084.2 L302.0,2084.3 L305.0,2084.4 L308.0,2084.6 L311.0,2084.7 L314.0,2084.8 L317.0,2084.9 L320.0,2085.1 L323.0,2085.2 L326.0,2085.3 L329.0,2085.4 L332.0,2085.6 L335.0,2085.7 L338.0,2085.8 L341.0,2085.9 L344.0,2086.1 L347.0,2086.2 L350.0,2086.3 L353.0,2086.4 L356.0,2086.6 L359.0,2086.7 L362.0,2086.8 L365.0,2086.9 L368.0,2087.1 L371.0,2087.2 L374.0,2087.3 L377.0,2087.5 L380.0,2087.6 L383.0,2087.7 L386.0,2087.8 L389.0,2088.0 L392.0,2088.1 L395.0,2088.2 L398.0,2088.4 L401.0,2088.5 L404.0,2088.6 L407.0,2088.7 L410.0,2088.9 L413.0,2089.0 L416.0,2089.1 L419.0,2089.3 L422.0,2089.4 L425.0,2089.5 L428.0,2089.7 L431.0,2089.8 L434.0,2089.9 L437.0,2090.1 L440.0,2090.2 L443.0,2090.3 L446.0,2090.5 L449.0,2090.6 L452.0,2090.8 L455.0,2090.9 L458.0,2091.0 L461.0,2091.2 L464.0,2091.3 L467.0,2091.5 L470.0,2091.6 L473.0,2091.7 L476.0,2091.9 L479.0,2092.0 L482.0,2092.2 L485.0,2092.3 L488.0,2092.5 L491.0,2092.6 L494.0,2092.7 L497.0,2092.9 L500.0,2093.0 L503.0,2093.2 L506.0,2093.3 L509.0,2093.5 L512.0,2093.6 L515.0,2093.8 L518.0,2093.9 L521.0,2094.1 L524.0,2094.2 L527.0,2094.3 L530.0,2094.5 L533.0,2094.6 L536.0,2094.8 L539.0,2094.9 L542.0,2095.1 L545.0,2095.2 L548.0,2095.4 L551.0,2095.5 L554.0,2095.7 L557.0,2095.8 L560.0,2096.0 L563.0,2096.1 L566.0,2096.3 L569.0,2096.4 L572.0,2096.6 L575.0,2096.7 L578.0,2096.9 L581.0,2097.0 L584.0,2097.1 L587.0,2097.3 L590.0,2097.4 L593.0,2097.6 L596.0,2097.7 L599.0,2097.9 L602.0,2098.0 L605.0,2098.2 L608.0,2098.3 L611.0,2098.5 L614.0,2098.6 L617.0,2098.7 L620.0,2098.9 L623.0,2099.0 L626.0,2099.2 L629.0,2099.3 L632.0,2099.5 L635.0,2099.6 L638.0,2099.7 L641.0,2099.9 L644.0,2100.0 L647.0,2100.2 L650.0,2100.3 L653.0,2100.4 L656.0,2100.6 L659.0,2100.7 L662.0,2100.8 L665.0,2101.0 L668.0,2101.1 L671.0,2101.2 L674.0,2101.4 L677.0,2101.5 L680.0,2101.6 L683.0,2101.8 L686.0,2101.9 L689.0,2102.0 L692.0,2102.2 L695.0,2102.3 L698.0,2102.4 L701.0,2102.5 L704.0,2102.7 L707.0,2102.8 L710.0,2102.9 L713.0,2103.0 L716.0,2103.1 L719.0,2103.2 L722.0,2103.3 L725.0,2103.4 L728.0,2103.5 L731.0,2103.6 L734.0,2103.7 L737.0,2103.7 L740.0,2103.8 L743.0,2103.9 L746.0,2104.0 L749.0,2104.1 L752.0,2104.2 L755.0,2104.3 L758.0,2104.4 L761.0,2104.5 L764.0,2104.6 L767.0,2104.7 L770.0,2104.8 L773.0,2105.0 L776.0,2105.1 L779.0,2105.2 L782.0,2105.4 L785.0,2105.5 L788.0,2105.7 L791.0,2105.8 L794.0,2106.0 L797.0,2106.2 L800.0,2106.4 L803.0,2106.6 L806.0,2106.9 L809.0,2107.2 L812.0,2107.6 L815.0,2108.0 L818.0,2108.4 L821.0,2108.9 L824.0,2109.4 L827.0,2109.9 L830.0,2110.5 L833.0,2111.1 L836.0,2111.7 L839.0,2112.3 L842.0,2113.0 L845.0,2113.7 L848.0,2114.4 L851.0,2115.1 L854.0,2115.9 L857.0,2116.6 L860.0,2117.4 L863.0,2118.2 L866.0,2119.0 L869.0,2119.8 L872.0,2120.6 L875.0,2121.4 L875.5,2121.5 L878.2,2123.2 L881.0,2124.9 L883.8,2126.5 L886.5,2128.2 L889.2,2129.9 L892.0,2131.6 L894.8,2133.2 L897.5,2134.9 L900.2,2136.6 L903.0,2138.3 L905.8,2140.0 L908.5,2141.7 L911.2,2143.3 L914.0,2145.0 L916.8,2146.7 L919.5,2148.4 L922.2,2150.1 L925.0,2151.8 L927.8,2153.5 L930.5,2155.1 L933.2,2156.8 L936.0,2158.5 L938.8,2160.2 L941.5,2161.9 L944.2,2163.6 L947.0,2165.3 L949.8,2167.0 L952.5,2168.7 L955.2,2170.4 L958.0,2172.0 L960.8,2173.7 L963.5,2175.4 L966.2,2177.1 L969.0,2178.8 L971.8,2180.5 L974.5,2182.2 L977.2,2183.9 L980.0,2185.6 L982.8,2187.3 L985.5,2189.0 L988.2,2190.7 L991.0,2192.4 L993.8,2194.1 L996.5,2195.8 L999.2,2197.5 L1002.0,2199.2 L1004.8,2200.9 L1007.5,2202.6 L1010.2,2204.3 L1013.0,2206.0 L1015.8,2207.8 L1018.5,2209.5 L1021.2,2211.2 L1024.0,2212.9 L1026.8,2214.6 L1029.5,2216.3 L1032.2,2218.0 L1035.0,2219.7 L1037.8,2221.4 L1040.5,2223.1 L1043.2,2224.8 L1046.0,2226.6 L1048.8,2228.3 L1051.5,2230.0 L1054.2,2231.7 L1057.0,2233.4 L1059.8,2235.1 L1062.5,2236.9 L1065.2,2238.6 L1068.0,2240.3 L1070.8,2242.0 L1073.5,2243.7 L1076.2,2245.4 L1079.0,2247.2 L1081.8,2248.9 L1084.5,2250.6 L1087.2,2252.3 L1090.0,2254.1 L1092.8,2255.8 L1095.5,2257.5 L1098.2,2259.2 L1101.0,2260.9 L1102.2,2261.7 L1105.2,2262.2 L1108.2,2262.8 L1111.2,2263.3 L1114.2,2263.8 L1117.2,2264.3 L1120.2,2264.8 L1123.2,2265.3 L1126.2,2265.8 L1129.2,2266.3 L1132.2,2266.8 L1135.2,2267.3 L1138.2,2267.7 L1141.2,2268.2 L1144.2,2268.6 L1147.2,2269.1 L1150.2,2269.5 L1153.2,2270.0 L1156.2,2270.4 L1159.2,2270.8 L1162.2,2271.2 L1165.2,2271.6 L1168.2,2272.0 L1171.2,2272.4 L1174.2,2272.8 L1177.2,2273.1 L1180.2,2273.5 L1183.2,2273.8 L1186.2,2274.2 L1189.2,2274.5 L1192.2,2274.9 L1195.2,2275.2 L1198.2,2275.5 L1201.2,2275.8 L1204.2,2276.1 L1207.2,2276.4 L1210.2,2276.7 L1213.2,2277.0 L1216.2,2277.3 L1219.2,2277.6 L1222.2,2277.9 L1225.2,2278.2 L1228.2,2278.5 L1231.2,2278.8 L1234.2,2279.1 L1237.2,2279.4 L1240.2,2279.7 L1243.2,2280.0 L1246.2,2280.3 L1249.2,2280.6 L1252.2,2280.9 L1255.2,2281.2 L1258.2,2281.5 L1261.2,2281.8 L1264.2,2282.1 L1267.2,2282.4 L1270.2,2282.7 L1273.2,2283.0 L1276.2,2283.3 L1279.2,2283.6 L1282.2,2283.8 L1285.2,2284.1 L1288.2,2284.4 L1291.2,2284.8 L1294.2,2285.1 L1297.2,2285.4 L1300.2,2285.7 L1303.2,2286.1 L1306.2,2286.4 L1309.2,2286.8 L1312.2,2287.1 L1315.2,2287.5 L1318.2,2287.8 L1321.2,2288.2 L1324.2,2288.6 L1327.2,2289.0 L1330.2,2289.4 L1333.2,2289.7 L1336.2,2290.1 L1339.2,2290.5 L1342.2,2290.9 L1345.2,2291.3 L1348.2,2291.7 L1351.2,2292.1 L1354.2,2292.5 L1357.2,2292.9 L1360.2,2293.3 L1363.2,2293.7 L1366.2,2294.1 L1369.2,2294.6 L1372.2,2295.0 L1375.2,2295.4 L1378.2,2295.8 L1381.2,2296.2 L1384.2,2296.6 L1387.2,2297.0 L1390.2,2297.3 L1393.2,2297.7 L1396.2,2298.1 L1399.2,2298.5 L1402.2,2298.9 L1405.2,2299.3 L1408.2,2299.6 L1411.2,2300.0 L1414.2,2300.4 L1417.2,2300.8 L1420.2,2301.1 L1423.2,2301.5 L1426.2,2301.9 L1429.2,2302.3 L1432.2,2302.7 L1435.2,2303.0 L1438.2,2303.4 L1441.2,2303.8 L1444.2,2304.2 L1447.2,2304.5 L1450.2,2304.9 L1453.2,2305.3 L1456.2,2305.7 L1459.2,2306.0 L1462.2,2306.4 L1465.2,2306.8 L1468.2,2307.2 L1471.2,2307.5 L1474.2,2307.9 L1477.2,2308.3 L1480.2,2308.7 L1483.2,2309.0 L1486.2,2309.4 L1489.2,2309.8 L1492.2,2310.2 L1495.2,2310.5 L1498.2,2310.9 L1501.2,2311.3 L1504.2,2311.7 L1507.2,2312.0 L1510.2,2312.4 L1513.2,2312.8 L1516.2,2313.2 L1519.2,2313.5 L1522.2,2313.9 L1525.2,2314.3 L1528.2,2314.7 L1531.2,2315.0 L1534.2,2315.4 L1537.2,2315.8 L1540.2,2316.1 L1543.2,2316.5 L1546.2,2316.9 L1549.2,2317.3 L1552.2,2317.6 L1555.2,2318.0 L1558.2,2318.4 L1561.2,2318.7 L1564.2,2319.1 L1567.2,2319.5 L1570.2,2319.9 L1573.2,2320.2 L1576.2,2320.6 L1579.2,2321.0 L1582.2,2321.3 L1585.2,2321.7 L1588.2,2322.1 L1591.2,2322.4 L1594.2,2322.8 L1597.2,2323.2 L1600.2,2323.5 L1603.2,2323.9 L1606.2,2324.3 L1609.2,2324.7 L1612.2,2325.0 L1615.2,2325.4 L1618.2,2325.8 L1621.2,2326.1 L1624.2,2326.5 L1627.2,2326.9 L1630.2,2327.2 L1633.2,2327.6 L1636.2,2328.0 L1639.2,2328.3 L1642.2,2328.7 L1645.2,2329.1 L1648.2,2329.4 L1651.2,2329.8 L1654.2,2330.2 L1657.2,2330.5 L1660.2,2330.9 L1663.2,2331.3 L1666.2,2331.6 L1669.2,2332.0 L1672.2,2332.3 L1675.2,2332.7 L1678.2,2333.1 L1681.2,2333.4 L1684.2,2333.8 L1687.2,2334.2 L1690.2,2334.5 L1693.2,2334.9 L1696.2,2335.3 L1699.2,2335.6 L1702.2,2336.0 L1705.2,2336.3 L1708.2,2336.7 L1711.2,2337.1 L1714.2,2337.4 L1717.2,2337.8 L1720.2,2338.1 L1723.2,2338.5 L1726.2,2338.9 L1729.2,2339.2 L1732.2,2339.6 L1735.2,2339.9 L1738.2,2340.3 L1741.2,2340.7 L1744.2,2341.0 L1747.2,2341.4 L1750.2,2341.7 L1753.2,2342.1 L1756.2,2342.5 L1759.2,2342.8 L1762.2,2343.2 L1765.2,2343.5 L1768.2,2343.9 L1771.2,2344.2 L1774.2,2344.6 L1777.2,2345.0 L1780.2,2345.3 L1783.2,2345.7 L1786.2,2346.0 L1789.2,2346.4 L1792.2,2346.7 L1795.2,2347.1 L1798.2,2347.4 L1801.2,2347.8 L1804.2,2348.1 L1807.2,2348.5 L1810.2,2348.9 L1813.2,2349.2 L1816.2,2349.6 L1819.2,2349.9 L1822.2,2350.3 L1825.2,2350.6 L1828.2,2351.0 L1831.2,2351.3 L1834.2,2351.7 L1837.2,2352.0 L1840.2,2352.4 L1843.2,2352.7 L1846.2,2353.1 L1849.2,2353.4 L1852.2,2353.8 L1855.2,2354.1 L1858.2,2354.5 L1861.2,2354.8 L1864.2,2355.2 L1867.2,2355.5 L1870.2,2355.9 L1873.2,2356.2 L1876.2,2356.6 L1879.2,2356.9 L1880.0,2357.0" fill="none" stroke="#2fa552" stroke-width="6" stroke-linejoin="round" stroke-linecap="butt"/>
<path d="M140.0,2077.2 L143.0,2077.3 L146.0,2077.4 L149.0,2077.6 L152.0,2077.7 L155.0,2077.8 L158.0,2077.9 L161.0,2078.0 L164.0,2078.2 L167.0,2078.3 L170.0,2078.4 L173.0,2078.5 L176.0,2078.7 L179.0,2078.8 L182.0,2078.9 L185.0,2079.0 L188.0,2079.1 L191.0,2079.3 L194.0,2079.4 L197.0,2079.5 L200.0,2079.6 L203.0,2079.7 L206.0,2079.9 L209.0,2080.0 L212.0,2080.1 L215.0,2080.2 L218.0,2080.3 L221.0,2080.5 L224.0,2080.6 L227.0,2080.7 L230.0,2080.8 L233.0,2080.9 L236.0,2081.1 L239.0,2081.2 L242.0,2081.3 L245.0,2081.4 L248.0,2081.5 L251.0,2081.7 L254.0,2081.8 L257.0,2081.9 L260.0,2082.0 L263.0,2082.1 L266.0,2082.3 L269.0,2082.4 L272.0,2082.5 L275.0,2082.6 L278.0,2082.7 L281.0,2082.8 L284.0,2083.0 L287.0,2083.1 L290.0,2083.2 L293.0,2083.3 L296.0,2083.4 L299.0,2083.6 L302.0,2083.7 L305.0,2083.8 L308.0,2083.9 L311.0,2084.0 L314.0,2084.1 L317.0,2084.3 L320.0,2084.4 L323.0,2084.5 L326.0,2084.6 L329.0,2084.7 L332.0,2084.9 L335.0,2085.0 L338.0,2085.1 L341.0,2085.2 L344.0,2085.3 L347.0,2085.4 L350.0,2085.6 L353.0,2085.7 L356.0,2085.8 L359.0,2085.9 L362.0,2086.0 L365.0,2086.1 L368.0,2086.3 L371.0,2086.4 L374.0,2086.5 L377.0,2086.6 L380.0,2086.7 L383.0,2086.8 L386.0,2087.0 L389.0,2087.1 L392.0,2087.2 L395.0,2087.3 L398.0,2087.4 L401.0,2087.5 L404.0,2087.7 L407.0,2087.8 L410.0,2087.9 L413.0,2088.0 L416.0,2088.1 L419.0,2088.2 L422.0,2088.3 L425.0,2088.5 L428.0,2088.6 L431.0,2088.7 L434.0,2088.8 L437.0,2088.9 L440.0,2089.1 L443.0,2089.2 L446.0,2089.3 L449.0,2089.4 L452.0,2089.6 L455.0,2089.7 L458.0,2089.8 L461.0,2089.9 L464.0,2090.0 L467.0,2090.2 L470.0,2090.3 L473.0,2090.4 L476.0,2090.5 L479.0,2090.7 L482.0,2090.8 L485.0,2090.9 L488.0,2091.1 L491.0,2091.2 L494.0,2091.3 L497.0,2091.4 L500.0,2091.6 L503.0,2091.7 L506.0,2091.8 L509.0,2091.9 L512.0,2092.1 L515.0,2092.2 L518.0,2092.3 L521.0,2092.4 L524.0,2092.6 L527.0,2092.7 L530.0,2092.8 L533.0,2093.0 L536.0,2093.1 L539.0,2093.2 L542.0,2093.3 L545.0,2093.5 L548.0,2093.6 L551.0,2093.7 L554.0,2093.8 L557.0,2094.0 L560.0,2094.1 L563.0,2094.2 L566.0,2094.3 L569.0,2094.5 L572.0,2094.6 L575.0,2094.7 L578.0,2094.8 L581.0,2094.9 L584.0,2095.1 L587.0,2095.2 L590.0,2095.3 L593.0,2095.4 L596.0,2095.5 L599.0,2095.7 L602.0,2095.8 L605.0,2095.9 L608.0,2096.0 L611.0,2096.1 L614.0,2096.2 L617.0,2096.4 L620.0,2096.5 L623.0,2096.6 L626.0,2096.7 L629.0,2096.8 L632.0,2096.9 L635.0,2097.0 L638.0,2097.1 L641.0,2097.2 L644.0,2097.3 L647.0,2097.4 L650.0,2097.6 L653.0,2097.7 L656.0,2097.8 L659.0,2097.9 L662.0,2098.0 L665.0,2098.1 L668.0,2098.2 L671.0,2098.3 L674.0,2098.4 L677.0,2098.4 L680.0,2098.5 L683.0,2098.6 L686.0,2098.7 L689.0,2098.8 L692.0,2098.9 L695.0,2099.0 L698.0,2099.1 L701.0,2099.2 L704.0,2099.2 L707.0,2099.3 L710.0,2099.4 L713.0,2099.5 L716.0,2099.6 L719.0,2099.6 L722.0,2099.7 L725.0,2099.8 L728.0,2099.9 L731.0,2099.9 L734.0,2100.0 L737.0,2100.1 L740.0,2100.1 L743.0,2100.2 L746.0,2100.2 L749.0,2100.3 L752.0,2100.3 L755.0,2100.4 L758.0,2100.4 L761.0,2100.5 L764.0,2100.5 L767.0,2100.6 L770.0,2100.6 L773.0,2100.7 L776.0,2100.7 L779.0,2100.8 L782.0,2100.8 L785.0,2100.9 L788.0,2101.0 L791.0,2101.0 L794.0,2101.1 L797.0,2101.1 L800.0,2101.2 L803.0,2101.3 L806.0,2101.3 L809.0,2101.4 L812.0,2101.5 L815.0,2101.5 L818.0,2101.6 L821.0,2101.7 L824.0,2101.8 L827.0,2101.8 L830.0,2101.9 L833.0,2102.0 L836.0,2102.0 L839.0,2102.1 L842.0,2102.2 L845.0,2102.3 L848.0,2102.4 L851.0,2102.4 L854.0,2102.5 L857.0,2102.6 L860.0,2102.7 L863.0,2102.8 L866.0,2102.8 L869.0,2102.9 L872.0,2103.0 L875.0,2103.1 L878.0,2103.2 L881.0,2103.3 L884.0,2103.3 L887.0,2103.4 L890.0,2103.5 L893.0,2103.6 L896.0,2103.7 L899.0,2103.8 L902.0,2103.9 L905.0,2104.0 L908.0,2104.1 L911.0,2104.2 L914.0,2104.3 L917.0,2104.4 L920.0,2104.5 L923.0,2104.5 L926.0,2104.6 L929.0,2104.7 L932.0,2104.8 L935.0,2104.9 L938.0,2105.0 L941.0,2105.2 L944.0,2105.3 L947.0,2105.4 L950.0,2105.5 L953.0,2105.6 L956.0,2105.7 L959.0,2105.8 L962.0,2105.9 L965.0,2106.0 L968.0,2106.4 L971.0,2106.8 L974.0,2107.3 L977.0,2107.7 L980.0,2108.1 L983.0,2108.5 L986.0,2109.0 L989.0,2109.4 L992.0,2109.8 L995.0,2110.2 L998.0,2110.7 L1001.0,2111.1 L1004.0,2111.5 L1007.0,2111.9 L1010.0,2112.4 L1013.0,2112.8 L1016.0,2113.2 L1019.0,2113.7 L1022.0,2114.1 L1025.0,2114.5 L1028.0,2114.9 L1031.0,2115.4 L1034.0,2115.8 L1037.0,2116.2 L1040.0,2116.6 L1043.0,2117.1 L1046.0,2117.5 L1049.0,2117.9 L1052.0,2118.3 L1055.0,2118.8 L1058.0,2119.2 L1061.0,2119.6 L1064.0,2120.0 L1067.0,2120.5 L1070.0,2120.9 L1073.0,2121.3 L1076.0,2121.8 L1079.0,2122.2 L1082.0,2122.6 L1085.0,2123.0 L1088.0,2123.5 L1091.0,2123.9 L1094.0,2124.3 L1097.0,2124.8 L1100.0,2125.2 L1103.0,2125.6 L1106.0,2126.1 L1109.0,2126.5 L1112.0,2126.9 L1115.0,2127.4 L1118.0,2127.8 L1121.0,2128.2 L1124.0,2128.7 L1127.0,2129.1 L1130.0,2129.5 L1133.0,2130.0 L1136.0,2130.4 L1139.0,2130.8 L1142.0,2131.3 L1145.0,2131.7 L1148.0,2132.1 L1151.0,2132.6 L1154.0,2133.0 L1157.0,2133.4 L1160.0,2133.8 L1163.0,2134.3 L1166.0,2134.7 L1169.0,2135.1 L1172.0,2135.6 L1175.0,2136.0 L1178.0,2136.4 L1181.0,2136.8 L1184.0,2137.3 L1187.0,2137.7 L1190.0,2138.1 L1193.0,2138.5 L1196.0,2138.9 L1199.0,2139.4 L1202.0,2139.8 L1205.0,2140.2 L1208.0,2140.6 L1211.0,2141.0 L1214.0,2141.4 L1217.0,2141.9 L1220.0,2142.3 L1223.0,2142.7 L1226.0,2143.1 L1229.0,2143.5 L1232.0,2143.9 L1235.0,2144.3 L1238.0,2144.8 L1241.0,2145.2 L1244.0,2145.6 L1247.0,2146.0 L1250.0,2146.4 L1253.0,2146.8 L1256.0,2147.2 L1259.0,2147.6 L1262.0,2148.0 L1265.0,2148.4 L1268.0,2148.8 L1271.0,2149.2 L1274.0,2149.6 L1277.0,2150.0 L1280.0,2150.4 L1283.0,2150.8 L1286.0,2151.2 L1289.0,2151.6 L1292.0,2152.0 L1295.0,2152.4 L1298.0,2152.7 L1301.0,2153.1 L1304.0,2153.5 L1307.0,2153.9 L1310.0,2154.3 L1313.0,2154.7 L1316.0,2155.0 L1319.0,2155.4 L1322.0,2155.8 L1325.0,2156.2 L1328.0,2156.6 L1331.0,2156.9 L1334.0,2157.3 L1337.0,2157.7 L1340.0,2158.1 L1343.0,2158.5 L1346.0,2158.8 L1349.0,2159.2 L1352.0,2159.6 L1355.0,2159.9 L1358.0,2160.3 L1361.0,2160.7 L1364.0,2161.0 L1367.0,2161.4 L1370.0,2161.7 L1373.0,2162.1 L1376.0,2162.4 L1379.0,2162.7 L1382.0,2163.1 L1385.0,2163.4 L1388.0,2163.7 L1391.0,2164.1 L1394.0,2164.4 L1397.0,2164.7 L1400.0,2165.0 L1403.0,2165.3 L1406.0,2165.6 L1409.0,2165.9 L1412.0,2166.2 L1415.0,2166.5 L1418.0,2166.8 L1421.0,2167.1 L1424.0,2167.4 L1427.0,2167.7 L1430.0,2168.0 L1433.0,2168.3 L1436.0,2168.5 L1439.0,2168.8 L1442.0,2169.1 L1445.0,2169.4 L1448.0,2169.7 L1451.0,2170.0 L1454.0,2170.2 L1457.0,2170.5 L1460.0,2170.8 L1463.0,2171.1 L1466.0,2171.3 L1469.0,2171.6 L1472.0,2171.9 L1475.0,2172.2 L1478.0,2172.4 L1481.0,2172.7 L1484.0,2173.0 L1487.0,2173.2 L1490.0,2173.5 L1493.0,2173.7 L1496.0,2174.0 L1499.0,2174.2 L1502.0,2174.5 L1505.0,2174.8 L1508.0,2175.0 L1511.0,2175.3 L1514.0,2175.5 L1517.0,2175.8 L1520.0,2176.0 L1523.0,2176.2 L1526.0,2176.5 L1529.0,2176.7 L1532.0,2177.0 L1535.0,2177.2 L1538.0,2177.4 L1541.0,2177.7 L1544.0,2177.9 L1547.0,2178.1 L1550.0,2178.4 L1553.0,2178.6 L1556.0,2178.8 L1559.0,2179.1 L1562.0,2179.3 L1565.0,2179.5 L1568.0,2179.7 L1571.0,2180.0 L1574.0,2180.2 L1577.0,2180.4 L1580.0,2180.6 L1583.0,2180.8 L1586.0,2181.0 L1589.0,2181.2 L1592.0,2181.4 L1595.0,2181.7 L1598.0,2181.9 L1601.0,2182.1 L1604.0,2182.3 L1607.0,2182.5 L1610.0,2182.7 L1613.0,2182.9 L1616.0,2183.1 L1619.0,2183.3 L1622.0,2183.5 L1625.0,2183.7 L1628.0,2183.9 L1631.0,2184.1 L1634.0,2184.3 L1637.0,2184.5 L1640.0,2184.7 L1643.0,2184.9 L1646.0,2185.1 L1649.0,2185.3 L1652.0,2185.5 L1655.0,2185.7 L1658.0,2185.8 L1661.0,2186.0 L1664.0,2186.2 L1667.0,2186.4 L1670.0,2186.6 L1673.0,2186.8 L1676.0,2187.0 L1679.0,2187.2 L1682.0,2187.4 L1685.0,2187.6 L1688.0,2187.7 L1691.0,2187.9 L1694.0,2188.1 L1697.0,2188.3 L1700.0,2188.5 L1703.0,2188.7 L1706.0,2188.8 L1709.0,2189.0 L1712.0,2189.2 L1715.0,2189.4 L1718.0,2189.6 L1721.0,2189.7 L1724.0,2189.9 L1727.0,2190.1 L1730.0,2190.3 L1733.0,2190.4 L1736.0,2190.6 L1739.0,2190.8 L1742.0,2190.9 L1745.0,2191.1 L1748.0,2191.3 L1751.0,2191.5 L1754.0,2191.6 L1757.0,2191.8 L1760.0,2191.9 L1763.0,2192.1 L1766.0,2192.3 L1769.0,2192.4 L1772.0,2192.6 L1775.0,2192.8 L1778.0,2192.9 L1781.0,2193.1 L1784.0,2193.2 L1787.0,2193.4 L1790.0,2193.5 L1793.0,2193.7 L1796.0,2193.8 L1799.0,2194.0 L1802.0,2194.1 L1805.0,2194.3 L1808.0,2194.4 L1811.0,2194.6 L1814.0,2194.7 L1817.0,2194.9 L1820.0,2195.0 L1823.0,2195.2 L1826.0,2195.3 L1829.0,2195.4 L1832.0,2195.6 L1835.0,2195.7 L1838.0,2195.8 L1841.0,2196.0 L1844.0,2196.1 L1847.0,2196.2 L1850.0,2196.4 L1853.0,2196.5 L1856.0,2196.6 L1859.0,2196.8 L1862.0,2196.9 L1865.0,2197.0 L1868.0,2197.1 L1871.0,2197.2 L1874.0,2197.4 L1877.0,2197.5 L1880.0,2197.6" fill="none" stroke="#d52a33" stroke-width="6" stroke-linejoin="round" stroke-linecap="butt"/>
<rect x="47" y="2997.0" width="1848.00" height="2.00" fill="#9a9a9a"/>
<rect x="47" y="3847.5" width="1848.00" height="2.00" fill="#9a9a9a"/>
<rect x="1888" y="2990" width="2.00" height="865.00" fill="#9a9a9a"/>
<rect x="47" y="2990" width="1848.00" height="7.00" fill="#000"/>
<rect x="47" y="3849.5" width="1848.00" height="5.50" fill="#000"/>
<rect x="52.5" y="2999.0" width="2.00" height="331.50" fill="#9a9a9a"/>
<rect x="47" y="2990" width="5.50" height="340.50" fill="#000"/>
<rect x="52.5" y="3467" width="2.00" height="380.50" fill="#9a9a9a"/>
<rect x="47" y="3467" width="5.50" height="388.00" fill="#000"/>
<rect x="1890.0" y="2990" width="5.00" height="865.00" fill="#000"/>
<line x1="139.5" y1="3040.0" x2="139.5" y2="3419.0" stroke="#e79ae6" stroke-width="1.5"/>
<line x1="138.5" y1="3419.0" x2="138.5" y2="3794.0" stroke="#e79ae6" stroke-width="1.8"/>
<line x1="126.0" y1="3101.2" x2="138.0" y2="3101.2" stroke="#e79ae6" stroke-width="2.5"/>
<line x1="130.0" y1="3167.9" x2="138.0" y2="3167.9" stroke="#e79ae6" stroke-width="2.5"/>
<line x1="126.0" y1="3234.5" x2="138.0" y2="3234.5" stroke="#e79ae6" stroke-width="2.5"/>
<line x1="130.0" y1="3301.1" x2="138.0" y2="3301.1" stroke="#e79ae6" stroke-width="2.5"/>
<line x1="126.0" y1="3367.8" x2="138.0" y2="3367.8" stroke="#e79ae6" stroke-width="2.5"/>
<line x1="130.0" y1="3434.4" x2="138.0" y2="3434.4" stroke="#e79ae6" stroke-width="2.5"/>
<line x1="126.0" y1="3501.0" x2="138.0" y2="3501.0" stroke="#e79ae6" stroke-width="2.5"/>
<line x1="130.0" y1="3567.6" x2="138.0" y2="3567.6" stroke="#e79ae6" stroke-width="2.5"/>
<line x1="126.0" y1="3634.2" x2="138.0" y2="3634.2" stroke="#e79ae6" stroke-width="2.5"/>
<line x1="130.0" y1="3700.9" x2="138.0" y2="3700.9" stroke="#e79ae6" stroke-width="2.5"/>
<line x1="126.0" y1="3767.5" x2="138.0" y2="3767.5" stroke="#e79ae6" stroke-width="2.5"/>
<line x1="145.0" y1="3786.5" x2="1869.0" y2="3786.5" stroke="#8a8a8a" stroke-width="3"/>
<line x1="150.4" y1="3787.5" x2="150.4" y2="3795.5" stroke="#5a5a5a" stroke-width="2.5"/>
<line x1="172.7" y1="3787.5" x2="172.7" y2="3795.5" stroke="#5a5a5a" stroke-width="2.5"/>
<line x1="195.0" y1="3787.5" x2="195.0" y2="3800.5" stroke="#5a5a5a" stroke-width="2.5"/>
<line x1="217.3" y1="3787.5" x2="217.3" y2="3795.5" stroke="#5a5a5a" stroke-width="2.5"/>
<line x1="239.6" y1="3787.5" x2="239.6" y2="3795.5" stroke="#5a5a5a" stroke-width="2.5"/>
<line x1="261.9" y1="3787.5" x2="261.9" y2="3795.5" stroke="#5a5a5a" stroke-width="2.5"/>
<line x1="284.2" y1="3787.5" x2="284.2" y2="3795.5" stroke="#5a5a5a" stroke-width="2.5"/>
<line x1="306.5" y1="3787.5" x2="306.5" y2="3800.5" stroke="#5a5a5a" stroke-width="2.5"/>
<line x1="328.8" y1="3787.5" x2="328.8" y2="3795.5" stroke="#5a5a5a" stroke-width="2.5"/>
<line x1="351.1" y1="3787.5" x2="351.1" y2="3795.5" stroke="#5a5a5a" stroke-width="2.5"/>
<line x1="373.3" y1="3787.5" x2="373.3" y2="3795.5" stroke="#5a5a5a" stroke-width="2.5"/>
<line x1="395.6" y1="3787.5" x2="395.6" y2="3795.5" stroke="#5a5a5a" stroke-width="2.5"/>
<line x1="417.9" y1="3787.5" x2="417.9" y2="3800.5" stroke="#5a5a5a" stroke-width="2.5"/>
<line x1="440.2" y1="3787.5" x2="440.2" y2="3795.5" stroke="#5a5a5a" stroke-width="2.5"/>
<line x1="462.5" y1="3787.5" x2="462.5" y2="3795.5" stroke="#5a5a5a" stroke-width="2.5"/>
<line x1="484.8" y1="3787.5" x2="484.8" y2="3795.5" stroke="#5a5a5a" stroke-width="2.5"/>
<line x1="507.1" y1="3787.5" x2="507.1" y2="3795.5" stroke="#5a5a5a" stroke-width="2.5"/>
<line x1="529.4" y1="3787.5" x2="529.4" y2="3800.5" stroke="#5a5a5a" stroke-width="2.5"/>
<line x1="551.7" y1="3787.5" x2="551.7" y2="3795.5" stroke="#5a5a5a" stroke-width="2.5"/>
<line x1="574.0" y1="3787.5" x2="574.0" y2="3795.5" stroke="#5a5a5a" stroke-width="2.5"/>
<line x1="596.3" y1="3787.5" x2="596.3" y2="3795.5" stroke="#5a5a5a" stroke-width="2.5"/>
<line x1="618.6" y1="3787.5" x2="618.6" y2="3795.5" stroke="#5a5a5a" stroke-width="2.5"/>
<line x1="640.9" y1="3787.5" x2="640.9" y2="3800.5" stroke="#5a5a5a" stroke-width="2.5"/>
<line x1="663.2" y1="3787.5" x2="663.2" y2="3795.5" stroke="#5a5a5a" stroke-width="2.5"/>
<line x1="685.4" y1="3787.5" x2="685.4" y2="3795.5" stroke="#5a5a5a" stroke-width="2.5"/>
<line x1="707.7" y1="3787.5" x2="707.7" y2="3795.5" stroke="#5a5a5a" stroke-width="2.5"/>
<line x1="730.0" y1="3787.5" x2="730.0" y2="3795.5" stroke="#5a5a5a" stroke-width="2.5"/>
<line x1="752.3" y1="3787.5" x2="752.3" y2="3800.5" stroke="#5a5a5a" stroke-width="2.5"/>
<line x1="774.6" y1="3787.5" x2="774.6" y2="3795.5" stroke="#5a5a5a" stroke-width="2.5"/>
<line x1="796.9" y1="3787.5" x2="796.9" y2="3795.5" stroke="#5a5a5a" stroke-width="2.5"/>
<line x1="819.2" y1="3787.5" x2="819.2" y2="3795.5" stroke="#5a5a5a" stroke-width="2.5"/>
<line x1="841.5" y1="3787.5" x2="841.5" y2="3795.5" stroke="#5a5a5a" stroke-width="2.5"/>
<line x1="863.8" y1="3787.5" x2="863.8" y2="3800.5" stroke="#5a5a5a" stroke-width="2.5"/>
<line x1="886.1" y1="3787.5" x2="886.1" y2="3795.5" stroke="#5a5a5a" stroke-width="2.5"/>
<line x1="908.4" y1="3787.5" x2="908.4" y2="3795.5" stroke="#5a5a5a" stroke-width="2.5"/>
<line x1="930.7" y1="3787.5" x2="930.7" y2="3795.5" stroke="#5a5a5a" stroke-width="2.5"/>
<line x1="953.0" y1="3787.5" x2="953.0" y2="3795.5" stroke="#5a5a5a" stroke-width="2.5"/>
<line x1="975.3" y1="3787.5" x2="975.3" y2="3800.5" stroke="#5a5a5a" stroke-width="2.5"/>
<line x1="997.5" y1="3787.5" x2="997.5" y2="3795.5" stroke="#5a5a5a" stroke-width="2.5"/>
<line x1="1019.8" y1="3787.5" x2="1019.8" y2="3795.5" stroke="#5a5a5a" stroke-width="2.5"/>
<line x1="1042.1" y1="3787.5" x2="1042.1" y2="3795.5" stroke="#5a5a5a" stroke-width="2.5"/>
<line x1="1064.4" y1="3787.5" x2="1064.4" y2="3795.5" stroke="#5a5a5a" stroke-width="2.5"/>
<line x1="1086.7" y1="3787.5" x2="1086.7" y2="3800.5" stroke="#5a5a5a" stroke-width="2.5"/>
<line x1="1109.0" y1="3787.5" x2="1109.0" y2="3795.5" stroke="#5a5a5a" stroke-width="2.5"/>
<line x1="1131.3" y1="3787.5" x2="1131.3" y2="3795.5" stroke="#5a5a5a" stroke-width="2.5"/>
<line x1="1153.6" y1="3787.5" x2="1153.6" y2="3795.5" stroke="#5a5a5a" stroke-width="2.5"/>
<line x1="1175.9" y1="3787.5" x2="1175.9" y2="3795.5" stroke="#5a5a5a" stroke-width="2.5"/>
<line x1="1198.2" y1="3787.5" x2="1198.2" y2="3800.5" stroke="#5a5a5a" stroke-width="2.5"/>
<line x1="1220.5" y1="3787.5" x2="1220.5" y2="3795.5" stroke="#5a5a5a" stroke-width="2.5"/>
<line x1="1242.8" y1="3787.5" x2="1242.8" y2="3795.5" stroke="#5a5a5a" stroke-width="2.5"/>
<line x1="1265.1" y1="3787.5" x2="1265.1" y2="3795.5" stroke="#5a5a5a" stroke-width="2.5"/>
<line x1="1287.4" y1="3787.5" x2="1287.4" y2="3795.5" stroke="#5a5a5a" stroke-width="2.5"/>
<line x1="1309.6" y1="3787.5" x2="1309.6" y2="3800.5" stroke="#5a5a5a" stroke-width="2.5"/>
<line x1="1331.9" y1="3787.5" x2="1331.9" y2="3795.5" stroke="#5a5a5a" stroke-width="2.5"/>
<line x1="1354.2" y1="3787.5" x2="1354.2" y2="3795.5" stroke="#5a5a5a" stroke-width="2.5"/>
<line x1="1376.5" y1="3787.5" x2="1376.5" y2="3795.5" stroke="#5a5a5a" stroke-width="2.5"/>
<line x1="1398.8" y1="3787.5" x2="1398.8" y2="3795.5" stroke="#5a5a5a" stroke-width="2.5"/>
<line x1="1421.1" y1="3787.5" x2="1421.1" y2="3800.5" stroke="#5a5a5a" stroke-width="2.5"/>
<line x1="1443.4" y1="3787.5" x2="1443.4" y2="3795.5" stroke="#5a5a5a" stroke-width="2.5"/>
<line x1="1465.7" y1="3787.5" x2="1465.7" y2="3795.5" stroke="#5a5a5a" stroke-width="2.5"/>
<line x1="1488.0" y1="3787.5" x2="1488.0" y2="3795.5" stroke="#5a5a5a" stroke-width="2.5"/>
<line x1="1510.3" y1="3787.5" x2="1510.3" y2="3795.5" stroke="#5a5a5a" stroke-width="2.5"/>
<line x1="1532.6" y1="3787.5" x2="1532.6" y2="3800.5" stroke="#5a5a5a" stroke-width="2.5"/>
<line x1="1554.9" y1="3787.5" x2="1554.9" y2="3795.5" stroke="#5a5a5a" stroke-width="2.5"/>
<line x1="1577.2" y1="3787.5" x2="1577.2" y2="3795.5" stroke="#5a5a5a" stroke-width="2.5"/>
<line x1="1599.5" y1="3787.5" x2="1599.5" y2="3795.5" stroke="#5a5a5a" stroke-width="2.5"/>
<line x1="1621.8" y1="3787.5" x2="1621.8" y2="3795.5" stroke="#5a5a5a" stroke-width="2.5"/>
<line x1="1644.0" y1="3787.5" x2="1644.0" y2="3800.5" stroke="#5a5a5a" stroke-width="2.5"/>
<line x1="1666.3" y1="3787.5" x2="1666.3" y2="3795.5" stroke="#5a5a5a" stroke-width="2.5"/>
<line x1="1688.6" y1="3787.5" x2="1688.6" y2="3795.5" stroke="#5a5a5a" stroke-width="2.5"/>
<line x1="1710.9" y1="3787.5" x2="1710.9" y2="3795.5" stroke="#5a5a5a" stroke-width="2.5"/>
<line x1="1733.2" y1="3787.5" x2="1733.2" y2="3795.5" stroke="#5a5a5a" stroke-width="2.5"/>
<line x1="1755.5" y1="3787.5" x2="1755.5" y2="3800.5" stroke="#5a5a5a" stroke-width="2.5"/>
<line x1="1777.8" y1="3787.5" x2="1777.8" y2="3795.5" stroke="#5a5a5a" stroke-width="2.5"/>
<line x1="1800.1" y1="3787.5" x2="1800.1" y2="3795.5" stroke="#5a5a5a" stroke-width="2.5"/>
<line x1="1822.4" y1="3787.5" x2="1822.4" y2="3795.5" stroke="#5a5a5a" stroke-width="2.5"/>
<line x1="1844.7" y1="3787.5" x2="1844.7" y2="3795.5" stroke="#5a5a5a" stroke-width="2.5"/>
<line x1="1869.0" y1="3784.5" x2="1869.0" y2="3799.5" stroke="#8a8a8a" stroke-width="2.5"/>
<rect x="139.8" y="3040" width="7.00" height="379.00" fill="#000"/>
<rect x="141.6" y="3419" width="6.90" height="375.00" fill="#000"/>
<text transform="translate(73.64,3111.65) scale(1.0052,1)" font-family="'Liberation Serif',serif" font-weight="bold" font-size="35.57" fill="#1a1a1a" >100</text>
<text transform="translate(85.28,3249.65) scale(1.0324,1)" font-family="'Liberation Serif',serif" font-weight="bold" font-size="35.57" fill="#1a1a1a" >80</text>
<text transform="translate(88.84,3376.25) scale(0.9547,1)" font-family="'Liberation Serif',serif" font-weight="bold" font-size="35.57" fill="#1a1a1a" >60</text>
<text transform="translate(87.82,3516.85) scale(0.9844,1)" font-family="'Liberation Serif',serif" font-weight="bold" font-size="35.57" fill="#1a1a1a" >40</text>
<text transform="translate(83.33,3650.45) scale(0.9872,1)" font-family="'Liberation Serif',serif" font-weight="bold" font-size="35.57" fill="#1a1a1a" >20</text>
<text transform="translate(104.12,3778.65) scale(0.9420,1)" font-family="'Liberation Serif',serif" font-weight="bold" font-size="35.57" fill="#1a1a1a" >0</text>
<text transform="translate(171.05,3835.94) scale(0.9750,1)" font-family="'Liberation Serif',serif" font-weight="bold" font-size="37.05" fill="#111" >50</text>
<text transform="translate(379.89,3835.94) scale(0.9825,1)" font-family="'Liberation Serif',serif" font-weight="bold" font-size="37.05" fill="#111" >150</text>
<text transform="translate(615.04,3835.94) scale(0.9410,1)" font-family="'Liberation Serif',serif" font-weight="bold" font-size="37.05" fill="#111" >250</text>
<text transform="translate(834.67,3835.94) scale(0.9532,1)" font-family="'Liberation Serif',serif" font-weight="bold" font-size="37.05" fill="#111" >350</text>
<text transform="translate(1062.43,3835.94) scale(0.9244,1)" font-family="'Liberation Serif',serif" font-weight="bold" font-size="37.05" fill="#111" >450</text>
<text transform="translate(1284.56,3836.94) scale(0.9682,1)" font-family="'Liberation Serif',serif" font-weight="bold" font-size="37.05" fill="#111" >550</text>
<text transform="translate(1512.78,3836.94) scale(0.9642,1)" font-family="'Liberation Serif',serif" font-weight="bold" font-size="37.05" fill="#111" >650</text>
<text transform="translate(1727.99,3834.94) scale(0.9511,1)" font-family="'Liberation Serif',serif" font-weight="bold" font-size="37.05" fill="#111" >750</text>
<text transform="translate(1838.37,3833.22) scale(0.9440,1)" font-family="'Liberation Sans',Arial,sans-serif" font-weight="normal" font-size="28.95" fill="#444" stroke="#444" stroke-width="0.5">°C</text>
<rect x="514" y="3808" width="12.00" height="2.00" fill="#b0b0b0"/>
<text transform="translate(100.13,3064.84) scale(0.9005,1)" font-family="'Liberation Sans',Arial,sans-serif" font-weight="normal" font-size="27.15" fill="#ee77ee" >%</text>
<text transform="translate(1346.76,3094.72) scale(0.9618,1)" font-family="'Liberation Serif',serif" font-weight="bold" font-size="48.31" fill="#111" >(d)</text>
<text transform="translate(84.12,3465.68) rotate(-90) scale(1.0669,1)" font-family="'Liberation Serif',serif" font-weight="bold" font-size="44.99" fill="#111">Wt.%</text>
<text transform="translate(863.42,3900.21) scale(0.8768,1)" font-family="'Liberation Serif',serif" font-weight="bold" font-size="49.30" fill="#111" >Temperature (</text>
<text transform="translate(1127.79,3883.99) scale(1.3113,1)" font-family="'Liberation Serif',serif" font-weight="bold" font-size="32.16" fill="#111" >0</text>
<text transform="translate(1146.96,3900.51) scale(0.9017,1)" font-family="'Liberation Serif',serif" font-weight="bold" font-size="47.86" fill="#111" >C)</text>
<text transform="translate(46.51,3883.23) scale(0.9968,1)" font-family="'Liberation Sans',Arial,sans-serif" font-weight="normal" font-size="28.05" fill="#333" stroke="#333" stroke-width="0.9">Lab:</text>
<text transform="translate(110.41,3883.50) scale(0.8789,1)" font-family="'Liberation Sans',Arial,sans-serif" font-weight="normal" font-size="29.94" fill="#222" stroke="#222" stroke-width="1.1">METTLER</text>
<text transform="translate(1679.65,3882.70) scale(0.8542,1)" font-family="'Liberation Sans',Arial,sans-serif" font-weight="bold" font-size="30.37" fill="#333" >S</text>
<text transform="translate(1697.54,3883.00) scale(0.8243,1)" font-family="'Liberation Sans',Arial,sans-serif" font-weight="bold" font-size="31.25" fill="#e0262c" >TA</text>
<text transform="translate(1730.66,3883.00) scale(0.7382,1)" font-family="'Liberation Sans',Arial,sans-serif" font-weight="bold" font-size="31.25" fill="#333" >R</text>
<text transform="translate(1748.48,3876.59) scale(0.8251,1)" font-family="'Liberation Sans',Arial,sans-serif" font-weight="bold" font-size="21.94" fill="#e0262c" >*</text>
<text transform="translate(1767.56,3882.70) scale(0.9171,1)" font-family="'Liberation Sans',Arial,sans-serif" font-weight="bold" font-size="30.37" fill="#333" >SW</text>
<text transform="translate(1821.05,3882.70) scale(0.8876,1)" font-family="'Liberation Sans',Arial,sans-serif" font-weight="bold" font-size="30.37" fill="#333" >10.00</text>
<path d="M145.0,3100.0 L148.0,3100.1 L151.0,3100.2 L154.0,3100.3 L157.0,3100.4 L160.0,3100.5 L163.0,3100.6 L166.0,3100.7 L169.0,3100.8 L172.0,3100.9 L175.0,3101.0 L178.0,3101.1 L181.0,3101.2 L184.0,3101.3 L187.0,3101.4 L190.0,3101.5 L193.0,3101.6 L196.0,3101.7 L199.0,3101.8 L202.0,3101.9 L205.0,3102.0 L208.0,3102.1 L211.0,3102.2 L214.0,3102.3 L217.0,3102.4 L220.0,3102.5 L223.0,3102.6 L226.0,3102.7 L229.0,3102.8 L232.0,3102.9 L235.0,3103.0 L238.0,3103.1 L241.0,3103.2 L244.0,3103.3 L247.0,3103.4 L250.0,3103.5 L253.0,3103.6 L256.0,3103.7 L259.0,3103.8 L262.0,3103.9 L265.0,3104.0 L268.0,3104.1 L271.0,3104.2 L274.0,3104.4 L277.0,3104.5 L280.0,3104.6 L283.0,3104.7 L286.0,3104.8 L289.0,3104.9 L292.0,3105.0 L295.0,3105.1 L298.0,3105.2 L301.0,3105.3 L304.0,3105.4 L307.0,3105.5 L310.0,3105.6 L313.0,3105.7 L316.0,3105.8 L319.0,3105.9 L322.0,3106.0 L325.0,3106.1 L328.0,3106.2 L331.0,3106.3 L334.0,3106.4 L337.0,3106.5 L340.0,3106.6 L343.0,3106.8 L346.0,3106.9 L349.0,3107.0 L352.0,3107.1 L355.0,3107.2 L358.0,3107.3 L361.0,3107.4 L364.0,3107.5 L367.0,3107.6 L370.0,3107.7 L373.0,3107.8 L376.0,3107.9 L379.0,3108.0 L382.0,3108.1 L385.0,3108.2 L388.0,3108.3 L391.0,3108.5 L394.0,3108.6 L397.0,3108.7 L400.0,3108.8 L403.0,3108.9 L406.0,3109.0 L409.0,3109.1 L412.0,3109.2 L415.0,3109.3 L418.0,3109.4 L421.0,3109.5 L424.0,3109.6 L427.0,3109.7 L430.0,3109.9 L433.0,3110.0 L436.0,3110.1 L439.0,3110.2 L442.0,3110.3 L445.0,3110.4 L448.0,3110.6 L451.0,3110.7 L454.0,3110.8 L457.0,3110.9 L460.0,3111.0 L463.0,3111.2 L466.0,3111.3 L469.0,3111.4 L472.0,3111.6 L475.0,3111.7 L478.0,3111.8 L481.0,3111.9 L484.0,3112.1 L487.0,3112.2 L490.0,3112.3 L493.0,3112.5 L496.0,3112.6 L499.0,3112.7 L502.0,3112.9 L505.0,3113.0 L508.0,3113.2 L511.0,3113.3 L514.0,3113.4 L517.0,3113.6 L520.0,3113.7 L523.0,3113.8 L526.0,3114.0 L529.0,3114.1 L532.0,3114.2 L535.0,3114.4 L538.0,3114.5 L541.0,3114.7 L544.0,3114.8 L547.0,3114.9 L550.0,3115.1 L553.0,3115.2 L556.0,3115.3 L559.0,3115.5 L562.0,3115.6 L565.0,3115.7 L568.0,3115.9 L571.0,3116.0 L574.0,3116.1 L577.0,3116.2 L580.0,3116.4 L583.0,3116.5 L586.0,3116.6 L589.0,3116.7 L592.0,3116.9 L595.0,3117.0 L598.0,3117.1 L601.0,3117.2 L604.0,3117.3 L607.0,3117.5 L610.0,3117.6 L613.0,3117.7 L616.0,3117.8 L619.0,3117.9 L622.0,3118.0 L625.0,3118.1 L628.0,3118.2 L631.0,3118.3 L634.0,3118.4 L637.0,3118.5 L640.0,3118.6 L643.0,3118.7 L646.0,3118.8 L649.0,3118.9 L652.0,3119.0 L655.0,3119.1 L658.0,3119.1 L661.0,3119.2 L664.0,3119.3 L667.0,3119.4 L670.0,3119.4 L673.0,3119.5 L676.0,3119.6 L679.0,3119.6 L682.0,3119.7 L685.0,3119.8 L688.0,3119.8 L691.0,3119.9 L694.0,3119.9 L697.0,3120.0 L700.0,3120.0 L703.0,3120.0 L706.0,3120.1 L709.0,3120.1 L712.0,3120.1 L715.0,3120.2 L718.0,3120.2 L721.0,3120.2 L724.0,3120.2 L727.0,3120.3 L730.0,3120.3 L733.0,3120.3 L736.0,3120.3 L739.0,3120.4 L742.0,3120.4 L745.0,3120.5 L748.0,3120.5 L751.0,3120.6 L754.0,3120.6 L757.0,3120.7 L760.0,3120.7 L763.0,3120.8 L766.0,3120.9 L769.0,3120.9 L772.0,3121.0 L775.0,3121.1 L778.0,3121.1 L781.0,3121.2 L784.0,3121.3 L787.0,3121.3 L790.0,3121.4 L793.0,3121.5 L796.0,3121.6 L799.0,3121.7 L802.0,3121.8 L805.0,3121.9 L808.0,3122.0 L811.0,3122.1 L814.0,3122.2 L817.0,3122.3 L820.0,3122.4 L823.0,3122.5 L826.0,3122.6 L829.0,3122.7 L832.0,3122.8 L835.0,3122.9 L838.0,3123.0 L841.0,3123.1 L844.0,3123.3 L847.0,3123.4 L850.0,3123.5 L853.0,3123.6 L856.0,3123.8 L859.0,3123.9 L862.0,3124.0 L865.0,3124.2 L868.0,3124.3 L871.0,3124.4 L874.0,3124.6 L877.0,3124.7 L880.0,3124.9 L883.0,3125.0 L886.0,3125.2 L889.0,3125.3 L892.0,3125.5 L895.0,3125.6 L898.0,3125.8 L901.0,3126.0 L904.0,3126.1 L907.0,3126.3 L910.0,3126.5 L913.0,3126.6 L916.0,3126.8 L919.0,3127.0 L922.0,3127.2 L925.0,3127.4 L928.0,3127.5 L931.0,3127.7 L934.0,3127.9 L937.0,3128.1 L940.0,3128.3 L943.0,3128.5 L946.0,3128.7 L949.0,3128.9 L952.0,3129.1 L955.0,3129.3 L958.0,3129.5 L959.7,3129.6" fill="none" stroke="#c8282e" stroke-width="5.5" stroke-linejoin="round" stroke-linecap="round"/>
<path d="M730.0,3124.0 L733.0,3124.0 L736.0,3124.0 L739.0,3124.1 L742.0,3124.2 L745.0,3124.2 L748.0,3124.4 L751.0,3124.5 L754.0,3124.6 L757.0,3124.8 L760.0,3125.0 L763.0,3125.1 L766.0,3125.4 L769.0,3125.6 L772.0,3125.8 L775.0,3126.1 L778.0,3126.3 L781.0,3126.6 L784.0,3126.9 L787.0,3127.2 L790.0,3127.5 L793.0,3127.8 L796.0,3128.1 L799.0,3128.5 L802.0,3128.8 L805.0,3129.2 L808.0,3129.5 L811.0,3129.9 L814.0,3130.3 L817.0,3130.7 L820.0,3131.1 L823.0,3131.5 L826.0,3131.9 L829.0,3132.3 L832.0,3132.7 L835.0,3133.2 L838.0,3133.7 L841.0,3134.3 L844.0,3134.9 L847.0,3135.6 L850.0,3136.4 L853.0,3137.2 L856.0,3138.1 L859.0,3139.0 L862.0,3139.9 L865.0,3140.9 L868.0,3141.9 L871.0,3142.9 L874.0,3144.0 L877.0,3145.0 L880.0,3146.1 L883.0,3147.2 L886.0,3148.3 L889.0,3149.4 L892.0,3150.6 L895.0,3151.7 L898.0,3152.8 L901.0,3153.9 L904.0,3155.0 L907.0,3156.1 L910.0,3157.3 L913.0,3158.5 L916.0,3159.7 L919.0,3160.9 L922.0,3162.2 L925.0,3163.5 L927.8,3164.7 L930.5,3165.9 L933.2,3167.2 L936.0,3168.4 L938.8,3169.7 L941.5,3171.0 L944.2,3172.3 L947.0,3173.6 L949.8,3174.9 L952.5,3176.2 L955.2,3177.5 L958.0,3178.8 L960.8,3180.2 L963.5,3181.5 L966.2,3182.8 L969.0,3184.1 L971.8,3185.5 L974.5,3186.8 L977.2,3188.1 L980.0,3189.4 L982.8,3190.7 L985.5,3192.0 L988.2,3193.3 L991.0,3194.6 L993.8,3196.0 L996.5,3197.3 L999.2,3198.7 L1002.0,3200.1 L1004.8,3201.5 L1007.5,3202.9 L1010.2,3204.3 L1013.0,3205.6 L1015.8,3207.0 L1018.5,3208.4 L1021.2,3209.7 L1024.0,3211.0 L1026.8,3212.3 L1029.5,3213.6 L1032.2,3214.9 L1035.2,3216.2 L1038.2,3217.4 L1041.2,3218.6 L1044.2,3219.8 L1047.2,3221.0 L1050.2,3222.1 L1053.2,3223.2 L1056.2,3224.3 L1059.2,3225.4 L1062.2,3226.5 L1065.2,3227.5 L1068.2,3228.6 L1071.2,3229.6 L1074.2,3230.6 L1077.2,3231.6 L1080.2,3232.6 L1083.2,3233.6 L1086.2,3234.5 L1089.2,3235.5 L1092.2,3236.5 L1095.2,3237.4 L1098.2,3238.3 L1101.2,3239.3 L1104.2,3240.2 L1107.2,3241.1 L1110.2,3242.1 L1113.2,3243.0 L1116.2,3243.9 L1119.2,3244.8 L1122.2,3245.8 L1125.2,3246.7 L1128.2,3247.6 L1131.2,3248.5 L1134.2,3249.4 L1137.2,3250.4 L1140.2,3251.3 L1143.2,3252.1 L1146.2,3253.0 L1149.2,3253.9 L1152.2,3254.8 L1155.2,3255.6 L1158.2,3256.5 L1161.2,3257.3 L1164.2,3258.1 L1167.2,3259.0 L1170.2,3259.8 L1173.2,3260.5 L1176.2,3261.3 L1179.2,3262.1 L1182.2,3262.8 L1185.2,3263.5 L1188.2,3264.2 L1191.2,3264.9 L1194.2,3265.6 L1197.2,3266.3 L1200.2,3267.0 L1203.2,3267.7 L1206.2,3268.4 L1209.2,3269.0 L1212.2,3269.7 L1215.2,3270.3 L1218.2,3271.0 L1221.2,3271.6 L1224.2,3272.2 L1227.2,3272.8 L1230.2,3273.4 L1233.2,3273.9 L1236.2,3274.4 L1239.2,3274.9 L1242.2,3275.4 L1245.2,3275.9 L1248.2,3276.4 L1251.2,3276.8 L1254.2,3277.2 L1257.2,3277.6 L1260.2,3277.9 L1263.2,3278.3 L1266.2,3278.7 L1269.2,3279.0 L1272.2,3279.4 L1275.2,3279.7 L1278.2,3280.0 L1281.2,3280.3 L1284.2,3280.6 L1287.2,3280.9 L1290.2,3281.2 L1293.2,3281.4 L1296.2,3281.7 L1299.2,3281.9 L1302.2,3282.2 L1305.2,3282.4 L1308.2,3282.7 L1311.2,3282.9 L1314.2,3283.2 L1317.2,3283.4 L1320.2,3283.6 L1323.2,3283.9 L1326.2,3284.1 L1329.2,3284.3 L1332.2,3284.6 L1335.2,3284.8 L1338.2,3285.0 L1341.2,3285.2 L1344.2,3285.5 L1347.2,3285.7 L1350.2,3285.9 L1353.2,3286.1 L1356.2,3286.3 L1359.2,3286.5 L1362.2,3286.7 L1365.2,3287.0 L1368.2,3287.2 L1371.2,3287.4 L1374.2,3287.6 L1377.2,3287.8 L1380.2,3288.0 L1383.2,3288.2 L1386.2,3288.4 L1389.2,3288.6 L1392.2,3288.8 L1395.2,3289.0 L1398.2,3289.1 L1401.2,3289.3 L1404.2,3289.5 L1407.2,3289.7 L1410.2,3289.9 L1413.2,3290.1 L1416.2,3290.3 L1419.2,3290.4 L1422.2,3290.6 L1425.2,3290.8 L1428.2,3291.0 L1431.2,3291.2 L1434.2,3291.3 L1437.2,3291.5 L1440.2,3291.7 L1443.2,3291.9 L1446.2,3292.0 L1449.2,3292.2 L1452.2,3292.4 L1455.2,3292.5 L1458.2,3292.7 L1461.2,3292.9 L1464.2,3293.0 L1467.2,3293.2 L1470.2,3293.4 L1473.2,3293.5 L1476.2,3293.7 L1479.2,3293.8 L1482.2,3294.0 L1485.2,3294.2 L1488.2,3294.3 L1491.2,3294.5 L1494.2,3294.6 L1497.2,3294.8 L1500.2,3294.9 L1503.2,3295.1 L1506.2,3295.3 L1509.2,3295.4 L1512.2,3295.6 L1515.2,3295.7 L1518.2,3295.9 L1521.2,3296.0 L1524.2,3296.2 L1527.2,3296.3 L1530.2,3296.5 L1533.2,3296.6 L1536.2,3296.8 L1539.2,3296.9 L1542.2,3297.1 L1545.2,3297.2 L1548.2,3297.3 L1551.2,3297.5 L1554.2,3297.6 L1557.2,3297.8 L1560.2,3297.9 L1563.2,3298.1 L1566.2,3298.2 L1569.2,3298.4 L1572.2,3298.5 L1575.2,3298.7 L1578.2,3298.8 L1581.2,3298.9 L1584.2,3299.1 L1587.2,3299.2 L1590.2,3299.4 L1593.2,3299.5 L1596.2,3299.7 L1599.2,3299.8 L1602.2,3299.9 L1605.2,3300.1 L1608.2,3300.2 L1611.2,3300.4 L1614.2,3300.5 L1617.2,3300.6 L1620.2,3300.8 L1623.2,3300.9 L1626.2,3301.1 L1629.2,3301.2 L1632.2,3301.3 L1635.2,3301.5 L1638.2,3301.6 L1641.2,3301.7 L1644.2,3301.9 L1647.2,3302.0 L1650.2,3302.2 L1653.2,3302.3 L1656.2,3302.4 L1659.2,3302.6 L1662.2,3302.7 L1665.2,3302.8 L1668.2,3303.0 L1671.2,3303.1 L1674.2,3303.2 L1677.2,3303.3 L1680.2,3303.5 L1683.2,3303.6 L1686.2,3303.7 L1689.2,3303.9 L1692.2,3304.0 L1695.2,3304.1 L1698.2,3304.2 L1701.2,3304.4 L1704.2,3304.5 L1707.2,3304.6 L1710.2,3304.7 L1713.2,3304.9 L1716.2,3305.0 L1719.2,3305.1 L1722.2,3305.2 L1725.2,3305.4 L1728.2,3305.5 L1731.2,3305.6 L1734.2,3305.7 L1737.2,3305.8 L1740.2,3306.0 L1743.2,3306.1 L1746.2,3306.2 L1749.2,3306.3 L1752.2,3306.4 L1755.2,3306.5 L1758.2,3306.7 L1761.2,3306.8 L1764.2,3306.9 L1767.2,3307.0 L1770.2,3307.1 L1773.2,3307.2 L1776.2,3307.3 L1779.2,3307.5 L1782.2,3307.6 L1785.2,3307.7 L1788.2,3307.8 L1791.2,3307.9 L1794.2,3308.0 L1797.2,3308.1 L1800.2,3308.2 L1803.2,3308.3 L1806.2,3308.4 L1809.2,3308.5 L1812.2,3308.6 L1815.2,3308.7 L1818.2,3308.8 L1821.2,3308.9 L1824.2,3309.0 L1827.2,3309.1 L1830.2,3309.2 L1833.2,3309.3 L1836.2,3309.4 L1839.2,3309.5 L1842.2,3309.6 L1845.2,3309.7 L1848.2,3309.8 L1851.2,3309.9 L1854.2,3310.0 L1857.2,3310.1 L1860.2,3310.2 L1863.2,3310.3 L1866.2,3310.4 L1869.2,3310.5 L1872.2,3310.5 L1875.2,3310.6 L1878.2,3310.7 L1881.2,3310.8 L1884.2,3310.9 L1887.2,3311.0 L1888.0,3311.0" fill="none" stroke="#22b04a" stroke-width="10" stroke-linejoin="round" stroke-linecap="butt"/>
<path d="M713.7,3124.4 L716.7,3124.5 L719.7,3124.6 L722.7,3124.8 L725.7,3124.9 L728.7,3125.1 L731.7,3125.4 L734.7,3125.6 L737.6,3125.9 L740.6,3126.2 L743.6,3126.5 L746.6,3126.9 L749.6,3127.3 L752.5,3127.7 L755.5,3128.1 L758.5,3128.5 L761.4,3129.0 L764.4,3129.5 L767.4,3130.0 L770.3,3130.5 L773.3,3131.0 L776.2,3131.6 L779.2,3132.1 L782.1,3132.7 L785.1,3133.3 L788.0,3133.9 L790.9,3134.5 L793.9,3135.1 L796.8,3135.7 L799.7,3136.3 L802.7,3137.0 L805.6,3137.6 L808.5,3138.3 L811.5,3138.9 L814.4,3139.6 L817.3,3140.2 L820.2,3140.9 L823.1,3141.7 L826.0,3142.4 L828.9,3143.2 L831.8,3144.0 L834.7,3144.9 L837.5,3145.8 L840.4,3146.8 L843.2,3147.7 L846.0,3148.7 L848.9,3149.8 L851.7,3150.9 L854.5,3151.9 L857.2,3153.1 L860.0,3154.2 L862.8,3155.4 L865.5,3156.5 L868.3,3157.7 L871.1,3158.9 L873.8,3160.1 L876.5,3161.3 L879.3,3162.5 L882.0,3163.8 L884.8,3165.0 L887.5,3166.3 L890.2,3167.5 L892.9,3168.8 L895.6,3170.2 L898.3,3171.5 L900.9,3172.9 L903.6,3174.3 L906.2,3175.8 L908.8,3177.2 L911.4,3178.7 L914.0,3180.2 L916.6,3181.7 L919.2,3183.2 L921.8,3184.8 L924.4,3186.3 L926.9,3187.8 L929.5,3189.4 L932.1,3190.9 L934.7,3192.5 L937.2,3194.0 L939.8,3195.5 L942.4,3197.1 L945.0,3198.6 L947.6,3200.1 L950.2,3201.6 L952.8,3203.1 L955.4,3204.5 L958.0,3206.0 L960.7,3207.4 L963.3,3208.8 L966.0,3210.1 L968.7,3211.5 L971.4,3212.8 L974.1,3214.1 L976.8,3215.4 L979.5,3216.7 L982.2,3218.0 L984.9,3219.3 L987.6,3220.7 L990.3,3222.0 L993.0,3223.3 L995.6,3224.7 L998.3,3226.1 L1000.9,3227.5 L1003.6,3228.9 L1006.2,3230.4 L1008.8,3231.9 L1011.3,3233.4 L1013.9,3235.0 L1016.4,3236.7 L1018.9,3238.3 L1021.3,3240.0 L1023.8,3241.8 L1026.2,3243.6 L1028.5,3245.5 L1030.9,3247.3 L1033.2,3249.3 L1035.4,3251.2 L1037.6,3253.3 L1039.8,3255.3 L1042.0,3257.4 L1044.1,3259.5 L1046.2,3261.6 L1048.3,3263.8 L1050.3,3266.0 L1052.3,3268.3 L1054.2,3270.6 L1056.1,3272.9 L1057.9,3275.3 L1059.7,3277.7 L1061.4,3280.2 L1063.1,3282.6 L1064.7,3285.1 L1066.4,3287.7 L1068.0,3290.2 L1069.5,3292.7 L1071.1,3295.3 L1072.6,3297.9 L1074.1,3300.5 L1075.5,3303.2 L1076.9,3305.8 L1078.2,3308.5 L1079.6,3311.2 L1080.9,3313.9 L1082.2,3316.6 L1083.5,3319.3 L1084.8,3322.0 L1086.2,3324.6 L1087.6,3327.3 L1088.9,3330.0 L1090.4,3332.6 L1091.8,3335.2 L1093.2,3337.9 L1094.7,3340.5 L1096.1,3343.2 L1097.5,3345.8 L1098.9,3348.5 L1100.2,3351.2 L1101.4,3353.9 L1102.7,3356.6 L1103.9,3359.4 L1105.0,3362.2 L1106.1,3365.0 L1107.1,3367.8 L1108.1,3370.6 L1109.1,3373.4 L1110.1,3376.3 L1111.0,3379.1 L1111.9,3382.0 L1112.8,3384.8 L1113.7,3387.7 L1114.6,3390.6 L1115.5,3393.4 L1116.3,3396.3 L1117.2,3399.2 L1118.0,3402.1 L1118.8,3405.0 L1119.6,3407.9 L1120.3,3410.8 L1121.1,3413.7 L1121.8,3416.6 L1122.6,3419.5 L1123.3,3422.4 L1124.1,3425.3 L1124.8,3428.2 L1125.6,3431.1 L1126.4,3434.0 L1127.2,3436.9 L1128.0,3439.8 L1128.8,3442.6 L1129.7,3445.5 L1130.5,3448.4 L1131.4,3451.3 L1132.3,3454.1 L1133.2,3457.0 L1134.1,3459.9 L1135.0,3462.7 L1135.9,3465.6 L1136.8,3468.4 L1137.8,3471.3 L1138.7,3474.1 L1139.6,3477.0 L1140.6,3479.8 L1141.5,3482.7 L1142.4,3485.5 L1143.3,3488.4 L1144.3,3491.2 L1145.2,3494.1 L1146.1,3496.9 L1147.1,3499.8 L1148.0,3502.7 L1148.9,3505.5 L1149.9,3508.4 L1150.8,3511.2 L1151.7,3514.1 L1152.7,3516.9 L1153.6,3519.8 L1154.6,3522.6 L1155.5,3525.4 L1156.5,3528.3 L1157.4,3531.1 L1158.4,3534.0 L1159.3,3536.8 L1160.3,3539.7 L1161.2,3542.5 L1162.2,3545.4 L1163.1,3548.2 L1164.1,3551.0 L1165.0,3553.9 L1166.0,3556.7 L1166.9,3559.6 L1167.9,3562.4 L1168.8,3565.3 L1169.8,3568.1 L1170.7,3571.0 L1171.7,3573.8 L1172.7,3576.6 L1173.6,3579.5 L1174.6,3582.3 L1175.7,3585.1 L1176.7,3587.9 L1177.8,3590.7 L1178.9,3593.5 L1180.0,3596.3 L1181.1,3599.1 L1182.3,3601.9 L1183.5,3604.6 L1184.7,3607.3 L1186.0,3610.1 L1187.2,3612.8 L1188.5,3615.5 L1189.8,3618.2 L1191.1,3620.9 L1192.5,3623.6 L1193.8,3626.3 L1195.2,3628.9 L1196.6,3631.6 L1198.0,3634.2 L1199.4,3636.9 L1200.9,3639.5 L1202.4,3642.1 L1203.9,3644.7 L1205.4,3647.3 L1207.0,3649.8 L1208.6,3652.3 L1210.3,3654.8 L1211.9,3657.3 L1213.6,3659.8 L1215.4,3662.2 L1217.1,3664.7 L1218.9,3667.1 L1220.7,3669.5 L1222.6,3671.9 L1224.4,3674.2 L1226.3,3676.6 L1228.2,3678.9 L1230.1,3681.2 L1232.1,3683.5 L1234.0,3685.7 L1236.0,3687.9 L1238.1,3690.1 L1240.2,3692.3 L1242.3,3694.4 L1244.4,3696.5 L1246.6,3698.6 L1248.8,3700.6 L1251.1,3702.6 L1253.4,3704.5 L1255.7,3706.4 L1258.1,3708.2 L1260.5,3710.0 L1262.9,3711.7 L1265.4,3713.5 L1267.9,3715.2 L1270.4,3716.8 L1272.9,3718.4 L1275.4,3720.0 L1278.0,3721.6 L1280.6,3723.1 L1283.2,3724.6 L1285.8,3726.0 L1288.5,3727.4 L1291.1,3728.8 L1293.8,3730.2 L1296.5,3731.5 L1299.2,3732.8 L1301.9,3734.0 L1304.7,3735.2 L1307.4,3736.5 L1310.2,3737.6 L1312.9,3738.8 L1315.7,3740.0 L1318.5,3741.1 L1321.2,3742.3 L1324.0,3743.4 L1326.8,3744.5 L1329.6,3745.5 L1332.4,3746.6 L1335.3,3747.6 L1338.1,3748.6 L1340.9,3749.5 L1343.8,3750.5 L1346.7,3751.4 L1349.5,3752.2 L1352.4,3753.0 L1355.3,3753.8 L1358.2,3754.6 L1361.1,3755.3 L1364.0,3756.0 L1367.0,3756.7 L1369.9,3757.3 L1372.8,3757.9 L1375.8,3758.5 L1378.7,3759.1 L1381.6,3759.7 L1384.6,3760.3 L1387.5,3760.8 L1390.5,3761.4 L1393.4,3761.9 L1396.4,3762.5 L1399.3,3763.0 L1402.3,3763.5 L1405.2,3764.0 L1408.2,3764.5 L1411.2,3765.0 L1414.1,3765.5 L1417.1,3765.9 L1420.1,3766.4 L1423.0,3766.8 L1426.0,3767.2 L1429.0,3767.6 L1432.0,3768.0 L1434.9,3768.3 L1437.9,3768.7 L1440.9,3769.0 L1443.9,3769.3 L1446.9,3769.6 L1449.9,3769.9 L1452.8,3770.1 L1455.8,3770.4 L1458.8,3770.6 L1461.8,3770.8 L1464.8,3770.9 L1467.8,3771.1 L1470.8,3771.3 L1473.8,3771.4 L1476.8,3771.6 L1479.8,3771.7 L1482.8,3771.8 L1485.8,3772.0 L1488.8,3772.1 L1491.8,3772.2 L1494.8,3772.4 L1497.8,3772.5 L1500.8,3772.6 L1503.8,3772.7 L1506.8,3772.9 L1509.8,3773.0 L1512.8,3773.1 L1515.8,3773.2 L1518.8,3773.3 L1521.8,3773.4 L1524.8,3773.5 L1527.8,3773.6 L1530.8,3773.7 L1533.8,3773.7 L1536.8,3773.8 L1539.8,3773.9 L1542.8,3774.0 L1545.8,3774.0 L1548.8,3774.1 L1551.8,3774.2 L1554.8,3774.2 L1557.8,3774.3 L1560.7,3774.3 L1563.7,3774.3 L1566.7,3774.4 L1569.7,3774.4 L1572.7,3774.4 L1575.7,3774.5 L1578.7,3774.5 L1581.7,3774.5 L1584.7,3774.5 L1587.7,3774.5 L1590.7,3774.5 L1593.7,3774.6 L1596.7,3774.6 L1599.7,3774.6 L1602.7,3774.6 L1605.7,3774.6 L1608.7,3774.6 L1611.7,3774.6 L1614.7,3774.6 L1617.7,3774.7 L1620.7,3774.7 L1623.7,3774.7 L1626.7,3774.7 L1629.7,3774.7 L1632.7,3774.7 L1635.7,3774.7 L1638.7,3774.7 L1641.7,3774.7 L1644.7,3774.7 L1647.7,3774.8 L1650.7,3774.8 L1653.7,3774.8 L1656.7,3774.8 L1659.7,3774.8 L1662.7,3774.8 L1665.7,3774.8 L1668.7,3774.8 L1671.7,3774.8 L1674.7,3774.8 L1677.7,3774.8 L1680.7,3774.8 L1683.7,3774.9 L1686.7,3774.9 L1689.7,3774.9 L1692.7,3774.9 L1695.7,3774.9 L1698.7,3774.9 L1701.7,3774.9 L1704.7,3774.9 L1707.7,3774.9 L1710.7,3774.9 L1713.7,3774.9 L1716.7,3774.9 L1719.7,3774.9 L1722.7,3774.9 L1725.7,3774.9 L1728.7,3774.9 L1731.7,3774.9 L1734.7,3774.9 L1737.7,3775.0 L1740.7,3775.0 L1743.7,3775.0 L1746.7,3775.0 L1749.7,3775.0 L1752.7,3775.0 L1755.7,3775.0 L1758.7,3775.0 L1761.7,3775.0 L1764.7,3775.0 L1767.7,3775.0 L1770.7,3775.0 L1773.7,3775.0 L1776.7,3775.0 L1779.7,3775.0 L1782.7,3775.0 L1785.7,3775.0 L1788.7,3775.0 L1791.7,3775.0 L1794.7,3775.0 L1797.7,3775.0 L1800.7,3775.0 L1803.7,3775.0 L1806.7,3775.0 L1809.7,3775.0 L1812.7,3774.9 L1815.7,3774.9 L1818.7,3774.9 L1821.7,3774.8 L1824.7,3774.7 L1827.7,3774.6 L1830.7,3774.5 L1833.7,3774.4 L1836.7,3774.2 L1839.7,3774.1 L1842.7,3773.9 L1845.7,3773.7 L1848.7,3773.6 L1851.7,3773.4 L1854.7,3773.2 L1857.7,3773.0 L1860.7,3772.8 L1863.7,3772.6 L1866.7,3772.4 L1869.7,3772.2 L1872.7,3772.0 L1875.7,3771.8 L1878.6,3771.6 L1881.6,3771.4 L1884.6,3771.2 L1886.6,3771.0" fill="none" stroke="#000" stroke-width="10" stroke-linejoin="round" stroke-linecap="butt"/>
<path d="M963.5,3128.8 L966.5,3130.1 L969.5,3131.3 L972.5,3132.5 L975.5,3133.8 L978.5,3135.0 L981.5,3136.2 L984.5,3137.4 L987.5,3138.6 L990.5,3139.8 L993.5,3141.0 L996.5,3142.1 L999.5,3143.3 L1002.5,3144.4 L1005.5,3145.5 L1008.5,3146.6 L1011.5,3147.7 L1014.5,3148.8 L1017.5,3149.8 L1020.5,3150.9 L1023.5,3151.9 L1026.5,3152.9 L1029.5,3153.9 L1032.5,3154.9 L1035.5,3155.8 L1038.5,3156.8 L1041.5,3157.7 L1044.5,3158.6 L1047.5,3159.5 L1050.5,3160.4 L1053.5,3161.3 L1056.5,3162.1 L1059.5,3163.0 L1062.5,3163.9 L1065.5,3164.7 L1068.5,3165.6 L1071.5,3166.4 L1074.5,3167.3 L1077.5,3168.1 L1080.5,3168.9 L1083.5,3169.7 L1086.5,3170.5 L1089.5,3171.3 L1092.5,3172.1 L1095.5,3172.9 L1098.5,3173.6 L1101.5,3174.4 L1104.5,3175.1 L1107.5,3175.8 L1110.5,3176.6 L1113.5,3177.3 L1116.5,3178.0 L1119.5,3178.7 L1122.5,3179.3 L1125.5,3180.0 L1128.5,3180.6 L1131.5,3181.3 L1134.5,3181.9 L1137.5,3182.5 L1140.5,3183.1 L1143.5,3183.7 L1146.5,3184.2 L1149.5,3184.8 L1152.5,3185.3 L1155.5,3185.8 L1158.5,3186.4 L1161.5,3186.9 L1164.5,3187.4 L1167.5,3187.9 L1170.5,3188.4 L1173.5,3188.9 L1176.5,3189.3 L1179.5,3189.8 L1182.5,3190.3 L1185.5,3190.7 L1188.5,3191.2 L1191.5,3191.6 L1194.5,3192.1 L1197.5,3192.5 L1200.5,3193.0 L1203.5,3193.4 L1206.5,3193.8 L1209.5,3194.2 L1212.5,3194.6 L1215.5,3195.0 L1218.5,3195.4 L1221.5,3195.8 L1224.5,3196.2 L1227.5,3196.6 L1230.5,3197.0 L1233.5,3197.4 L1236.5,3197.8 L1239.5,3198.2 L1242.5,3198.5 L1245.5,3198.9 L1248.5,3199.3 L1251.5,3199.6 L1254.5,3200.0 L1257.5,3200.4 L1260.5,3200.7 L1263.5,3201.1 L1266.5,3201.4 L1269.5,3201.8 L1272.5,3202.1 L1275.5,3202.5 L1278.5,3202.8 L1281.5,3203.2 L1284.5,3203.5 L1287.5,3203.9 L1290.5,3204.2 L1293.5,3204.6 L1296.5,3204.9 L1299.5,3205.2 L1302.5,3205.6 L1305.5,3205.9 L1308.5,3206.3 L1311.5,3206.6 L1314.5,3206.9 L1317.5,3207.3 L1320.5,3207.6 L1323.5,3207.9 L1326.5,3208.3 L1329.5,3208.6 L1332.5,3208.9 L1335.5,3209.2 L1338.5,3209.6 L1341.5,3209.9 L1344.5,3210.2 L1347.5,3210.5 L1350.5,3210.8 L1353.5,3211.1 L1356.5,3211.5 L1359.5,3211.8 L1362.5,3212.1 L1365.5,3212.4 L1368.5,3212.7 L1371.5,3213.0 L1374.5,3213.3 L1377.5,3213.6 L1380.5,3213.9 L1383.5,3214.2 L1386.5,3214.5 L1389.5,3214.8 L1392.5,3215.1 L1395.5,3215.4 L1398.5,3215.7 L1401.5,3216.0 L1404.5,3216.3 L1407.5,3216.6 L1410.5,3216.9 L1413.5,3217.1 L1416.5,3217.4 L1419.5,3217.7 L1422.5,3218.0 L1425.5,3218.3 L1428.5,3218.6 L1431.5,3218.9 L1434.5,3219.1 L1437.5,3219.4 L1440.5,3219.7 L1443.5,3220.0 L1446.5,3220.3 L1449.5,3220.5 L1452.5,3220.8 L1455.5,3221.1 L1458.5,3221.4 L1461.5,3221.6 L1464.5,3221.9 L1467.5,3222.2 L1470.5,3222.4 L1473.5,3222.7 L1476.5,3223.0 L1479.5,3223.3 L1482.5,3223.5 L1485.5,3223.8 L1488.5,3224.1 L1491.5,3224.3 L1494.5,3224.6 L1497.5,3224.9 L1500.5,3225.1 L1503.5,3225.4 L1506.5,3225.7 L1509.5,3225.9 L1512.5,3226.2 L1515.5,3226.5 L1518.5,3226.7 L1521.5,3227.0 L1524.5,3227.3 L1527.5,3227.5 L1530.5,3227.8 L1533.5,3228.0 L1536.5,3228.3 L1539.5,3228.6 L1542.5,3228.8 L1545.5,3229.1 L1548.5,3229.4 L1551.5,3229.6 L1554.5,3229.9 L1557.5,3230.1 L1560.5,3230.4 L1563.5,3230.7 L1566.5,3230.9 L1569.5,3231.2 L1572.5,3231.4 L1575.5,3231.7 L1578.5,3232.0 L1581.5,3232.2 L1584.5,3232.5 L1587.5,3232.7 L1590.5,3233.0 L1593.5,3233.3 L1596.5,3233.5 L1599.5,3233.8 L1602.5,3234.0 L1605.5,3234.3 L1608.5,3234.6 L1611.5,3234.8 L1614.5,3235.1 L1617.5,3235.3 L1620.5,3235.6 L1623.5,3235.8 L1626.5,3236.1 L1629.5,3236.3 L1632.5,3236.6 L1635.5,3236.8 L1638.5,3237.1 L1641.5,3237.3 L1644.5,3237.6 L1647.5,3237.8 L1650.5,3238.1 L1653.5,3238.3 L1656.5,3238.6 L1659.5,3238.8 L1662.5,3239.1 L1665.5,3239.3 L1668.5,3239.6 L1671.5,3239.8 L1674.5,3240.1 L1677.5,3240.3 L1680.5,3240.6 L1683.5,3240.8 L1686.5,3241.1 L1689.5,3241.3 L1692.5,3241.6 L1695.5,3241.8 L1698.5,3242.0 L1701.5,3242.3 L1704.5,3242.5 L1707.5,3242.8 L1710.5,3243.0 L1713.5,3243.3 L1716.5,3243.5 L1719.5,3243.7 L1722.5,3244.0 L1725.5,3244.2 L1728.5,3244.5 L1731.5,3244.7 L1734.5,3244.9 L1737.5,3245.2 L1740.5,3245.4 L1743.5,3245.6 L1746.5,3245.9 L1749.5,3246.1 L1752.5,3246.3 L1755.5,3246.6 L1758.5,3246.8 L1761.5,3247.0 L1764.5,3247.3 L1767.5,3247.5 L1770.5,3247.7 L1773.5,3248.0 L1776.5,3248.2 L1779.5,3248.4 L1782.5,3248.7 L1785.5,3248.9 L1788.5,3249.1 L1791.5,3249.4 L1794.5,3249.6 L1797.5,3249.8 L1800.5,3250.0 L1803.5,3250.3 L1806.5,3250.5 L1809.5,3250.7 L1812.5,3250.9 L1815.5,3251.2 L1818.5,3251.4 L1821.5,3251.6 L1824.5,3251.8 L1827.5,3252.1 L1830.5,3252.3 L1833.5,3252.5 L1836.5,3252.7 L1839.5,3252.9 L1842.5,3253.2 L1845.5,3253.4 L1848.5,3253.6 L1851.5,3253.8 L1854.5,3254.0 L1857.5,3254.2 L1860.5,3254.5 L1863.5,3254.7 L1866.5,3254.9 L1869.5,3255.1 L1872.5,3255.3 L1875.5,3255.5 L1878.5,3255.7 L1881.5,3255.9 L1884.5,3256.2 L1887.5,3256.4 L1888.0,3256.4" fill="none" stroke="#ee1c25" stroke-width="9" stroke-linejoin="round" stroke-linecap="round"/>
<path d="M145.0,3105.8 L148.0,3106.0 L151.0,3106.1 L154.0,3106.3 L157.0,3106.4 L160.0,3106.6 L163.0,3106.7 L166.0,3106.9 L169.0,3107.1 L172.0,3107.2 L175.0,3107.4 L178.0,3107.6 L180.9,3107.7 L183.9,3107.9 L186.9,3108.0 L189.9,3108.2 L192.9,3108.4 L195.9,3108.5 L198.9,3108.7 L201.9,3108.9 L204.9,3109.1 L207.9,3109.2 L210.9,3109.4 L213.9,3109.6 L216.9,3109.7 L219.9,3109.9 L222.9,3110.1 L225.9,3110.3 L228.9,3110.4 L231.9,3110.6 L234.9,3110.8 L237.9,3111.0 L240.9,3111.1 L243.8,3111.3 L246.8,3111.5 L249.8,3111.7 L252.8,3111.9 L255.8,3112.1 L258.8,3112.2 L261.8,3112.4 L264.8,3112.6 L267.8,3112.8 L270.8,3113.0 L273.8,3113.2 L276.8,3113.3 L279.8,3113.5 L282.8,3113.7 L285.8,3113.9 L288.8,3114.1 L291.8,3114.3 L294.7,3114.5 L297.7,3114.7 L300.7,3114.9 L303.7,3115.1 L306.7,3115.2 L309.7,3115.4 L312.7,3115.6 L315.7,3115.8 L318.7,3116.0 L321.7,3116.2 L324.7,3116.4 L327.7,3116.6 L330.7,3116.8 L333.7,3117.0 L336.7,3117.2 L339.7,3117.4 L342.6,3117.6 L345.6,3117.8 L348.6,3118.1 L351.6,3118.3 L354.6,3118.5 L357.6,3118.7 L360.6,3118.9 L363.6,3119.1 L366.6,3119.4 L369.6,3119.6 L372.6,3119.8 L375.6,3120.1 L378.5,3120.3 L381.5,3120.5 L384.5,3120.7 L387.5,3121.0 L390.5,3121.2 L393.5,3121.5 L396.5,3121.7 L399.5,3121.9 L402.5,3122.2 L405.5,3122.4 L408.5,3122.6 L411.4,3122.9 L414.4,3123.1 L417.4,3123.4 L420.4,3123.6 L423.4,3123.8 L426.4,3124.1 L429.4,3124.3 L432.4,3124.5 L435.4,3124.8 L438.4,3125.0 L441.3,3125.3 L444.3,3125.5 L447.3,3125.7 L450.3,3126.0 L453.3,3126.2 L456.3,3126.4 L459.3,3126.7 L462.3,3126.9 L465.3,3127.1 L468.3,3127.3 L471.3,3127.6 L474.3,3127.8 L477.2,3128.0 L480.2,3128.2 L483.2,3128.5 L486.2,3128.7 L489.2,3128.9 L492.2,3129.1 L495.2,3129.3 L498.2,3129.5 L501.2,3129.7 L504.2,3129.9 L507.2,3130.1 L510.2,3130.3 L513.2,3130.5 L516.2,3130.7 L519.1,3130.9 L522.1,3131.1 L525.1,3131.2 L528.1,3131.4 L531.1,3131.6 L534.1,3131.8 L537.1,3131.9 L540.1,3132.1 L543.1,3132.3 L546.1,3132.4 L549.1,3132.6 L552.1,3132.7 L555.1,3132.9 L558.1,3133.0 L561.1,3133.2 L564.1,3133.4 L567.1,3133.5 L570.1,3133.7 L573.1,3133.8 L576.1,3134.0 L579.1,3134.2 L582.1,3134.3 L585.0,3134.5 L588.0,3134.7 L591.0,3134.8 L594.0,3135.0 L597.0,3135.2 L600.0,3135.4 L603.0,3135.6 L606.0,3135.8 L609.0,3136.0 L612.0,3136.2 L615.0,3136.4 L618.0,3136.5 L621.0,3136.7 L624.0,3136.9 L627.0,3137.1 L630.0,3137.3 L633.0,3137.5 L635.9,3137.7 L638.9,3137.9 L641.9,3138.1 L644.9,3138.2 L647.9,3138.4 L650.9,3138.6 L653.9,3138.8 L656.9,3139.0 L659.9,3139.2 L662.9,3139.5 L665.9,3139.7 L668.9,3139.9 L671.9,3140.1 L674.9,3140.3 L677.8,3140.6 L680.8,3140.8 L683.8,3141.0 L686.8,3141.3 L689.8,3141.5 L692.8,3141.8 L695.8,3142.0 L698.8,3142.3 L701.8,3142.6 L704.8,3142.8 L707.7,3143.1 L710.7,3143.4 L713.7,3143.7 L716.7,3144.0 L719.7,3144.3 L722.7,3144.7 L725.6,3145.0 L728.6,3145.3 L731.6,3145.7 L734.6,3146.0 L737.6,3146.4 L740.5,3146.8 L743.5,3147.2 L746.5,3147.6 L749.4,3148.1 L752.4,3148.6 L755.4,3149.1 L758.3,3149.6 L761.3,3150.1 L764.2,3150.7 L767.1,3151.3 L770.1,3151.9 L773.0,3152.6 L775.9,3153.2 L778.9,3153.9 L781.8,3154.6 L784.7,3155.3 L787.6,3156.1 L790.5,3156.8 L793.4,3157.6 L796.3,3158.4 L799.2,3159.2 L802.1,3160.0 L804.9,3160.9 L807.8,3161.8 L810.7,3162.6 L813.5,3163.5 L816.4,3164.4 L819.2,3165.4 L822.1,3166.3 L824.9,3167.3 L827.7,3168.4 L830.5,3169.5 L833.3,3170.6 L836.0,3171.8 L838.8,3173.1 L841.5,3174.4 L844.2,3175.7 L846.8,3177.1 L849.5,3178.5 L852.1,3180.0 L854.7,3181.5 L857.2,3183.1 L859.8,3184.7 L862.2,3186.3 L864.7,3188.0 L867.1,3189.9 L869.4,3191.8 L871.6,3193.8 L873.8,3195.8 L875.9,3197.9 L878.0,3200.1 L880.0,3202.3 L882.1,3204.5 L884.1,3206.7 L886.2,3208.8 L888.3,3210.5 L890.4,3211.3 L892.6,3211.0 L894.8,3209.9 L897.0,3209.1 L899.3,3209.2 L901.6,3210.2 L904.1,3211.8 L906.5,3213.5 L909.0,3215.2 L911.4,3216.9 L913.9,3218.6 L916.4,3220.3 L918.8,3222.0 L921.3,3223.7 L923.8,3225.4 L926.3,3227.1 L928.8,3228.8 L931.3,3230.5 L933.7,3232.1 L936.2,3233.8 L938.7,3235.4 L941.2,3237.1 L943.8,3238.8 L946.3,3240.4 L948.8,3242.0 L951.3,3243.7 L953.8,3245.3 L956.3,3246.9 L958.9,3248.5 L961.4,3250.2 L963.9,3251.8 L966.5,3253.4 L969.0,3255.0 L971.5,3256.5 L974.1,3258.1 L976.6,3259.7 L979.2,3261.3 L981.8,3262.8 L984.3,3264.4 L986.9,3265.9 L989.5,3267.5 L992.1,3269.0 L994.7,3270.5 L997.2,3272.0 L999.9,3273.5 L1002.5,3275.0 L1005.1,3276.4 L1007.7,3277.9 L1010.3,3279.3 L1013.0,3280.7 L1015.6,3282.2 L1018.3,3283.6 L1020.9,3285.0 L1023.6,3286.4 L1026.2,3287.8 L1028.9,3289.2 L1031.5,3290.7 L1034.1,3292.1 L1036.8,3293.6 L1039.4,3295.0 L1042.0,3296.5 L1044.6,3298.0 L1047.1,3299.6 L1049.7,3301.2 L1052.2,3302.8 L1054.7,3304.4 L1057.2,3306.1 L1059.7,3307.8 L1062.2,3309.4 L1064.7,3311.1 L1067.2,3312.8 L1069.7,3314.4 L1072.3,3316.0 L1074.8,3317.5 L1077.4,3319.0 L1080.1,3320.4 L1082.8,3321.7 L1085.5,3323.0 L1088.2,3324.2 L1091.0,3325.4 L1093.7,3326.6 L1096.5,3327.8 L1099.3,3328.9 L1102.1,3330.0 L1104.9,3331.0 L1107.7,3332.1 L1110.5,3333.1 L1113.3,3334.1 L1116.2,3335.1 L1119.0,3336.1 L1121.8,3337.0 L1124.7,3338.0 L1127.5,3339.0 L1130.4,3339.9 L1133.2,3340.9 L1136.1,3341.8 L1138.9,3342.7 L1141.8,3343.7 L1144.6,3344.6 L1147.5,3345.5 L1150.3,3346.4 L1153.2,3347.3 L1156.1,3348.2 L1158.9,3349.1 L1161.8,3350.0 L1164.7,3350.9 L1167.5,3351.7 L1170.4,3352.6 L1173.3,3353.4 L1176.2,3354.2 L1179.1,3355.0 L1182.0,3355.8 L1184.9,3356.6 L1187.8,3357.4 L1190.7,3358.1 L1193.6,3358.9 L1196.5,3359.6 L1199.4,3360.4 L1202.3,3361.1 L1205.2,3361.9 L1208.1,3362.6 L1211.0,3363.3 L1213.9,3364.0 L1216.9,3364.7 L1219.8,3365.4 L1222.7,3366.1 L1225.6,3366.8 L1228.5,3367.4 L1231.5,3368.1 L1234.4,3368.7 L1237.3,3369.4 L1240.3,3370.0 L1243.2,3370.6 L1246.1,3371.2 L1249.1,3371.8 L1252.0,3372.4 L1255.0,3373.0 L1257.9,3373.5 L1260.9,3374.1 L1263.8,3374.6 L1266.8,3375.2 L1269.7,3375.7 L1272.7,3376.2 L1275.6,3376.8 L1278.6,3377.3 L1281.5,3377.8 L1284.5,3378.3 L1287.4,3378.8 L1290.4,3379.3 L1293.4,3379.8 L1296.3,3380.3 L1299.3,3380.7 L1302.3,3381.2 L1305.2,3381.7 L1308.2,3382.2 L1311.1,3382.6 L1314.1,3383.1 L1317.1,3383.6 L1320.0,3384.0 L1323.0,3384.5 L1326.0,3385.0 L1328.9,3385.5 L1331.9,3385.9 L1334.8,3386.4 L1337.8,3386.9 L1340.8,3387.3 L1343.7,3387.8 L1346.7,3388.3 L1349.7,3388.8 L1352.6,3389.3 L1355.6,3389.8 L1358.5,3390.2 L1361.5,3390.7 L1364.5,3391.2 L1367.4,3391.7 L1370.4,3392.2 L1373.3,3392.7 L1376.3,3393.2 L1379.3,3393.6 L1382.2,3394.1 L1385.2,3394.6 L1388.1,3395.1 L1391.1,3395.6 L1394.1,3396.1 L1397.0,3396.6 L1400.0,3397.0 L1402.9,3397.5 L1405.9,3398.0 L1408.9,3398.5 L1411.8,3399.0 L1414.8,3399.5 L1417.7,3399.9 L1420.7,3400.4 L1423.7,3400.9 L1426.6,3401.4 L1429.6,3401.9 L1432.5,3402.4 L1435.5,3402.8 L1438.5,3403.3 L1441.4,3403.8 L1444.4,3404.3 L1447.4,3404.8 L1450.3,3405.2 L1453.3,3405.7 L1456.2,3406.2 L1459.2,3406.7 L1462.2,3407.1 L1465.1,3407.6 L1468.1,3408.1 L1471.0,3408.6 L1474.0,3409.0 L1477.0,3409.5 L1479.9,3410.0 L1482.9,3410.5 L1485.9,3410.9 L1488.8,3411.4 L1491.8,3411.9 L1494.8,3412.3 L1497.7,3412.8 L1500.7,3413.3 L1503.6,3413.7 L1506.6,3414.2 L1509.6,3414.7 L1512.5,3415.1 L1515.5,3415.6 L1518.5,3416.0 L1521.4,3416.5 L1524.4,3417.0 L1527.4,3417.4 L1530.3,3417.9 L1533.3,3418.3 L1536.3,3418.8 L1539.2,3419.2 L1542.2,3419.7 L1545.2,3420.1 L1548.1,3420.6 L1551.1,3421.0 L1554.1,3421.5 L1557.0,3421.9 L1560.0,3422.4 L1563.0,3422.8 L1565.9,3423.2 L1568.9,3423.7 L1571.9,3424.1 L1574.8,3424.6 L1577.8,3425.0 L1580.8,3425.4 L1583.7,3425.9 L1586.7,3426.3 L1589.7,3426.8 L1592.6,3427.2 L1595.6,3427.6 L1598.6,3428.1 L1601.5,3428.5 L1604.5,3428.9 L1607.5,3429.4 L1610.4,3429.8 L1613.4,3430.2 L1616.4,3430.7 L1619.3,3431.1 L1622.3,3431.5 L1625.3,3432.0 L1628.2,3432.4 L1631.2,3432.8 L1634.2,3433.3 L1637.2,3433.7 L1640.1,3434.1 L1643.1,3434.6 L1646.1,3435.0 L1649.0,3435.4 L1652.0,3435.8 L1655.0,3436.3 L1657.9,3436.7 L1660.9,3437.1 L1663.9,3437.6 L1666.8,3438.0 L1669.8,3438.4 L1672.8,3438.8 L1675.8,3439.2 L1678.7,3439.7 L1681.7,3440.1 L1684.7,3440.5 L1687.6,3440.9 L1690.6,3441.4 L1693.6,3441.8 L1696.6,3442.2 L1699.5,3442.6 L1702.5,3443.0 L1705.5,3443.5 L1708.4,3443.9 L1711.4,3444.3 L1714.4,3444.7 L1717.3,3445.1 L1720.3,3445.5 L1723.3,3445.9 L1726.3,3446.4 L1729.2,3446.8 L1732.2,3447.2 L1735.2,3447.6 L1738.1,3448.0 L1741.1,3448.4 L1744.1,3448.8 L1747.1,3449.2 L1750.0,3449.6 L1753.0,3450.0 L1756.0,3450.5 L1759.0,3450.9 L1761.9,3451.3 L1764.9,3451.7 L1767.9,3452.1 L1770.8,3452.5 L1773.8,3452.9 L1776.8,3453.3 L1779.8,3453.7 L1782.7,3454.1 L1785.7,3454.5 L1788.7,3454.9 L1791.7,3455.3 L1794.6,3455.7 L1797.6,3456.1 L1800.6,3456.5 L1803.5,3456.9 L1806.5,3457.3 L1809.5,3457.7 L1812.5,3458.1 L1815.4,3458.4 L1818.4,3458.8 L1821.4,3459.2 L1824.4,3459.6 L1827.3,3460.0 L1830.3,3460.4 L1833.3,3460.8 L1836.3,3461.2 L1839.2,3461.6 L1842.2,3462.0 L1845.2,3462.3 L1848.2,3462.7 L1851.1,3463.1 L1854.1,3463.5 L1857.1,3463.9 L1860.1,3464.3 L1863.0,3464.6 L1866.0,3465.0 L1869.0,3465.4 L1872.0,3465.8 L1874.9,3466.2 L1877.9,3466.5 L1880.9,3466.9 L1883.9,3467.3 L1886.9,3467.7 L1887.8,3467.8" fill="none" stroke="#3f48cc" stroke-width="10" stroke-linejoin="round" stroke-linecap="butt"/></svg></body></html>
